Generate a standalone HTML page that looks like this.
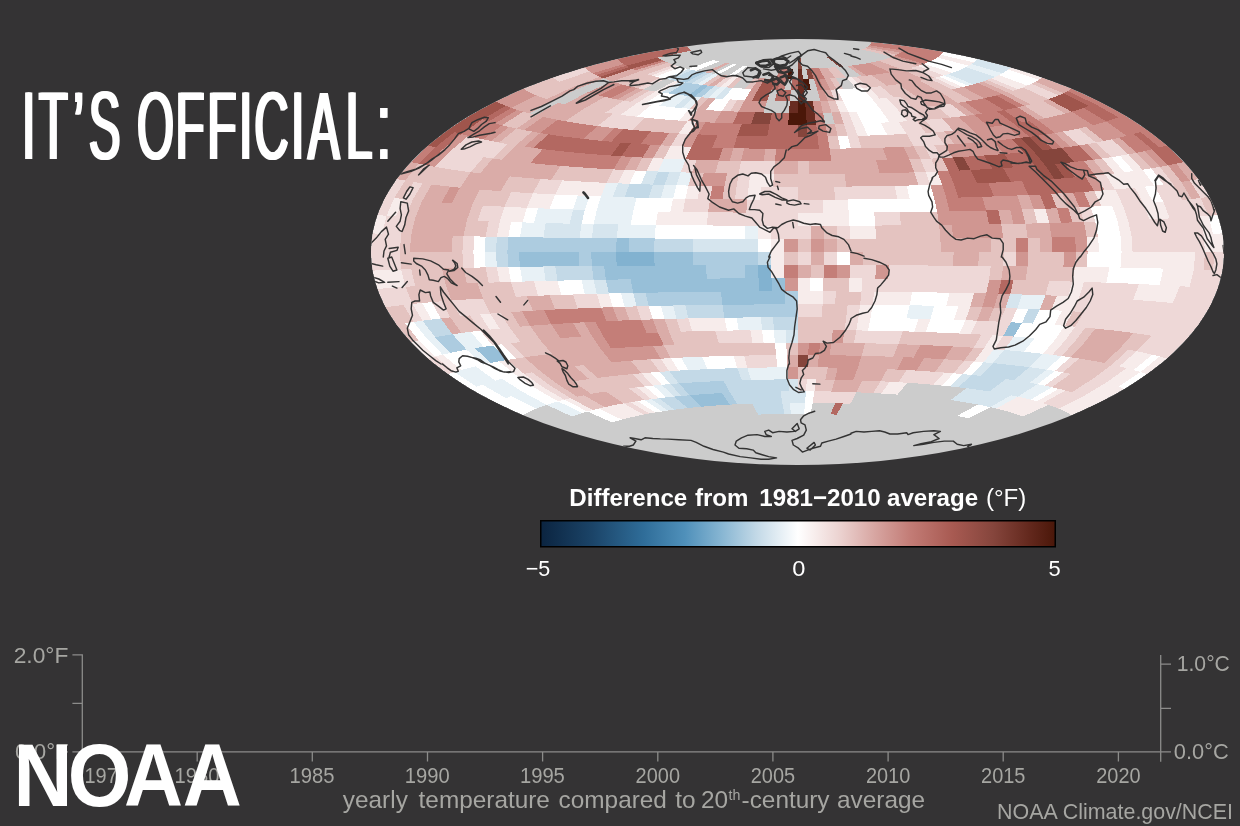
<!DOCTYPE html>
<html lang="en"><head><meta charset="utf-8"><title>It's official: NOAA global temperature</title>
<style>
html,body{margin:0;padding:0;background:#343334;}
body{width:1240px;height:826px;overflow:hidden;}
svg{display:block;}
text{font-family:"DejaVu Sans","Liberation Sans",sans-serif;}
.lib{font-family:"Liberation Sans",sans-serif;}
</style></head>
<body>
<svg width="1240" height="826" viewBox="0 0 1240 826">
<defs>
<clipPath id="globe"><ellipse cx="797.5" cy="252.0" rx="426.5" ry="213.0"/></clipPath>
<linearGradient id="cb" x1="0" x2="1" y1="0" y2="0"><stop offset="0.0%" stop-color="#0b2440"/><stop offset="10.0%" stop-color="#1b4468"/><stop offset="20.0%" stop-color="#2f6d99"/><stop offset="28.0%" stop-color="#4f90ba"/><stop offset="35.0%" stop-color="#86b5d2"/><stop offset="42.0%" stop-color="#c3d9e7"/><stop offset="50.0%" stop-color="#ffffff"/><stop offset="58.0%" stop-color="#ecd3d1"/><stop offset="65.0%" stop-color="#d7a5a1"/><stop offset="72.0%" stop-color="#c27b75"/><stop offset="80.0%" stop-color="#a85a52"/><stop offset="88.0%" stop-color="#85453c"/><stop offset="95.0%" stop-color="#63281d"/><stop offset="100.0%" stop-color="#4a1709"/></linearGradient>
</defs>
<rect width="1240" height="826" fill="#343334"/>
<ellipse cx="797.5" cy="252.0" rx="426.5" ry="213.0" fill="#cccccc"/>
<g clip-path="url(#globe)">
<g shape-rendering="crispEdges">
<path fill="#ffffff" d="M713.1,60L714.6,60.4L716.1,60.8L717.6,61.1L719.2,61.5L696.3,70.8L694.3,70.3L692.2,69.9L690.2,69.5L688.2,69ZM732.7,64L734.5,64.3L736.3,64.6L718.7,74.5L716.4,74.2L714,73.8ZM743.8,65.6L745.7,65.8L747.6,66L733.4,76.2L730.9,75.9L728.5,75.7ZM680.8,67L682.6,67.5L684.4,68L686.3,68.5L688.2,69L665,78.8L662.6,78.3L660.3,77.7L657.9,77.2L655.7,76.6ZM924.2,63.8L925.7,63.2L927.2,62.6L928.6,62L930,61.4L931.3,60.8L932.6,60.2L933.8,59.5L934.9,58.9L936,58.2L937.1,57.5L968.8,65.7L967.4,66.5L965.9,67.2L964.4,68L962.8,68.7L961.1,69.4L959.4,70.2L957.6,70.9L955.8,71.6L953.9,72.2L952,72.9ZM940.7,54.8L941.5,54L942.2,53.3L942.8,52.6L943.4,51.8L977.7,59L976.9,59.8L975.9,60.7L974.9,61.6L973.8,62.4ZM732.7,87.9L735.9,88.1L739,88.3L742.2,88.5L745.3,88.7L748.5,88.9L751.7,89L744.7,100.2L741,100L737.3,99.8L733.7,99.6L730,99.4L726.4,99.2L722.7,99ZM836.8,89.3L840,89.2L843.3,89L846.5,88.9L849.7,88.7L852.8,88.5L856,88.3L859.1,88.1L862.3,87.9L872.3,99L868.6,99.2L865,99.4L861.3,99.6L857.7,99.8L854,100L850.3,100.2L846.6,100.4L842.8,100.5ZM939.3,76.6L941.6,76L943.7,75.4L968,85.7L965.4,86.4L962.7,87ZM661.6,92.5L664.7,93L667.9,93.4L671.1,93.9L674.4,94.3L658.9,105.7L655.3,105.3L651.6,104.8L648,104.4L644.4,103.9ZM715.5,98.5L719.1,98.7L722.7,99L726.4,99.2L730,99.4L721.8,110.9L717.7,110.7L713.6,110.5L709.6,110.2L705.5,110ZM842.8,100.5L846.6,100.4L850.3,100.2L854,100L857.7,99.8L861.3,99.6L865,99.4L868.6,99.2L872.3,99L881.4,110.5L877.3,110.7L873.2,110.9L869.1,111.2L864.9,111.4L860.8,111.5L856.6,111.7L852.5,111.9L848.3,112ZM998.9,75.1L1000.7,74.2L1002.3,73.3L1003.9,72.4L1005.5,71.4L1006.9,70.5L1008.3,69.5L1038.9,79.7L1037.2,80.7L1035.3,81.7L1033.4,82.7L1031.4,83.7L1029.4,84.7L1027.2,85.6ZM651.6,104.8L655.3,105.3L658.9,105.7L662.7,106.2L666.4,106.6L670.2,107L674,107.4L677.9,107.7L681.8,108.1L685.7,108.4L689.6,108.8L678.9,120.6L674.5,120.3L670.2,119.9L665.9,119.6L661.7,119.2L657.5,118.8L653.3,118.4L649.1,118L644.9,117.6L640.8,117.2L636.8,116.7ZM856.6,111.7L860.8,111.5L864.9,111.4L869.1,111.2L873.2,110.9L877.3,110.7L881.4,110.5L889.6,122.3L885.1,122.5L880.6,122.8L876.1,123L871.5,123.2L867,123.4L862.4,123.5ZM862.4,123.5L867,123.4L871.5,123.2L876.1,123L880.6,122.8L887.3,134.9L882.4,135.1L877.5,135.3L872.5,135.4L867.6,135.6ZM837.7,136.4L842.7,136.3L847.7,136.2L851,148.4L845.7,148.5L840.3,148.6ZM635.5,170.5L641,170.8L646.6,171L641.1,184.2L635.3,184L629.5,183.8ZM1111.3,157.1L1115.6,156.5L1120,155.7L1133.5,171L1128.9,171.6L1124.3,172.2ZM676.5,185.3L682.4,185.4L688.4,185.6L685.3,198.7L679.2,198.6L673,198.5ZM906.6,185.6L912.6,185.4L918.5,185.3L924.5,185.1L930.4,185L934.2,198.2L928.1,198.3L922,198.5L915.8,198.6L909.7,198.7ZM1142.5,169.7L1147,169L1151.3,168.3L1163.5,184.5L1158.8,185L1154.2,185.6ZM555.1,194.5L560.7,194.8L566.4,195L572.1,195.3L577.8,195.5L573,209.5L567.1,209.3L561.2,209.1L555.4,208.9L549.6,208.7ZM589.4,196L595.2,196.2L601.1,196.4L596.7,210.2L590.8,210L584.8,209.9ZM636.7,197.6L642.7,197.8L648.7,197.9L654.8,198.1L660.8,198.2L666.9,198.3L673,198.5L670.4,211.7L664.1,211.6L657.9,211.5L651.7,211.4L645.5,211.3L639.3,211.2L633.2,211.1ZM847.7,199.5L853.9,199.4L860.1,199.4L866.4,199.3L872.6,199.3L878.8,199.2L885,199.1L891.2,199L897.4,198.9L903.6,198.8L909.7,198.7L915.8,198.6L922,198.5L928.1,198.3L934.2,198.2L937.1,211.5L930.9,211.6L924.6,211.7L918.4,211.8L912.1,211.9L905.8,212L899.5,212.1L893.2,212.2L886.9,212.2L880.5,212.3L874.2,212.3L867.8,212.4L861.5,212.5L855.1,212.5L848.7,212.5ZM1144.7,186.7L1149.5,186.1L1154.2,185.6L1163.3,201.9L1158.4,202.3L1153.4,202.7ZM526.8,207.8L532.5,208L538.1,208.3L534,222.8L528.2,222.6L522.5,222.4ZM584.8,209.9L590.8,210L596.7,210.2L593.7,224.1L587.6,224L581.5,223.8ZM633.2,211.1L639.3,211.2L645.5,211.3L651.7,211.4L657.9,211.5L655.8,225L649.5,224.9L643.2,224.8L636.9,224.7L630.7,224.7ZM848.7,212.5L855.1,212.5L861.5,212.5L867.8,212.4L874.2,212.3L875.3,225.5L868.9,225.6L862.4,225.6L855.9,225.6L849.5,225.6ZM1090.5,206.7L1095.9,206.4L1101.4,206.2L1106.8,205.9L1112.1,205.5L1117.4,220.9L1111.9,221.1L1106.4,221.3L1100.8,221.5L1095.3,221.7ZM511,222.1L516.7,222.3L522.5,222.4L519.9,237.2L514.1,237.1L508.3,237ZM655.8,225L662.1,225L668.5,225.1L674.8,225.2L681.2,225.2L687.6,225.3L694,225.3L700.4,225.4L706.8,225.4L713.2,225.5L719.7,225.5L726.1,225.6L732.6,225.6L739.1,225.6L745.5,225.6L745.1,238.8L738.5,238.8L732,238.8L725.5,238.8L719,238.7L712.5,238.7L706,238.7L699.5,238.7L693.1,238.7L686.6,238.6L680.2,238.6L673.7,238.6L667.3,238.5L660.9,238.5L654.6,238.5ZM1095.3,221.7L1100.8,221.5L1106.4,221.3L1111.9,221.1L1117.4,220.9L1120.5,236.4L1115,236.5L1109.4,236.6L1103.8,236.7L1098.1,236.8ZM1208.4,215.8L1213,215.4L1217.5,215L1222.4,233.4L1217.7,233.6L1213,233.8ZM474.5,236.4L480,236.5L485.6,236.6L484.6,252L479,252L473.4,252ZM758.2,238.8L764.7,238.8L771.3,238.8L771.2,252L764.6,252L758.1,252ZM1098.1,236.8L1103.8,236.7L1109.4,236.6L1115,236.5L1120.5,236.4L1121.6,252L1116,252L1110.4,252L1104.8,252L1099.1,252ZM473.4,252L479,252L484.6,252L485.6,267.4L480,267.5L474.5,267.6ZM836.9,252L843.5,252L850.1,252L849.9,265.2L843.4,265.2L836.8,265.2ZM1087.6,252L1093.4,252L1099.1,252L1104.8,252L1110.4,252L1116,252L1121.6,252L1120.5,267.6L1115,267.5L1109.4,267.4L1103.8,267.3L1098.1,267.2L1092.4,267.1L1086.7,267ZM508.3,267L514.1,266.9L519.9,266.8L522.5,281.6L516.7,281.7L511,281.9ZM1109.4,267.4L1115,267.5L1120.5,267.6L1126,267.7L1131.5,267.8L1136.9,267.9L1142.3,268L1147.7,268.2L1153,268.3L1158.2,268.4L1163.4,268.6L1159.7,285L1154.5,284.7L1149.4,284.5L1144.1,284.2L1138.9,284L1133.6,283.8L1128.2,283.5L1122.8,283.3L1117.4,283.1L1111.9,282.9L1106.4,282.7ZM557.5,280.7L563.5,280.5L569.5,280.4L575.5,280.3L581.5,280.2L584.8,294.1L578.9,294.3L573,294.5L567.1,294.7L561.2,294.9ZM810.5,278.3L817,278.3L823.5,278.3L823.1,291.4L816.7,291.3L810.3,291.3ZM422.1,303L426.9,302.6L431.7,302.1L440.8,318.4L436.2,319L431.5,319.5ZM608.8,293.5L614.9,293.3L620.9,293.2L624.7,306.8L618.8,306.9L612.8,307.1ZM912.1,292.1L918.4,292.2L924.6,292.3L930.9,292.4L937.1,292.5L943.3,292.6L949.5,292.7L946.3,306.1L940.2,305.9L934.2,305.8L928.1,305.7L922,305.5L915.8,305.4L909.7,305.3ZM405.1,323.4L409.3,322.7L413.7,322L426.8,338.7L422.7,339.5L418.7,340.3ZM648.7,306.1L654.8,305.9L660.8,305.8L664.6,319L658.7,319.2L652.8,319.4ZM872.6,304.7L878.8,304.8L885,304.9L891.2,305L897.4,305.1L903.6,305.2L909.7,305.3L906.6,318.4L900.6,318.3L894.7,318.2L888.6,318L882.6,317.9L876.6,317.8L870.6,317.7ZM934.2,305.8L940.2,305.9L946.3,306.1L952.3,306.2L958.3,306.4L953.9,319.8L948,319.6L942.2,319.4L936.3,319.2L930.4,319ZM1017.2,308.5L1022.9,308.7L1028.6,309L1021.9,322.9L1016.4,322.6L1010.9,322.3ZM1039.9,309.5L1045.5,309.8L1051.1,310.1L1056.6,310.4L1062.1,310.7L1054.3,325L1049,324.6L1043.7,324.3L1038.3,323.9L1032.9,323.6ZM418.7,340.3L422.7,339.5L426.8,338.7L442.7,354.7L438.9,355.6L435.3,356.5ZM470.7,331.8L475.4,331.2L480.1,330.6L492.6,345.5L488.2,346.2L483.7,346.9ZM724.4,317.7L730.5,317.6L736.6,317.6L738.7,330.4L732.8,330.5L727,330.6ZM870.6,317.7L876.6,317.8L882.6,317.9L888.6,318L894.7,318.2L900.6,318.3L906.6,318.4L912.6,318.6L918.5,318.7L914.3,331.7L908.6,331.5L902.9,331.4L897.1,331.2L891.3,331.1L885.5,330.9L879.7,330.8L873.9,330.7L868,330.6ZM930.4,319L936.3,319.2L942.2,319.4L948,319.6L953.9,319.8L959.7,320L965.5,320.2L959.5,333.5L954,333.2L948.4,333L942.7,332.7L937.1,332.5L931.4,332.3L925.8,332.1ZM1021.9,322.9L1027.4,323.2L1032.9,323.6L1038.3,323.9L1043.7,324.3L1049,324.6L1054.3,325L1059.6,325.4L1064.8,325.8L1054.8,340L1049.8,339.5L1044.8,339.1L1039.7,338.6L1034.6,338.2L1029.5,337.8L1024.3,337.4L1019.1,337L1013.8,336.6ZM442.7,354.7L446.5,353.8L450.4,352.9L454.3,352.1L458.4,351.3L462.4,350.5L466.6,349.7L483.1,364.6L479.3,365.4L475.6,366.3L471.9,367.2L468.3,368.1L464.7,369.1L461.3,370ZM492.6,345.5L497.2,344.9L501.8,344.3L515.9,358.6L511.6,359.3L507.3,360ZM762.1,330.1L768,330.1L773.9,330L774.9,342.7L769.3,342.7L763.6,342.8ZM1034.6,338.2L1039.7,338.6L1044.8,339.1L1049.8,339.5L1054.8,340L1043,353.8L1038.3,353.3L1033.6,352.8L1028.8,352.3L1023.9,351.8ZM1152.3,354.7L1156.1,355.6L1159.7,356.5L1140.5,372L1137.1,371L1133.7,370ZM448.1,374.2L451.3,373.1L454.5,372L476.4,386.7L473.6,387.8L470.8,388.9ZM475.6,366.3L479.3,365.4L483.1,364.6L487,363.8L491,363L495,362.2L499,361.4L516.6,375.4L512.9,376.2L509.2,377.1L505.6,377.9L502.1,378.8L498.6,379.7L495.2,380.6ZM774.9,342.7L780.6,342.6L786.2,342.6L786.8,355L781.4,355.1L776.1,355.1ZM1061.5,356.1L1066,356.7L1070.4,357.3L1054.9,371L1050.7,370.3L1046.6,369.7ZM1140.5,372L1143.7,373.1L1146.9,374.2L1124.2,388.9L1121.4,387.8L1118.6,386.7ZM470.8,388.9L473.6,387.8L476.4,386.7L479.4,385.6L482.4,384.6L505.9,398.2L503.3,399.2L500.7,400.3L498.3,401.5L495.9,402.6ZM502.1,378.8L505.6,377.9L509.2,377.1L512.9,376.2L516.6,375.4L536.3,388.8L533,389.6L529.7,390.5L526.5,391.4L523.3,392.3ZM670.8,358.2L676,357.9L681.1,357.6L688.3,370.1L683.5,370.3L678.7,370.6ZM701.8,356.8L707.1,356.6L712.3,356.4L717.5,356.2L722.8,356.1L728.1,355.9L733.4,355.8L737.3,368.1L732.4,368.2L727.4,368.4L722.5,368.6L717.5,368.7L712.6,368.9L707.7,369.1ZM776.1,355.1L781.4,355.1L786.8,355L787.4,367.3L782.4,367.3L777.4,367.4ZM974,361.5L978.8,361.9L983.6,362.3L971.6,375L967.2,374.5L962.7,374.1ZM1054.9,371L1058.9,371.7L1062.9,372.4L1044.7,385.6L1041,384.9L1037.3,384.2ZM495.9,402.6L498.3,401.5L500.7,400.3L503.3,399.2L505.9,398.2L508.6,397.1L511.4,396.1L536.4,408.7L534,409.7L531.7,410.8L529.5,411.8L527.4,412.9L525.3,414L523.4,415.2ZM523.3,392.3L526.5,391.4L529.7,390.5L533,389.6L536.3,388.8L558.2,401.4L555.2,402.2L552.3,403.1L549.5,404L546.7,404.9ZM650.6,372.5L655.2,372.2L659.9,371.9L670.2,384.1L665.9,384.4L661.7,384.8ZM953.6,373.3L958.2,373.7L962.7,374.1L950.1,386.4L945.9,386L941.7,385.6ZM1051.8,387.2L1055.3,388L1058.7,388.8L1036.8,401.4L1033.8,400.5L1030.7,399.7ZM558.2,401.4L561.2,400.5L564.3,399.7L587.3,411.5L584.6,412.3L582,413.1ZM644.9,386.4L649.1,386L653.3,385.6L666.4,397.4L662.7,397.8L658.9,398.3ZM587.3,411.5L590,410.8L592.8,410L595.7,409.3L598.6,408.5L621.9,419.6L619.4,420.3L617,421L614.6,421.7L612.3,422.5ZM637.3,401.1L640.8,400.6L644.4,400.1L661.6,411.5L658.5,412L655.4,412.5ZM806,391.1L810.3,391.1L814.5,391.2L812.7,402.7L808.9,402.7L805.1,402.6ZM977.9,404.5L981.1,405.2L984.3,405.8L987.4,406.5L990.4,407.1L968,418.3L965.4,417.6L962.7,417L960,416.4L957.2,415.8ZM805.1,402.6L808.9,402.7L812.7,402.7L810.7,413.9L807.4,413.9L804.1,413.9Z"/>
<path fill="#f7eceb" d="M677.3,66L679,66.5L680.8,67L655.7,76.6L653.4,76L651.3,75.4ZM733.4,76.2L736,76.4L738.5,76.7L726.5,87.4L723.4,87.1L720.4,86.8ZM846.2,77.5L848.8,77.3L851.4,77.1L862.3,87.9L859.1,88.1L856,88.3ZM917.7,66L919.4,65.5L921.1,64.9L922.7,64.4L924.2,63.8L952,72.9L950,73.5L948,74.2L945.9,74.8L943.7,75.4ZM937.1,57.5L938.1,56.9L939,56.2L939.9,55.5L940.7,54.8L973.8,62.4L972.7,63.2L971.5,64.1L970.2,64.9L968.8,65.7ZM675.1,80.8L677.7,81.3L680.3,81.7L661.6,92.5L658.5,92L655.4,91.5ZM862.3,87.9L865.4,87.6L868.5,87.4L879.5,98.5L875.9,98.7L872.3,99ZM934.7,77.7L937.1,77.2L939.3,76.6L962.7,87L960,87.6L957.2,88.2ZM655.4,91.5L658.5,92L661.6,92.5L644.4,103.9L640.8,103.4L637.3,102.9ZM835.3,100.8L839.1,100.7L842.8,100.5L848.3,112L844.1,112.2L839.9,112.3ZM872.3,99L875.9,98.7L879.5,98.5L883,98.2L886.6,97.9L897.5,109.4L893.5,109.7L889.5,110L885.4,110.2L881.4,110.5ZM991.3,78.4L993.3,77.6L995.3,76.8L997.1,75.9L998.9,75.1L1027.2,85.6L1025,86.5L1022.8,87.4L1020.4,88.3L1018,89.2ZM1008.3,69.5L1009.5,68.5L1010.8,67.5L1042.1,77.5L1040.6,78.6L1038.9,79.7ZM637.3,102.9L640.8,103.4L644.4,103.9L648,104.4L651.6,104.8L636.8,116.7L632.7,116.2L628.7,115.8L624.8,115.3L620.8,114.7ZM689.6,108.8L693.5,109.1L697.5,109.4L687.6,121.2L683.2,120.9L678.9,120.6ZM848.3,112L852.5,111.9L856.6,111.7L862.4,123.5L857.8,123.7L853.2,123.8ZM881.4,110.5L885.4,110.2L889.5,110L893.5,109.7L897.5,109.4L907.4,121.2L903,121.5L898.5,121.8L894.1,122L889.6,122.3ZM687.6,121.2L692,121.5L696.5,121.8L688.3,133.9L683.5,133.7L678.7,133.4ZM853.2,123.8L857.8,123.7L862.4,123.5L867.6,135.6L862.6,135.8L857.7,135.9ZM880.6,122.8L885.1,122.5L889.6,122.3L894.1,122L898.5,121.8L906.7,133.9L901.8,134.2L897,134.4L892.1,134.6L887.3,134.9ZM670.8,145.8L676,146.1L681.1,146.4L686.2,146.6L691.4,146.8L685.6,159.4L680.2,159.2L674.7,159L669.3,158.8L663.9,158.6ZM653.1,158L658.5,158.3L663.9,158.6L657.9,171.5L652.3,171.3L646.6,171ZM624.4,170L629.9,170.3L635.5,170.5L629.5,183.8L623.8,183.6L618,183.3ZM750.4,173.8L756.3,173.8L762.1,173.9L768,173.9L773.9,174L773.1,186.7L767,186.7L760.9,186.7L754.8,186.6L748.7,186.6ZM925.8,171.9L931.4,171.7L937.1,171.5L942.2,184.6L936.3,184.8L930.4,185ZM1102.4,158.5L1106.8,157.8L1111.3,157.1L1124.3,172.2L1119.6,172.8L1114.9,173.4ZM1120,155.7L1124.2,155L1128.4,154.3L1142.5,169.7L1138.1,170.3L1133.5,171ZM562.1,180.4L567.6,180.8L573.1,181.1L578.6,181.4L584.1,181.7L589.7,182L595.3,182.3L601,182.6L606.6,182.8L601.1,196.4L595.2,196.2L589.4,196L583.6,195.8L577.8,195.5L572.1,195.3L566.4,195L560.7,194.8L555.1,194.5ZM688.4,185.6L694.4,185.7L700.3,185.8L697.6,198.9L691.4,198.8L685.3,198.7ZM748.7,186.6L754.8,186.6L760.9,186.7L759.9,199.6L753.6,199.5L747.3,199.5ZM894.7,185.8L900.6,185.7L906.6,185.6L909.7,198.7L903.6,198.8L897.4,198.9ZM1105.2,174.4L1110.1,173.9L1114.9,173.4L1119.6,172.8L1124.3,172.2L1128.9,171.6L1133.5,171L1138.1,170.3L1142.5,169.7L1154.2,185.6L1149.5,186.1L1144.7,186.7L1139.9,187.2L1135,187.7L1130.1,188.2L1125.1,188.6L1120.1,189.1L1115.1,189.5ZM532.9,193.3L538.4,193.6L543.9,193.9L549.5,194.2L555.1,194.5L549.6,208.7L543.9,208.5L538.1,208.3L532.5,208L526.8,207.8ZM673,198.5L679.2,198.6L685.3,198.7L682.9,211.9L676.6,211.8L670.4,211.7ZM822.6,199.6L828.9,199.6L835.1,199.6L841.4,199.5L847.7,199.5L848.7,212.5L842.3,212.6L835.9,212.6L829.5,212.6L823.1,212.6ZM1094.4,191.2L1099.6,190.8L1104.8,190.4L1109.9,190L1115.1,189.5L1122.7,204.9L1117.4,205.2L1112.1,205.5L1106.8,205.9L1101.4,206.2ZM1135,187.7L1139.9,187.2L1144.7,186.7L1153.4,202.7L1148.4,203.1L1143.4,203.5ZM394.3,198L398.8,198.5L403.4,199.1L396,216.5L391.3,216.1L386.6,215.8ZM504.5,206.7L510,207L515.6,207.3L521.2,207.5L526.8,207.8L522.5,222.4L516.7,222.3L511,222.1L505.4,221.9L499.7,221.7ZM657.9,211.5L664.1,211.6L670.4,211.7L676.6,211.8L682.9,211.9L689.2,212L695.5,212.1L701.8,212.2L708.1,212.2L706.8,225.4L700.4,225.4L694,225.3L687.6,225.3L681.2,225.2L674.8,225.2L668.5,225.1L662.1,225L655.8,225ZM797.5,212.7L803.9,212.7L810.3,212.7L816.7,212.7L823.1,212.6L829.5,212.6L835.9,212.6L842.3,212.6L848.7,212.5L849.5,225.6L843,225.7L836.5,225.7L830,225.7L823.5,225.7L817,225.7L810.5,225.7L804,225.7L797.5,225.7ZM1033.8,209.1L1039.6,208.9L1045.4,208.7L1049.3,223.1L1043.4,223.2L1037.5,223.3ZM1112.1,205.5L1117.4,205.2L1122.7,204.9L1128.2,220.5L1122.8,220.7L1117.4,220.9ZM1143.4,203.5L1148.4,203.1L1153.4,202.7L1158.4,202.3L1163.3,201.9L1169.8,218.4L1164.8,218.7L1159.7,219L1154.5,219.3L1149.4,219.5ZM377.5,215L382,215.4L386.6,215.8L382,233.8L377.3,233.6L372.6,233.4ZM499.7,221.7L505.4,221.9L511,222.1L508.3,237L502.6,236.9L496.9,236.8ZM758.5,225.7L765,225.7L771.5,225.7L771.3,238.8L764.7,238.8L758.2,238.8ZM849.5,225.6L855.9,225.6L862.4,225.6L868.9,225.6L875.3,225.5L876,238.7L869.5,238.8L863,238.8L856.5,238.8L849.9,238.8ZM1117.4,220.9L1122.8,220.7L1128.2,220.5L1131.5,236.2L1126,236.3L1120.5,236.4ZM1199,216.5L1203.7,216.1L1208.4,215.8L1213,233.8L1208.3,234L1203.5,234.2ZM771.3,238.8L777.8,238.9L784.4,238.9L784.3,252L777.8,252L771.2,252ZM1086.7,237L1092.4,236.9L1098.1,236.8L1099.1,252L1093.4,252L1087.6,252ZM1120.5,236.4L1126,236.3L1131.5,236.2L1132.6,252L1127.1,252L1121.6,252ZM1203.5,234.2L1208.3,234L1213,233.8L1217.7,233.6L1222.4,233.4L1224,252L1219.3,252L1214.6,252L1209.8,252L1205,252ZM771.2,252L777.8,252L784.3,252L784.4,265.1L777.8,265.1L771.3,265.2ZM1121.6,252L1127.1,252L1132.6,252L1138,252L1143.5,252L1148.8,252L1154.2,252L1159.4,252L1164.7,252L1169.9,252L1175,252L1180.1,252L1185.2,252L1190.2,252L1195.2,252L1193.8,269.5L1188.8,269.3L1183.8,269.1L1178.8,269L1173.7,268.8L1168.6,268.7L1163.4,268.6L1158.2,268.4L1153,268.3L1147.7,268.2L1142.3,268L1136.9,267.9L1131.5,267.8L1126,267.7L1120.5,267.6ZM372.6,270.6L377.3,270.4L382,270.2L386.7,270L391.5,269.8L396.3,269.6L401.2,269.5L405.5,286.8L400.7,287.2L396,287.5L391.3,287.9L386.6,288.2L382,288.6L377.5,289ZM496.9,267.2L502.6,267.1L508.3,267L511,281.9L505.4,282.1L499.7,282.3ZM771.3,265.2L777.8,265.1L784.4,265.1L784.5,278.3L778,278.3L771.5,278.3ZM1075.1,266.8L1080.9,266.9L1086.7,267L1092.4,267.1L1098.1,267.2L1103.8,267.3L1109.4,267.4L1106.4,282.7L1100.8,282.5L1095.3,282.3L1089.6,282.1L1084,281.9L1078.3,281.7L1072.5,281.6ZM1163.4,268.6L1168.6,268.7L1173.7,268.8L1178.8,269L1183.8,269.1L1188.8,269.3L1193.8,269.5L1189.5,286.8L1184.6,286.5L1179.7,286.2L1174.8,285.9L1169.8,285.6L1164.8,285.3L1159.7,285ZM534,281.2L539.9,281.1L545.7,280.9L551.6,280.8L557.5,280.7L561.2,294.9L555.4,295.1L549.6,295.3L543.9,295.5L538.1,295.7ZM797.5,278.3L804,278.3L810.5,278.3L810.3,291.3L803.9,291.3L797.5,291.3ZM849.5,278.4L855.9,278.4L862.4,278.4L861.5,291.5L855.1,291.5L848.7,291.5ZM1072.5,281.6L1078.3,281.7L1084,281.9L1079.4,296.7L1073.8,296.5L1068.2,296.2ZM1138.9,284L1144.1,284.2L1149.4,284.5L1154.5,284.7L1159.7,285L1164.8,285.3L1169.8,285.6L1174.8,285.9L1179.7,286.2L1172.9,303L1168.1,302.6L1163.3,302.1L1158.4,301.7L1153.4,301.3L1148.4,300.9L1143.4,300.5L1138.3,300.2L1133.1,299.8ZM412.6,304L417.3,303.5L422.1,303L431.5,319.5L427,320.1L422.5,320.8ZM596.7,293.8L602.8,293.6L608.8,293.5L612.8,307.1L606.9,307.3L601.1,307.6ZM797.5,291.3L803.9,291.3L810.3,291.3L816.7,291.3L823.1,291.4L822.6,304.4L816.3,304.3L810.1,304.3L803.8,304.3L797.5,304.3ZM874.2,291.7L880.5,291.7L886.9,291.8L893.2,291.8L899.5,291.9L905.8,292L912.1,292.1L909.7,305.3L903.6,305.2L897.4,305.1L891.2,305L885,304.9L878.8,304.8L872.6,304.7ZM949.5,292.7L955.7,292.8L961.8,292.9L967.9,293.1L974.1,293.2L970.3,306.8L964.3,306.6L958.3,306.4L952.3,306.2L946.3,306.1ZM1056.9,295.7L1062.5,296L1068.2,296.2L1073.8,296.5L1079.4,296.7L1073,311.4L1067.6,311L1062.1,310.7L1056.6,310.4L1051.1,310.1ZM479.9,314.5L485.1,314L490.2,313.6L499.6,328.5L494.7,329L489.8,329.6ZM860.1,304.6L866.4,304.7L872.6,304.7L870.6,317.7L864.5,317.6L858.4,317.6ZM958.3,306.4L964.3,306.6L970.3,306.8L965.5,320.2L959.7,320L953.9,319.8ZM1062.1,310.7L1067.6,311L1073,311.4L1064.8,325.8L1059.6,325.4L1054.3,325ZM411,342L414.8,341.1L418.7,340.3L435.3,356.5L431.7,357.5L428.1,358.5ZM688.4,318.4L694.4,318.3L700.3,318.2L706.4,318L712.4,317.9L718.4,317.8L724.4,317.7L727,330.6L721.1,330.7L715.3,330.8L709.5,330.9L703.7,331.1L697.9,331.2L692.1,331.4ZM858.4,317.6L864.5,317.6L870.6,317.7L868,330.6L862.2,330.5L856.3,330.4ZM918.5,318.7L924.5,318.9L930.4,319L925.8,332.1L920.1,331.9L914.3,331.7ZM965.5,320.2L971.2,320.4L977,320.7L970.6,334L965.1,333.7L959.5,333.5ZM1064.8,325.8L1070,326.2L1075.2,326.7L1064.7,341L1059.8,340.5L1054.8,340ZM435.3,356.5L438.9,355.6L442.7,354.7L461.3,370L457.9,371L454.5,372ZM750.4,330.2L756.3,330.2L762.1,330.1L763.6,342.8L758,342.8L752.4,342.9ZM992.4,335.2L997.8,335.5L1003.2,335.9L994.1,349.2L989,348.8L983.9,348.5ZM1054.8,340L1059.8,340.5L1064.7,341L1052.3,354.9L1047.7,354.3L1043,353.8ZM1136.6,351.3L1140.7,352.1L1144.6,352.9L1148.5,353.8L1152.3,354.7L1133.7,370L1130.3,369.1L1126.7,368.1L1123.1,367.2L1119.4,366.3ZM1159.7,356.5L1163.3,357.5L1166.9,358.5L1146.9,374.2L1143.7,373.1L1140.5,372ZM499,361.4L503.2,360.7L507.3,360L524.2,373.9L520.4,374.6L516.6,375.4ZM983.9,348.5L989,348.8L994.1,349.2L983.6,362.3L978.8,361.9L974,361.5ZM1126.7,368.1L1130.3,369.1L1133.7,370L1137.1,371L1140.5,372L1118.6,386.7L1115.6,385.6L1112.6,384.6L1109.5,383.5L1106.3,382.5ZM516.6,375.4L520.4,374.6L524.2,373.9L543.2,387.2L539.7,388L536.3,388.8ZM660.7,358.7L665.7,358.4L670.8,358.2L678.7,370.6L674,370.9L669.3,371.2ZM733.4,355.8L738.7,355.7L744,355.6L747.3,367.8L742.3,368L737.3,368.1ZM1106.3,382.5L1109.5,383.5L1112.6,384.6L1115.6,385.6L1118.6,386.7L1121.4,387.8L1124.2,388.9L1099.1,402.6L1096.7,401.5L1094.3,400.3L1091.7,399.2L1089.1,398.2L1086.4,397.1L1083.6,396.1ZM536.3,388.8L539.7,388L543.2,387.2L564.3,399.7L561.2,400.5L558.2,401.4ZM641.4,373.3L646,372.9L650.6,372.5L661.7,384.8L657.5,385.2L653.3,385.6ZM944.4,372.5L949,372.9L953.6,373.3L941.7,385.6L937.5,385.2L933.3,384.8ZM1058.7,388.8L1062,389.6L1065.3,390.5L1042.7,403.1L1039.8,402.2L1036.8,401.4ZM1083.6,396.1L1086.4,397.1L1089.1,398.2L1091.7,399.2L1094.3,400.3L1096.7,401.5L1099.1,402.6L1071.6,415.2L1069.7,414L1067.6,412.9L1065.5,411.8L1063.3,410.8L1061,409.7L1058.6,408.7ZM564.3,399.7L567.4,398.9L570.6,398.2L592.8,410L590,410.8L587.3,411.5ZM636.8,387.3L640.8,386.8L644.9,386.4L658.9,398.3L655.3,398.7L651.6,399.2ZM806.8,379.3L811.5,379.4L816.2,379.4L814.5,391.2L810.3,391.1L806,391.1ZM889.6,381.7L894.1,382L898.5,382.2L903,382.5L907.4,382.8L897.5,394.6L893.5,394.3L889.5,394L885.4,393.8L881.4,393.5ZM1017.8,396.7L1021.1,397.4L1024.4,398.2L1027.6,398.9L1030.7,399.7L1033.8,400.5L1036.8,401.4L1039.8,402.2L1042.7,403.1L1045.5,404L1048.3,404.9L1022.8,416.6L1020.4,415.7L1018,414.8L1015.5,414L1013,413.1L1010.4,412.3L1007.7,411.5L1005,410.8L1002.2,410L999.3,409.3L996.4,408.5ZM598.6,408.5L601.5,407.8L604.6,407.1L607.6,406.5L610.7,405.8L613.9,405.2L617.1,404.5L620.4,403.9L623.7,403.4L643.5,414.6L640.6,415.2L637.8,415.8L635,416.4L632.3,417L629.6,417.6L627,418.3L624.4,418.9L621.9,419.6ZM630.4,402.2L633.8,401.7L637.3,401.1L655.4,412.5L652.4,413L649.4,413.5Z"/>
<path fill="#eed8d7" d="M673.9,64.9L675.6,65.5L677.3,66L651.3,75.4L649.1,74.8L647,74.2ZM728.5,75.7L730.9,75.9L733.4,76.2L720.4,86.8L717.4,86.5L714.3,86.2ZM851.4,77.1L853.9,76.9L856.5,76.7L868.5,87.4L865.4,87.6L862.3,87.9ZM910.6,68L912.4,67.5L914.2,67L916,66.5L917.7,66L943.7,75.4L941.6,76L939.3,76.6L937.1,77.2L934.7,77.7ZM660.3,77.7L662.6,78.3L665,78.8L643.5,89.4L640.6,88.8L637.8,88.2ZM830.3,89.6L833.6,89.5L836.8,89.3L842.8,100.5L839.1,100.7L835.3,100.8ZM868.5,87.4L871.6,87.1L874.6,86.8L877.6,86.5L880.7,86.2L893.6,97.3L890.1,97.6L886.6,97.9L883,98.2L879.5,98.5ZM930,78.8L932.4,78.3L934.7,77.7L957.2,88.2L954.4,88.8L951.5,89.4ZM584.2,67.5L585.5,68.5L586.7,69.5L588.1,70.5L589.5,71.4L559.7,81.7L557.8,80.7L556.1,79.7L554.4,78.6L552.9,77.5ZM649.4,90.5L652.4,91L655.4,91.5L637.3,102.9L633.8,102.3L630.4,101.8ZM730,99.4L733.7,99.6L737.3,99.8L730.1,111.4L725.9,111.2L721.8,110.9ZM886.6,97.9L890.1,97.6L893.6,97.3L897.1,97L900.5,96.6L913.2,108.1L909.3,108.4L905.4,108.8L901.5,109.1L897.5,109.4ZM987.1,80L989.3,79.2L991.3,78.4L1018,89.2L1015.5,90L1013,90.9ZM623.7,100.6L627,101.2L630.4,101.8L633.8,102.3L637.3,102.9L620.8,114.7L617,114.2L613.1,113.7L609.3,113.1L605.5,112.5ZM839.9,112.3L844.1,112.2L848.3,112L853.2,123.8L848.6,124L844,124.1ZM897.5,109.4L901.5,109.1L905.4,108.8L909.3,108.4L913.2,108.1L924.8,119.9L920.5,120.3L916.1,120.6L911.8,120.9L907.4,121.2ZM936.1,105.7L939.7,105.3L943.4,104.8L947,104.4L950.6,103.9L966.3,115.8L962.3,116.2L958.2,116.7L954.2,117.2L950.1,117.6ZM1022.8,87.4L1025,86.5L1027.2,85.6L1029.4,84.7L1031.4,83.7L1058.6,95.3L1056.1,96.3L1053.6,97.2L1051,98.2L1048.3,99.1ZM613.1,113.7L617,114.2L620.8,114.7L624.8,115.3L628.7,115.8L632.7,116.2L636.8,116.7L640.8,117.2L644.9,117.6L632.3,129.9L627.8,129.5L623.4,129L619,128.6L614.6,128.1L610.2,127.6L605.9,127.1L601.7,126.6L597.5,126.1ZM844,124.1L848.6,124L853.2,123.8L857.7,135.9L852.7,136L847.7,136.2ZM898.5,121.8L903,121.5L907.4,121.2L911.8,120.9L916.1,120.6L925.7,132.8L921,133.1L916.3,133.4L911.5,133.7L906.7,133.9ZM924.8,119.9L929.1,119.6L933.3,119.2L937.5,118.8L941.7,118.4L953.6,130.7L949,131.1L944.4,131.5L939.8,131.8L935.1,132.1ZM678.7,133.4L683.5,133.7L688.3,133.9L681.1,146.4L676,146.1L670.8,145.8ZM847.7,136.2L852.7,136L857.7,135.9L861.6,148.2L856.3,148.3L851,148.4ZM906.7,133.9L911.5,133.7L916.3,133.4L921,133.1L925.7,132.8L930.5,132.5L935.1,132.1L944.4,144.7L939.4,145L934.3,145.3L929.3,145.6L924.2,145.8L919,146.1L913.9,146.4ZM924.2,145.8L929.3,145.6L934.3,145.3L941.9,158L936.5,158.3L931.1,158.6ZM1062.9,131.6L1066.9,130.9L1070.8,130.1L1074.6,129.4L1078.4,128.6L1096,142.6L1091.8,143.3L1087.7,144L1083.4,144.7L1079.1,145.4ZM468.3,135.9L471.9,136.8L475.6,137.7L479.3,138.6L483.1,139.4L487,140.2L491,141L495,141.8L499,142.6L503.2,143.3L507.3,144L492.6,158.5L488.2,157.8L483.7,157.1L479.4,156.5L475,155.7L470.8,155L466.6,154.3L462.4,153.5L458.4,152.7L454.3,151.9L450.4,151.1ZM685.6,159.4L691.1,159.6L696.6,159.8L692.1,172.6L686.4,172.5L680.7,172.3ZM741.1,160.9L746.7,161L752.4,161.1L758,161.2L763.6,161.2L769.3,161.3L774.9,161.3L773.9,174L768,173.9L762.1,173.9L756.3,173.8L750.4,173.8L744.5,173.7L738.7,173.6ZM920.3,159L925.7,158.8L931.1,158.6L937.1,171.5L931.4,171.7L925.8,171.9ZM1096,142.6L1100,141.8L1104,141L1108,140.2L1111.9,139.4L1128.4,154.3L1124.2,155L1120,155.7L1115.6,156.5L1111.3,157.1ZM450.4,151.1L454.3,151.9L458.4,152.7L462.4,153.5L466.6,154.3L470.8,155L475,155.7L479.4,156.5L483.7,157.1L470.7,172.2L466.1,171.6L461.5,171L456.9,170.3L452.5,169.7L448,169L443.7,168.3L439.4,167.6L435.1,166.9ZM613.4,169.4L618.9,169.7L624.4,170L618,183.3L612.3,183.1L606.6,182.8ZM738.7,173.6L744.5,173.7L750.4,173.8L748.7,186.6L742.6,186.5L736.6,186.4ZM914.3,172.3L920.1,172.1L925.8,171.9L930.4,185L924.5,185.1L918.5,185.3ZM540.7,179L546,179.4L551.3,179.7L556.7,180.1L562.1,180.4L555.1,194.5L549.5,194.2L543.9,193.9L538.4,193.6L532.9,193.3ZM700.3,185.8L706.4,186L712.4,186.1L710,199.1L703.8,199L697.6,198.9ZM736.6,186.4L742.6,186.5L748.7,186.6L747.3,199.5L741.1,199.4L734.9,199.4ZM760.9,186.7L767,186.7L773.1,186.7L779.2,186.8L785.3,186.8L791.4,186.8L797.5,186.8L797.5,199.7L791.2,199.7L784.9,199.7L778.7,199.7L772.4,199.6L766.1,199.6L759.9,199.6ZM834.1,186.7L840.2,186.6L846.3,186.6L852.4,186.5L858.4,186.4L864.5,186.4L870.6,186.3L876.6,186.2L882.6,186.1L888.6,186L894.7,185.8L897.4,198.9L891.2,199L885,199.1L878.8,199.2L872.6,199.3L866.4,199.3L860.1,199.4L853.9,199.4L847.7,199.5L841.4,199.5L835.1,199.6ZM1095.4,175.5L1100.3,175L1105.2,174.4L1115.1,189.5L1109.9,190L1104.8,190.4ZM1151.3,168.3L1155.6,167.6L1159.9,166.9L1172.5,183.2L1168,183.9L1163.5,184.5ZM396.7,179.1L400.9,179.9L405.1,180.6L394.3,198L389.9,197.4L385.5,196.9ZM413.7,182L418,182.6L422.5,183.2L412.6,200L408,199.6L403.4,199.1ZM511.2,191.9L516.6,192.3L522,192.6L527.4,193L532.9,193.3L526.8,207.8L521.2,207.5L515.6,207.3L510,207L504.5,206.7ZM685.3,198.7L691.4,198.8L697.6,198.9L703.8,199L710,199.1L708.1,212.2L701.8,212.2L695.5,212.1L689.2,212L682.9,211.9ZM747.3,199.5L753.6,199.5L759.9,199.6L766.1,199.6L772.4,199.6L778.7,199.7L784.9,199.7L791.2,199.7L797.5,199.7L803.8,199.7L810.1,199.7L816.3,199.7L822.6,199.6L823.1,212.6L816.7,212.7L810.3,212.7L803.9,212.7L797.5,212.7L791.1,212.7L784.7,212.7L778.3,212.7L771.9,212.6L765.5,212.6L759.1,212.6L752.7,212.6L746.3,212.5ZM1115.1,189.5L1120.1,189.1L1125.1,188.6L1130.1,188.2L1135,187.7L1143.4,203.5L1138.3,203.8L1133.1,204.2L1127.9,204.6L1122.7,204.9ZM1154.2,185.6L1158.8,185L1163.5,184.5L1168,183.9L1172.5,183.2L1182.4,200L1177.7,200.5L1172.9,201L1168.1,201.4L1163.3,201.9ZM1189.9,180.6L1194.1,179.9L1198.3,179.1L1209.5,196.9L1205.1,197.4L1200.7,198ZM385.5,196.9L389.9,197.4L394.3,198L386.6,215.8L382,215.4L377.5,215ZM403.4,199.1L408,199.6L412.6,200L405.5,217.2L400.7,216.8L396,216.5ZM482.9,205.5L488.2,205.9L493.6,206.2L499.1,206.4L504.5,206.7L499.7,221.7L494.2,221.5L488.6,221.3L483.1,221.1L477.6,220.9ZM708.1,212.2L714.5,212.3L720.8,212.3L727.2,212.4L733.5,212.5L739.9,212.5L746.3,212.5L752.7,212.6L759.1,212.6L765.5,212.6L771.9,212.6L778.3,212.7L784.7,212.7L791.1,212.7L797.5,212.7L797.5,225.7L791,225.7L784.5,225.7L778,225.7L771.5,225.7L765,225.7L758.5,225.7L752,225.7L745.5,225.6L739.1,225.6L732.6,225.6L726.1,225.6L719.7,225.5L713.2,225.5L706.8,225.4ZM874.2,212.3L880.5,212.3L886.9,212.2L893.2,212.2L899.5,212.1L901,225.3L894.6,225.4L888.2,225.4L881.8,225.5L875.3,225.5ZM1079.4,207.3L1085,207L1090.5,206.7L1095.3,221.7L1089.6,221.9L1084,222.1ZM1122.7,204.9L1127.9,204.6L1133.1,204.2L1138.3,203.8L1143.4,203.5L1149.4,219.5L1144.1,219.8L1138.9,220L1133.6,220.2L1128.2,220.5ZM1163.3,201.9L1168.1,201.4L1172.9,201L1177.7,200.5L1182.4,200L1187,199.6L1191.6,199.1L1196.2,198.5L1200.7,198L1208.4,215.8L1203.7,216.1L1199,216.5L1194.3,216.8L1189.5,217.2L1184.6,217.5L1179.7,217.8L1174.8,218.1L1169.8,218.4ZM386.6,215.8L391.3,216.1L396,216.5L400.7,216.8L405.5,217.2L401.2,234.5L396.3,234.4L391.5,234.2L386.7,234L382,233.8ZM488.6,221.3L494.2,221.5L499.7,221.7L496.9,236.8L491.2,236.7L485.6,236.6ZM771.5,225.7L778,225.7L784.5,225.7L791,225.7L797.5,225.7L804,225.7L810.5,225.7L810.6,238.9L804.1,238.9L797.5,238.9L790.9,238.9L784.4,238.9L777.8,238.9L771.3,238.8ZM836.5,225.7L843,225.7L849.5,225.6L849.9,238.8L843.4,238.8L836.8,238.8ZM1128.2,220.5L1133.6,220.2L1138.9,220L1144.1,219.8L1149.4,219.5L1154.5,219.3L1159.7,219L1164.8,218.7L1169.8,218.4L1174.8,218.1L1179.7,217.8L1184.6,217.5L1189.5,217.2L1194.3,216.8L1199,216.5L1203.5,234.2L1198.7,234.4L1193.8,234.5L1188.8,234.7L1183.8,234.9L1178.8,235L1173.7,235.2L1168.6,235.3L1163.4,235.4L1158.2,235.6L1153,235.7L1147.7,235.8L1142.3,236L1136.9,236.1L1131.5,236.2ZM372.6,233.4L377.3,233.6L382,233.8L386.7,234L391.5,234.2L396.3,234.4L401.2,234.5L399.8,252L394.9,252L390,252L385.2,252L380.4,252L375.7,252L371,252ZM463.5,236.2L469,236.3L474.5,236.4L473.4,252L467.9,252L462.4,252ZM1131.5,236.2L1136.9,236.1L1142.3,236L1147.7,235.8L1153,235.7L1158.2,235.6L1163.4,235.4L1168.6,235.3L1173.7,235.2L1178.8,235L1183.8,234.9L1188.8,234.7L1193.8,234.5L1198.7,234.4L1203.5,234.2L1205,252L1200.1,252L1195.2,252L1190.2,252L1185.2,252L1180.1,252L1175,252L1169.9,252L1164.7,252L1159.4,252L1154.2,252L1148.8,252L1143.5,252L1138,252L1132.6,252ZM371,252L375.7,252L380.4,252L385.2,252L390,252L394.9,252L399.8,252L401.2,269.5L396.3,269.6L391.5,269.8L386.7,270L382,270.2L377.3,270.4L372.6,270.6ZM462.4,252L467.9,252L473.4,252L474.5,267.6L469,267.7L463.5,267.8ZM797.5,252L804.1,252L810.7,252L810.6,265.1L804.1,265.1L797.5,265.1ZM823.8,252L830.4,252L836.9,252L836.8,265.2L830.3,265.2L823.7,265.2ZM1003.8,252L1010,252L1016.1,252L1015.5,266.1L1009.3,266L1003.2,266ZM1195.2,252L1200.1,252L1205,252L1203.5,269.8L1198.7,269.6L1193.8,269.5ZM1214.6,252L1219.3,252L1224,252L1222.4,270.6L1217.7,270.4L1213,270.2ZM401.2,269.5L406.2,269.3L411.2,269.1L415.3,286.2L410.4,286.5L405.5,286.8ZM485.6,267.4L491.2,267.3L496.9,267.2L499.7,282.3L494.2,282.5L488.6,282.7ZM849.9,265.2L856.5,265.2L863,265.2L869.5,265.2L876,265.3L875.3,278.5L868.9,278.4L862.4,278.4L855.9,278.4L849.5,278.4ZM889,265.3L895.5,265.3L901.9,265.3L908.4,265.4L914.8,265.4L921.3,265.4L927.7,265.5L934.1,265.5L940.4,265.5L946.8,265.6L953.2,265.6L959.5,265.6L965.8,265.7L972.1,265.7L978.3,265.8L984.6,265.8L990.8,265.9L989.1,279.7L982.9,279.6L976.7,279.5L970.5,279.4L964.3,279.3L958.1,279.3L951.8,279.2L945.5,279.1L939.2,279L932.9,279L926.5,278.9L920.2,278.8L913.8,278.8L907.4,278.7L901,278.7L894.6,278.6L888.2,278.6ZM1193.8,269.5L1198.7,269.6L1203.5,269.8L1208.3,270L1213,270.2L1217.7,270.4L1222.4,270.6L1217.5,289L1213,288.6L1208.4,288.2L1203.7,287.9L1199,287.5L1194.3,287.2L1189.5,286.8ZM377.5,289L382,288.6L386.6,288.2L391.3,287.9L396,287.5L400.7,287.2L405.5,286.8L412.6,304L408,304.4L403.4,304.9L398.8,305.5L394.3,306L389.9,306.6L385.5,307.1ZM511,281.9L516.7,281.7L522.5,281.6L528.2,281.4L534,281.2L538.1,295.7L532.5,296L526.8,296.2L521.2,296.5L515.6,296.7ZM862.4,278.4L868.9,278.4L875.3,278.5L881.8,278.5L888.2,278.6L894.6,278.6L901,278.7L907.4,278.7L913.8,278.8L920.2,278.8L926.5,278.9L932.9,279L939.2,279L945.5,279.1L951.8,279.2L958.1,279.3L964.3,279.3L970.5,279.4L976.7,279.5L982.9,279.6L989.1,279.7L986.2,293.5L980.1,293.3L974.1,293.2L967.9,293.1L961.8,292.9L955.7,292.8L949.5,292.7L943.3,292.6L937.1,292.5L930.9,292.4L924.6,292.3L918.4,292.2L912.1,292.1L905.8,292L899.5,291.9L893.2,291.8L886.9,291.8L880.5,291.7L874.2,291.7L867.8,291.6L861.5,291.5ZM1049.3,280.9L1055.1,281.1L1061,281.2L1066.8,281.4L1072.5,281.6L1068.2,296.2L1062.5,296L1056.9,295.7L1051.1,295.5L1045.4,295.3ZM1084,281.9L1089.6,282.1L1095.3,282.3L1100.8,282.5L1106.4,282.7L1111.9,282.9L1117.4,283.1L1122.8,283.3L1128.2,283.5L1133.6,283.8L1138.9,284L1133.1,299.8L1127.9,299.4L1122.7,299.1L1117.4,298.8L1112.1,298.5L1106.8,298.1L1101.4,297.8L1095.9,297.6L1090.5,297.3L1085,297L1079.4,296.7ZM1179.7,286.2L1184.6,286.5L1189.5,286.8L1194.3,287.2L1199,287.5L1203.7,287.9L1208.4,288.2L1213,288.6L1217.5,289L1209.5,307.1L1205.1,306.6L1200.7,306L1196.2,305.5L1191.6,304.9L1187,304.4L1182.4,304L1177.7,303.5L1172.9,303ZM403.4,304.9L408,304.4L412.6,304L422.5,320.8L418,321.4L413.7,322ZM431.7,302.1L436.6,301.7L441.6,301.3L450.3,317.3L445.5,317.9L440.8,318.4ZM451.6,300.5L456.7,300.2L461.9,299.8L467.1,299.4L472.3,299.1L477.6,298.8L482.9,298.5L490.2,313.6L485.1,314L479.9,314.5L474.9,314.9L469.9,315.4L464.9,315.8L460,316.3ZM573,294.5L578.9,294.3L584.8,294.1L590.8,294L596.7,293.8L601.1,307.6L595.2,307.8L589.4,308L583.6,308.2L577.8,308.5ZM823.1,291.4L829.5,291.4L835.9,291.4L835.1,304.4L828.9,304.4L822.6,304.4ZM861.5,291.5L867.8,291.6L874.2,291.7L872.6,304.7L866.4,304.7L860.1,304.6ZM1079.4,296.7L1085,297L1090.5,297.3L1095.9,297.6L1101.4,297.8L1106.8,298.1L1112.1,298.5L1117.4,298.8L1122.7,299.1L1127.9,299.4L1133.1,299.8L1138.3,300.2L1143.4,300.5L1148.4,300.9L1153.4,301.3L1158.4,301.7L1163.3,302.1L1168.1,302.6L1172.9,303L1177.7,303.5L1182.4,304L1187,304.4L1191.6,304.9L1196.2,305.5L1200.7,306L1205.1,306.6L1209.5,307.1L1198.3,324.9L1194.1,324.1L1189.9,323.4L1185.7,322.7L1181.3,322L1177,321.4L1172.5,320.8L1168,320.1L1163.5,319.5L1158.8,319L1154.2,318.4L1149.5,317.9L1144.7,317.3L1139.9,316.8L1135,316.3L1130.1,315.8L1125.1,315.4L1120.1,314.9L1115.1,314.5L1109.9,314L1104.8,313.6L1099.6,313.2L1094.4,312.8L1089.1,312.5L1083.8,312.1L1078.4,311.7L1073,311.4ZM469.9,315.4L474.9,314.9L479.9,314.5L489.8,329.6L484.9,330.1L480.1,330.6ZM490.2,313.6L495.4,313.2L500.6,312.8L509.6,327.6L504.6,328.1L499.6,328.5ZM636.7,306.4L642.7,306.2L648.7,306.1L652.8,319.4L647,319.6L641.1,319.8ZM797.5,304.3L803.8,304.3L810.1,304.3L816.3,304.3L822.6,304.4L821.9,317.3L815.8,317.2L809.7,317.2L803.6,317.2L797.5,317.2ZM847.7,304.5L853.9,304.6L860.1,304.6L858.4,317.6L852.4,317.5L846.3,317.4ZM1005.6,308L1011.4,308.2L1017.2,308.5L1010.9,322.3L1005.3,322L999.7,321.7ZM1083.8,312.1L1089.1,312.5L1094.4,312.8L1099.6,313.2L1104.8,313.6L1109.9,314L1115.1,314.5L1120.1,314.9L1125.1,315.4L1130.1,315.8L1135,316.3L1139.9,316.8L1144.7,317.3L1149.5,317.9L1154.2,318.4L1158.8,319L1163.5,319.5L1168,320.1L1172.5,320.8L1177,321.4L1181.3,322L1185.7,322.7L1189.9,323.4L1194.1,324.1L1198.3,324.9L1184,342L1180.2,341.1L1176.3,340.3L1172.3,339.5L1168.2,338.7L1164.1,337.9L1159.9,337.1L1155.6,336.4L1151.3,335.7L1147,335L1142.5,334.3L1138.1,333.7L1133.5,333L1128.9,332.4L1124.3,331.8L1119.6,331.2L1114.9,330.6L1110.1,330.1L1105.2,329.6L1100.3,329L1095.4,328.5L1090.4,328.1L1085.4,327.6L1080.3,327.1L1075.2,326.7ZM480.1,330.6L484.9,330.1L489.8,329.6L494.7,329L499.6,328.5L504.6,328.1L509.6,327.6L520.6,342L515.8,342.6L511.1,343.1L506.4,343.7L501.8,344.3L497.2,344.9L492.6,345.5ZM676.5,318.7L682.4,318.6L688.4,318.4L692.1,331.4L686.4,331.5L680.7,331.7ZM846.3,317.4L852.4,317.5L858.4,317.6L856.3,330.4L850.5,330.3L844.6,330.2ZM977,320.7L982.7,320.9L988.4,321.2L994,321.4L999.7,321.7L1005.3,322L1010.9,322.3L1003.2,335.9L997.8,335.5L992.4,335.2L987,334.9L981.6,334.6L976.1,334.3L970.6,334ZM1075.2,326.7L1080.3,327.1L1085.4,327.6L1074.4,342L1069.6,341.5L1064.7,341ZM1151.3,335.7L1155.6,336.4L1159.9,337.1L1164.1,337.9L1168.2,338.7L1172.3,339.5L1176.3,340.3L1180.2,341.1L1184,342L1166.9,358.5L1163.3,357.5L1159.7,356.5L1156.1,355.6L1152.3,354.7L1148.5,353.8L1144.6,352.9L1140.7,352.1L1136.6,351.3ZM428.1,358.5L431.7,357.5L435.3,356.5L454.5,372L451.3,373.1L448.1,374.2ZM501.8,344.3L506.4,343.7L511.1,343.1L524.6,357.3L520.2,357.9L515.9,358.6ZM715.3,330.8L721.1,330.7L727,330.6L732.8,330.5L738.7,330.4L744.5,330.3L750.4,330.2L752.4,342.9L746.7,343L741.1,343.1L735.5,343.2L729.9,343.3L724.4,343.4L718.8,343.5ZM856.3,330.4L862.2,330.5L868,330.6L873.9,330.7L879.7,330.8L885.5,330.9L891.3,331.1L897.1,331.2L902.9,331.4L898.4,344.2L892.9,344L887.3,343.8L881.8,343.7L876.2,343.5L870.6,343.4L865.1,343.3L859.5,343.2L853.9,343.1ZM981.6,334.6L987,334.9L992.4,335.2L983.9,348.5L978.7,348.1L973.5,347.8ZM1003.2,335.9L1008.5,336.2L1013.8,336.6L1004.2,350L999.1,349.6L994.1,349.2ZM1064.7,341L1069.6,341.5L1074.4,342L1061.5,356.1L1056.9,355.5L1052.3,354.9ZM1128.4,349.7L1132.6,350.5L1136.6,351.3L1119.4,366.3L1115.7,365.4L1111.9,364.6ZM1070.4,357.3L1074.8,357.9L1079.1,358.6L1062.9,372.4L1058.9,371.7L1054.9,371ZM1111.9,364.6L1115.7,365.4L1119.4,366.3L1123.1,367.2L1126.7,368.1L1106.3,382.5L1103.1,381.6L1099.8,380.6L1096.4,379.7L1092.9,378.8ZM524.2,373.9L528.1,373.1L532.1,372.4L550.3,385.6L546.7,386.4L543.2,387.2ZM650.6,359.3L655.6,359L660.7,358.7L669.3,371.2L664.5,371.5L659.9,371.9ZM744,355.6L749.3,355.5L754.7,355.4L760,355.3L765.4,355.2L770.7,355.2L776.1,355.1L777.4,367.4L772.3,367.4L767.3,367.5L762.3,367.6L757.3,367.6L752.3,367.7L747.3,367.8ZM964.2,360.7L969.1,361.1L974,361.5L962.7,374.1L958.2,373.7L953.6,373.3ZM1062.9,372.4L1066.9,373.1L1070.8,373.9L1051.8,387.2L1048.3,386.4L1044.7,385.6ZM1092.9,378.8L1096.4,379.7L1099.8,380.6L1103.1,381.6L1106.3,382.5L1083.6,396.1L1080.7,395.1L1077.8,394.1L1074.8,393.2L1071.7,392.3ZM543.2,387.2L546.7,386.4L550.3,385.6L570.6,398.2L567.4,398.9L564.3,399.7ZM632.3,374.1L636.8,373.7L641.4,373.3L653.3,385.6L649.1,386L644.9,386.4ZM906.7,370.1L911.5,370.3L916.3,370.6L921,370.9L925.7,371.2L930.5,371.5L935.1,371.9L939.8,372.2L944.4,372.5L933.3,384.8L929.1,384.4L924.8,384.1L920.5,383.7L916.1,383.4L911.8,383.1L907.4,382.8L903,382.5L898.5,382.2ZM1065.3,390.5L1068.5,391.4L1071.7,392.3L1074.8,393.2L1077.8,394.1L1080.7,395.1L1083.6,396.1L1058.6,408.7L1056.1,407.7L1053.6,406.8L1051,405.8L1048.3,404.9L1045.5,404L1042.7,403.1ZM628.7,388.2L632.7,387.8L636.8,387.3L651.6,399.2L648,399.6L644.4,400.1ZM797.5,379.3L802.2,379.3L806.8,379.3L806,391.1L801.8,391.1L797.5,391.1ZM880.6,381.2L885.1,381.5L889.6,381.7L881.4,393.5L877.3,393.3L873.2,393.1ZM623.7,403.4L627,402.8L630.4,402.2L649.4,413.5L646.4,414.1L643.5,414.6ZM814.5,391.2L818.8,391.2L823,391.3L827.2,391.4L831.5,391.5L835.7,391.6L839.9,391.7L844.1,391.8L848.3,392L852.5,392.1L856.6,392.3L850.3,403.8L846.6,403.6L842.8,403.5L839.1,403.3L835.3,403.2L831.6,403.1L827.8,403L824,402.9L820.3,402.8L816.5,402.8L812.7,402.7Z"/>
<path fill="#e4c3c0" d="M862.3,49.5L863,49.2L863.8,48.9L864.5,48.5L865.1,48.2L896.9,54.8L895.9,55.3L894.8,55.7L893.7,56.2L892.5,56.7ZM827.2,67.7L829.3,67.6L831.4,67.5L833.4,67.3L835.4,67.2L846.2,77.5L843.5,77.7L840.9,77.9L838.3,78L835.6,78.2ZM878.9,60.8L880.4,60.4L881.9,60L883.3,59.6L884.7,59.2L886.1,58.8L887.5,58.4L888.8,58L890,57.5L917.7,66L916,66.5L914.2,67L912.4,67.5L910.6,68L908.7,68.5L906.8,69L904.8,69.5L902.8,69.9ZM667.8,62.6L669.3,63.2L670.8,63.8L672.3,64.4L673.9,64.9L647,74.2L645,73.5L643,72.9L641.1,72.2L639.2,71.6ZM718.7,74.5L721.1,74.8L723.6,75.1L708.4,85.6L705.5,85.3L702.5,84.9ZM738.5,76.7L741.1,76.9L743.6,77.1L732.7,87.9L729.6,87.6L726.5,87.4ZM754.1,77.9L756.7,78L759.4,78.2L751.7,89L748.5,88.9L745.3,88.7ZM830.2,78.5L832.9,78.3L835.6,78.2L843.3,89L840,89.2L836.8,89.3ZM856.5,76.7L859,76.4L861.6,76.2L864.1,75.9L866.5,75.7L869,75.4L871.4,75.1L886.6,85.6L883.6,85.9L880.7,86.2L877.6,86.5L874.6,86.8L871.6,87.1L868.5,87.4ZM902.8,69.9L904.8,69.5L906.8,69L908.7,68.5L910.6,68L934.7,77.7L932.4,78.3L930,78.8L927.5,79.3L925,79.8ZM639.2,71.6L641.1,72.2L643,72.9L645,73.5L647,74.2L649.1,74.8L651.3,75.4L653.4,76L655.7,76.6L657.9,77.2L660.3,77.7L637.8,88.2L635,87.6L632.3,87L629.6,86.4L627,85.7L624.4,85.1L621.9,84.4L619.4,83.7L617,83L614.6,82.3L612.3,81.5ZM880.7,86.2L883.6,85.9L886.6,85.6L889.5,85.3L892.5,84.9L895.3,84.6L898.2,84.2L914.1,95.1L910.7,95.5L907.3,95.9L903.9,96.3L900.5,96.6L897.1,97L893.6,97.3ZM919.9,80.8L922.5,80.3L925,79.8L927.5,79.3L930,78.8L951.5,89.4L948.6,89.9L945.6,90.5L942.6,91L939.6,91.5ZM589.5,71.4L591.1,72.4L592.7,73.3L594.3,74.2L596.1,75.1L597.9,75.9L599.7,76.8L572.2,87.4L570,86.5L567.8,85.6L565.6,84.7L563.6,83.7L561.6,82.7L559.7,81.7ZM643.5,89.4L646.4,89.9L649.4,90.5L630.4,101.8L627,101.2L623.7,100.6ZM701.4,97.3L704.9,97.6L708.4,97.9L697.5,109.4L693.5,109.1L689.6,108.8ZM737.3,99.8L741,100L744.7,100.2L738.4,111.7L734.2,111.5L730.1,111.4ZM827.8,101L831.6,100.9L835.3,100.8L839.9,112.3L835.7,112.4L831.5,112.5ZM900.5,96.6L903.9,96.3L907.3,95.9L910.7,95.5L914.1,95.1L928.6,106.6L924.8,107L921,107.4L917.1,107.7L913.2,108.1ZM939.6,91.5L942.6,91L945.6,90.5L948.6,89.9L951.5,89.4L971.3,100.6L968,101.2L964.6,101.8L961.2,102.3L957.7,102.9ZM982.7,81.5L984.9,80.8L987.1,80L1013,90.9L1010.4,91.7L1007.7,92.5ZM552.9,77.5L554.4,78.6L556.1,79.7L557.8,80.7L559.7,81.7L561.6,82.7L563.6,83.7L565.6,84.7L567.8,85.6L570,86.5L572.2,87.4L546.7,99.1L544,98.2L541.4,97.2L538.9,96.3L536.4,95.3L534,94.3L531.7,93.2L529.5,92.2L527.4,91.1L525.3,90L523.4,88.8ZM604.6,96.9L607.6,97.5L610.7,98.2L613.9,98.8L617.1,99.5L620.4,100.1L623.7,100.6L605.5,112.5L601.8,111.9L598.2,111.3L594.5,110.7L591,110.1L587.4,109.4L584,108.7ZM913.2,108.1L917.1,107.7L921,107.4L924.8,107L928.6,106.6L932.3,106.2L936.1,105.7L950.1,117.6L945.9,118L941.7,118.4L937.5,118.8L933.3,119.2L929.1,119.6L924.8,119.9ZM1007.7,92.5L1010.4,91.7L1013,90.9L1015.5,90L1018,89.2L1020.4,88.3L1022.8,87.4L1048.3,99.1L1045.5,100L1042.7,100.9L1039.8,101.8L1036.8,102.6L1033.8,103.5L1030.7,104.3ZM1031.4,83.7L1033.4,82.7L1035.3,81.7L1063.3,93.2L1061,94.3L1058.6,95.3ZM584,108.7L587.4,109.4L591,110.1L594.5,110.7L598.2,111.3L601.8,111.9L605.5,112.5L609.3,113.1L613.1,113.7L597.5,126.1L593.3,125.5L589.1,125L585,124.4L581,123.8L577,123.2L573,122.5L569.1,121.9L565.2,121.2ZM644.9,117.6L649.1,118L653.3,118.4L657.5,118.8L661.7,119.2L665.9,119.6L670.2,119.9L674.5,120.3L678.9,120.6L683.2,120.9L687.6,121.2L678.7,133.4L674,133.1L669.3,132.8L664.5,132.5L659.9,132.1L655.2,131.8L650.6,131.5L646,131.1L641.4,130.7L636.8,130.3L632.3,129.9ZM834.8,124.3L839.4,124.2L844,124.1L847.7,136.2L842.7,136.3L837.7,136.4ZM916.1,120.6L920.5,120.3L924.8,119.9L935.1,132.1L930.5,132.5L925.7,132.8ZM1024.4,105.8L1027.6,105.1L1030.7,104.3L1033.8,103.5L1036.8,102.6L1039.8,101.8L1042.7,100.9L1065.3,113.5L1062,114.4L1058.7,115.2L1055.3,116L1051.8,116.8L1048.3,117.6L1044.7,118.4ZM523.3,111.7L526.5,112.6L529.7,113.5L533,114.4L536.3,115.2L516.6,128.6L512.9,127.8L509.2,126.9L505.6,126.1L502.1,125.2ZM827.7,136.5L832.7,136.4L837.7,136.4L840.3,148.6L835,148.7L829.6,148.8ZM857.7,135.9L862.6,135.8L867.6,135.6L872.5,135.4L877.5,135.3L882.4,135.1L887.3,134.9L892.1,134.6L897,134.4L901.8,134.2L906.7,133.9L913.9,146.4L908.8,146.6L903.6,146.8L898.4,147L893.2,147.2L887.9,147.4L882.7,147.6L877.5,147.8L872.2,147.9L866.9,148.1L861.6,148.2ZM935.1,132.1L939.8,131.8L944.4,131.5L954.4,144L949.4,144.4L944.4,144.7ZM516.6,128.6L520.4,129.4L524.2,130.1L528.1,130.9L532.1,131.6L515.9,145.4L511.6,144.7L507.3,144L503.2,143.3L499,142.6ZM660.7,145.3L665.7,145.6L670.8,145.8L663.9,158.6L658.5,158.3L653.1,158ZM913.9,146.4L919,146.1L924.2,145.8L931.1,158.6L925.7,158.8L920.3,159ZM934.3,145.3L939.4,145L944.4,144.7L952.5,157.5L947.2,157.8L941.9,158ZM1078.4,128.6L1082.1,127.8L1085.8,126.9L1104,141L1100,141.8L1096,142.6ZM507.3,144L511.6,144.7L515.9,145.4L501.8,159.7L497.2,159.1L492.6,158.5ZM642.5,157.5L647.8,157.8L653.1,158L646.6,171L641,170.8L635.5,170.5ZM718.8,160.5L724.4,160.6L729.9,160.7L735.5,160.8L741.1,160.9L738.7,173.6L732.8,173.5L727,173.4L721.1,173.3L715.3,173.2ZM797.5,161.4L803.2,161.4L808.8,161.4L809.3,174L803.4,174L797.5,174ZM909.4,159.4L914.8,159.2L920.3,159L925.8,171.9L920.1,172.1L914.3,172.3ZM931.1,158.6L936.5,158.3L941.9,158L948.4,171L942.7,171.3L937.1,171.5ZM1087.7,144L1091.8,143.3L1096,142.6L1111.3,157.1L1106.8,157.8L1102.4,158.5ZM483.7,157.1L488.2,157.8L492.6,158.5L480.1,173.4L475.4,172.8L470.7,172.2ZM560.4,165.8L565.5,166.2L570.7,166.6L575.9,167L581.2,167.4L586.5,167.8L591.8,168.1L597.2,168.5L602.6,168.8L608,169.1L613.4,169.4L606.6,182.8L601,182.6L595.3,182.3L589.7,182L584.1,181.7L578.6,181.4L573.1,181.1L567.6,180.8L562.1,180.4L556.7,180.1L551.3,179.7ZM692.1,172.6L697.9,172.8L703.7,172.9L700.3,185.8L694.4,185.7L688.4,185.6ZM727,173.4L732.8,173.5L738.7,173.6L736.6,186.4L730.5,186.4L724.4,186.3ZM773.9,174L779.8,174L785.7,174L791.6,174L797.5,174L803.4,174L809.3,174L815.2,174L821.1,174L827,173.9L832.9,173.9L838.7,173.8L844.6,173.8L846.3,186.6L840.2,186.6L834.1,186.7L828,186.7L821.9,186.7L815.8,186.8L809.7,186.8L803.6,186.8L797.5,186.8L791.4,186.8L785.3,186.8L779.2,186.8L773.1,186.7ZM1093.2,159.7L1097.8,159.1L1102.4,158.5L1114.9,173.4L1110.1,173.9L1105.2,174.4ZM1128.4,154.3L1132.6,153.5L1136.6,152.7L1151.3,168.3L1147,169L1142.5,169.7ZM418.7,163.7L422.7,164.5L426.8,165.3L430.9,166.1L435.1,166.9L439.4,167.6L443.7,168.3L448,169L452.5,169.7L456.9,170.3L461.5,171L466.1,171.6L470.7,172.2L460,187.7L455.1,187.2L450.3,186.7L445.5,186.1L440.8,185.6L436.2,185L431.5,184.5L427,183.9L422.5,183.2L418,182.6L413.7,182L409.3,181.3L405.1,180.6ZM509.6,176.4L514.7,176.9L519.8,177.3L525,177.8L530.2,178.2L535.4,178.6L540.7,179L532.9,193.3L527.4,193L522,192.6L516.6,192.3L511.2,191.9L505.9,191.5L500.6,191.2ZM724.4,186.3L730.5,186.4L736.6,186.4L734.9,199.4L728.6,199.3L722.4,199.3ZM797.5,186.8L803.6,186.8L809.7,186.8L815.8,186.8L821.9,186.7L828,186.7L834.1,186.7L835.1,199.6L828.9,199.6L822.6,199.6L816.3,199.7L810.1,199.7L803.8,199.7L797.5,199.7ZM1159.9,166.9L1164.1,166.1L1168.2,165.3L1181.3,182L1177,182.6L1172.5,183.2ZM405.1,180.6L409.3,181.3L413.7,182L403.4,199.1L398.8,198.5L394.3,198ZM422.5,183.2L427,183.9L431.5,184.5L422.1,201L417.3,200.5L412.6,200ZM479.9,189.5L485.1,190L490.2,190.4L495.4,190.8L500.6,191.2L505.9,191.5L511.2,191.9L504.5,206.7L499.1,206.4L493.6,206.2L488.2,205.9L482.9,205.5L477.6,205.2L472.3,204.9ZM1051.1,193.9L1056.6,193.6L1062.1,193.3L1068.2,207.8L1062.5,208L1056.9,208.3ZM1083.8,191.9L1089.1,191.5L1094.4,191.2L1101.4,206.2L1095.9,206.4L1090.5,206.7ZM1172.5,183.2L1177,182.6L1181.3,182L1191.6,199.1L1187,199.6L1182.4,200ZM412.6,200L417.3,200.5L422.1,201L415.3,217.8L410.4,217.5L405.5,217.2ZM472.3,204.9L477.6,205.2L482.9,205.5L477.6,220.9L472.2,220.7L466.8,220.5ZM899.5,212.1L905.8,212L912.1,211.9L918.4,211.8L924.6,211.7L930.9,211.6L937.1,211.5L939.2,225L932.9,225L926.5,225.1L920.2,225.2L913.8,225.2L907.4,225.3L901,225.3ZM1022,209.5L1027.9,209.3L1033.8,209.1L1037.5,223.3L1031.5,223.5L1025.5,223.6ZM1068.2,207.8L1073.8,207.5L1079.4,207.3L1084,222.1L1078.3,222.3L1072.5,222.4ZM1200.7,198L1205.1,197.4L1209.5,196.9L1217.5,215L1213,215.4L1208.4,215.8ZM405.5,217.2L410.4,217.5L415.3,217.8L411.2,234.9L406.2,234.7L401.2,234.5ZM466.8,220.5L472.2,220.7L477.6,220.9L483.1,221.1L488.6,221.3L485.6,236.6L480,236.5L474.5,236.4L469,236.3L463.5,236.2ZM823.5,225.7L830,225.7L836.5,225.7L836.8,238.8L830.3,238.8L823.7,238.8ZM875.3,225.5L881.8,225.5L888.2,225.4L894.6,225.4L901,225.3L907.4,225.3L913.8,225.2L920.2,225.2L926.5,225.1L932.9,225L939.2,225L940.4,238.5L934.1,238.5L927.7,238.5L921.3,238.6L914.8,238.6L908.4,238.6L901.9,238.7L895.5,238.7L889,238.7L882.5,238.7L876,238.7ZM1001.3,224.1L1007.4,224L1013.5,223.8L1019.5,223.7L1025.5,223.6L1027.6,237.8L1021.6,237.8L1015.5,237.9L1009.3,238L1003.2,238ZM1084,222.1L1089.6,221.9L1095.3,221.7L1098.1,236.8L1092.4,236.9L1086.7,237ZM401.2,234.5L406.2,234.7L411.2,234.9L409.8,252L404.8,252L399.8,252ZM452.7,236L458.1,236.1L463.5,236.2L462.4,252L457,252L451.5,252ZM797.5,238.9L804.1,238.9L810.6,238.9L810.7,252L804.1,252L797.5,252ZM836.8,238.8L843.4,238.8L849.9,238.8L856.5,238.8L863,238.8L869.5,238.8L876,238.7L882.5,238.7L889,238.7L895.5,238.7L901.9,238.7L908.4,238.6L914.8,238.6L921.3,238.6L927.7,238.5L934.1,238.5L940.4,238.5L940.9,252L934.5,252L928,252L921.6,252L915.2,252L908.7,252L902.2,252L895.8,252L889.3,252L882.7,252L876.2,252L869.7,252L863.2,252L856.6,252L850.1,252L843.5,252L836.9,252ZM990.8,238.1L997,238.1L1003.2,238L1009.3,238L1015.5,237.9L1016.1,252L1010,252L1003.8,252L997.6,252L991.4,252ZM1027.6,237.8L1033.7,237.7L1039.7,237.6L1040.4,252L1034.4,252L1028.3,252ZM399.8,252L404.8,252L409.8,252L414.9,252L420,252L425.1,252L430.3,252L435.6,252L440.8,252L446.2,252L451.5,252L457,252L462.4,252L463.5,267.8L458.1,267.9L452.7,268L447.3,268.2L442,268.3L436.8,268.4L431.6,268.6L426.4,268.7L421.3,268.8L416.2,269L411.2,269.1L406.2,269.3L401.2,269.5ZM784.3,252L790.9,252L797.5,252L797.5,265.1L790.9,265.1L784.4,265.1ZM863.2,252L869.7,252L876.2,252L882.7,252L889.3,252L895.8,252L902.2,252L908.7,252L915.2,252L921.6,252L928,252L934.5,252L940.9,252L947.2,252L953.6,252L953.2,265.6L946.8,265.6L940.4,265.5L934.1,265.5L927.7,265.5L921.3,265.4L914.8,265.4L908.4,265.4L901.9,265.3L895.5,265.3L889,265.3L882.5,265.3L876,265.3L869.5,265.2L863,265.2ZM978.9,252L985.1,252L991.4,252L997.6,252L1003.8,252L1003.2,266L997,265.9L990.8,265.9L984.6,265.8L978.3,265.8ZM1028.3,252L1034.4,252L1040.4,252L1046.4,252L1052.4,252L1058.4,252L1064.3,252L1063.4,266.6L1057.6,266.6L1051.6,266.5L1045.7,266.4L1039.7,266.4L1033.7,266.3L1027.6,266.2ZM1076,252L1081.8,252L1087.6,252L1086.7,267L1080.9,266.9L1075.1,266.8ZM1205,252L1209.8,252L1214.6,252L1213,270.2L1208.3,270L1203.5,269.8ZM411.2,269.1L416.2,269L421.3,268.8L426.4,268.7L431.6,268.6L436.8,268.4L442,268.3L445.6,284.5L440.5,284.7L435.3,285L430.2,285.3L425.2,285.6L420.2,285.9L415.3,286.2ZM463.5,267.8L469,267.7L474.5,267.6L480,267.5L485.6,267.4L488.6,282.7L483.1,282.9L477.6,283.1L472.2,283.3L466.8,283.5ZM810.6,265.1L817.2,265.1L823.7,265.2L823.5,278.3L817,278.3L810.5,278.3ZM990.8,265.9L997,265.9L1003.2,266L1001.3,279.9L995.2,279.8L989.1,279.7ZM1027.6,266.2L1033.7,266.3L1039.7,266.4L1045.7,266.4L1051.6,266.5L1057.6,266.6L1063.4,266.6L1069.3,266.7L1075.1,266.8L1072.5,281.6L1066.8,281.4L1061,281.2L1055.1,281.1L1049.3,280.9L1043.4,280.8L1037.5,280.7L1031.5,280.5L1025.5,280.4ZM405.5,286.8L410.4,286.5L415.3,286.2L420.2,285.9L425.2,285.6L430.2,285.3L435.3,285L440.5,284.7L445.6,284.5L451.6,300.5L446.6,300.9L441.6,301.3L436.6,301.7L431.7,302.1L426.9,302.6L422.1,303L417.3,303.5L412.6,304ZM477.6,283.1L483.1,282.9L488.6,282.7L494.2,282.5L499.7,282.3L505.4,282.1L511,281.9L515.6,296.7L510,297L504.5,297.3L499.1,297.6L493.6,297.8L488.2,298.1L482.9,298.5ZM823.5,278.3L830,278.3L836.5,278.3L843,278.3L849.5,278.4L848.7,291.5L842.3,291.4L835.9,291.4L829.5,291.4L823.1,291.4ZM1013.5,280.2L1019.5,280.3L1025.5,280.4L1031.5,280.5L1037.5,280.7L1043.4,280.8L1049.3,280.9L1045.4,295.3L1039.6,295.1L1033.8,294.9L1027.9,294.7L1022,294.5L1016.1,294.3L1010.2,294.1ZM385.5,307.1L389.9,306.6L394.3,306L398.8,305.5L403.4,304.9L413.7,322L409.3,322.7L405.1,323.4L400.9,324.1L396.7,324.9ZM441.6,301.3L446.6,300.9L451.6,300.5L460,316.3L455.1,316.8L450.3,317.3ZM482.9,298.5L488.2,298.1L493.6,297.8L499.1,297.6L504.5,297.3L510,297L515.6,296.7L521.2,296.5L526.8,296.2L532.9,310.7L527.4,311L522,311.4L516.6,311.7L511.2,312.1L505.9,312.5L500.6,312.8L495.4,313.2L490.2,313.6ZM549.6,295.3L555.4,295.1L561.2,294.9L567.1,294.7L573,294.5L577.8,308.5L572.1,308.7L566.4,309L560.7,309.2L555.1,309.5ZM835.9,291.4L842.3,291.4L848.7,291.5L855.1,291.5L861.5,291.5L860.1,304.6L853.9,304.6L847.7,304.5L841.4,304.5L835.1,304.4ZM396.7,324.9L400.9,324.1L405.1,323.4L418.7,340.3L414.8,341.1L411,342ZM450.3,317.3L455.1,316.8L460,316.3L464.9,315.8L469.9,315.4L480.1,330.6L475.4,331.2L470.7,331.8L466.1,332.4L461.5,333ZM500.6,312.8L505.9,312.5L511.2,312.1L519.8,326.7L514.7,327.1L509.6,327.6ZM624.7,306.8L630.7,306.6L636.7,306.4L641.1,319.8L635.3,320L629.5,320.2ZM822.6,304.4L828.9,304.4L835.1,304.4L841.4,304.5L847.7,304.5L846.3,317.4L840.2,317.4L834.1,317.3L828,317.3L821.9,317.3ZM970.3,306.8L976.2,306.9L982.2,307.1L977,320.7L971.2,320.4L965.5,320.2ZM993.9,307.6L999.8,307.8L1005.6,308L999.7,321.7L994,321.4L988.4,321.2ZM1073,311.4L1078.4,311.7L1083.8,312.1L1075.2,326.7L1070,326.2L1064.8,325.8ZM509.6,327.6L514.7,327.1L519.8,326.7L525,326.2L530.2,325.8L540.2,340L535.2,340.5L530.3,341L525.4,341.5L520.6,342ZM664.6,319L670.5,318.9L676.5,318.7L680.7,331.7L674.9,331.9L669.2,332.1ZM797.5,317.2L803.6,317.2L809.7,317.2L815.8,317.2L821.9,317.3L828,317.3L834.1,317.3L840.2,317.4L846.3,317.4L844.6,330.2L838.7,330.2L832.9,330.1L827,330.1L821.1,330L815.2,330L809.3,330L803.4,330L797.5,330ZM1085.4,327.6L1090.4,328.1L1095.4,328.5L1083.9,343.1L1079.2,342.6L1074.4,342ZM1133.5,333L1138.1,333.7L1142.5,334.3L1147,335L1151.3,335.7L1136.6,351.3L1132.6,350.5L1128.4,349.7L1124.2,349L1120,348.3ZM511.1,343.1L515.8,342.6L520.6,342L525.4,341.5L530.3,341L535.2,340.5L540.2,340L552,353.8L547.3,354.3L542.7,354.9L538.1,355.5L533.5,356.1L529,356.7L524.6,357.3ZM669.2,332.1L674.9,331.9L680.7,331.7L686.4,331.5L692.1,331.4L697.9,331.2L703.7,331.1L709.5,330.9L715.3,330.8L718.8,343.5L713.2,343.7L707.7,343.8L702.1,344L696.6,344.2L691.1,344.4L685.6,344.6L680.2,344.8L674.7,345ZM797.5,330L803.4,330L809.3,330L815.2,330L821.1,330L827,330.1L832.9,330.1L831.4,342.8L825.7,342.7L820.1,342.7L814.4,342.6L808.8,342.6L803.2,342.6L797.5,342.6ZM844.6,330.2L850.5,330.3L856.3,330.4L853.9,343.1L848.3,343L842.6,342.9ZM902.9,331.4L908.6,331.5L914.3,331.7L920.1,331.9L925.8,332.1L931.4,332.3L937.1,332.5L942.7,332.7L948.4,333L954,333.2L959.5,333.5L965.1,333.7L970.6,334L976.1,334.3L981.6,334.6L973.5,347.8L968.3,347.4L963.1,347.1L957.8,346.8L952.5,346.5L947.2,346.2L941.9,346L936.5,345.7L931.1,345.4L925.7,345.2L920.3,345L914.8,344.8L909.4,344.6L903.9,344.4L898.4,344.2ZM1074.4,342L1079.2,342.6L1083.9,343.1L1070.4,357.3L1066,356.7L1061.5,356.1ZM1120,348.3L1124.2,349L1128.4,349.7L1111.9,364.6L1108,363.8L1104,363ZM507.3,360L511.6,359.3L515.9,358.6L520.2,357.9L524.6,357.3L540.1,371L536.1,371.7L532.1,372.4L528.1,373.1L524.2,373.9ZM663.9,345.4L669.3,345.2L674.7,345L680.2,344.8L685.6,344.6L691.1,344.4L696.6,344.2L702.1,344L707.7,343.8L713.2,343.7L718.8,343.5L724.4,343.4L729.9,343.3L735.5,343.2L741.1,343.1L746.7,343L752.4,342.9L758,342.8L763.6,342.8L769.3,342.7L774.9,342.7L776.1,355.1L770.7,355.2L765.4,355.2L760,355.3L754.7,355.4L749.3,355.5L744,355.6L738.7,355.7L733.4,355.8L728.1,355.9L722.8,356.1L717.5,356.2L712.3,356.4L707.1,356.6L701.8,356.8L696.6,357L691.4,357.2L686.2,357.4L681.1,357.6L676,357.9L670.8,358.2ZM786.2,342.6L791.8,342.6L797.5,342.6L797.5,355L792.1,355L786.8,355ZM865.1,343.3L870.6,343.4L876.2,343.5L881.8,343.7L887.3,343.8L892.9,344L898.4,344.2L893.2,356.8L887.9,356.6L882.7,356.4L877.5,356.2L872.2,356.1L866.9,355.9L861.6,355.8ZM973.5,347.8L978.7,348.1L983.9,348.5L974,361.5L969.1,361.1L964.2,360.7ZM1079.1,358.6L1083.4,359.3L1087.7,360L1091.8,360.7L1096,361.4L1100,362.2L1104,363L1108,363.8L1111.9,364.6L1092.9,378.8L1089.4,377.9L1085.8,377.1L1082.1,376.2L1078.4,375.4L1074.6,374.6L1070.8,373.9L1066.9,373.1L1062.9,372.4ZM532.1,372.4L536.1,371.7L540.1,371L557.7,384.2L554,384.9L550.3,385.6ZM574.4,366.1L578.9,365.6L583.4,365.1L597.5,377.9L593.3,378.5L589.1,379ZM630.8,360.7L635.7,360.3L640.6,360L645.6,359.6L650.6,359.3L659.9,371.9L655.2,372.2L650.6,372.5L646,372.9L641.4,373.3ZM944.4,359.3L949.4,359.6L954.4,360L959.3,360.3L964.2,360.7L953.6,373.3L949,372.9L944.4,372.5L939.8,372.2L935.1,371.9ZM1070.8,373.9L1074.6,374.6L1078.4,375.4L1082.1,376.2L1085.8,377.1L1089.4,377.9L1092.9,378.8L1071.7,392.3L1068.5,391.4L1065.3,390.5L1062,389.6L1058.7,388.8L1055.3,388L1051.8,387.2ZM550.3,385.6L554,384.9L557.7,384.2L577.2,396.7L573.9,397.4L570.6,398.2ZM573,381.5L577,380.8L581,380.2L585,379.6L589.1,379L593.3,378.5L597.5,377.9L601.7,377.4L605.9,376.9L610.2,376.4L614.6,375.9L619,375.4L623.4,375L627.8,374.5L632.3,374.1L644.9,386.4L640.8,386.8L636.8,387.3L632.7,387.8L628.7,388.2L624.8,388.7L620.8,389.3L617,389.8L613.1,390.3L609.3,390.9L605.5,391.5L601.8,392.1L598.2,392.7L594.5,393.3L591,393.9ZM797.5,367.3L802.5,367.3L807.6,367.3L812.6,367.3L817.6,367.4L822.7,367.4L827.7,367.5L825.5,379.5L820.8,379.5L816.2,379.4L811.5,379.4L806.8,379.3L802.2,379.3L797.5,379.3ZM887.3,369.1L892.1,369.4L897,369.6L901.8,369.8L906.7,370.1L898.5,382.2L894.1,382L889.6,381.7L885.1,381.5L880.6,381.2ZM570.6,398.2L573.9,397.4L577.2,396.7L580.5,396L584,395.3L604.6,407.1L601.5,407.8L598.6,408.5L595.7,409.3L592.8,410ZM605.5,391.5L609.3,390.9L613.1,390.3L617,389.8L620.8,389.3L624.8,388.7L628.7,388.2L644.4,400.1L640.8,400.6L637.3,401.1L633.8,401.7L630.4,402.2L627,402.8L623.7,403.4ZM816.2,379.4L820.8,379.5L825.5,379.5L830.1,379.6L834.8,379.7L831.5,391.5L827.2,391.4L823,391.3L818.8,391.2L814.5,391.2ZM862.4,380.5L867,380.6L871.5,380.8L876.1,381L880.6,381.2L873.2,393.1L869.1,392.8L864.9,392.6L860.8,392.5L856.6,392.3Z"/>
<path fill="#daaca8" d="M865.1,48.2L865.8,47.9L866.4,47.5L866.9,47.2L867.5,46.8L900.7,52.8L899.8,53.3L898.9,53.8L897.9,54.3L896.9,54.8ZM725.7,62.8L727.4,63.2L729.2,63.5L709.4,73.1L707.2,72.8L704.9,72.4ZM818.8,68.2L821,68.1L823.1,68L825.1,67.9L827.2,67.7L835.6,78.2L832.9,78.3L830.2,78.5L827.5,78.6L824.8,78.7ZM847.4,66L849.3,65.8L851.2,65.6L866.5,75.7L864.1,75.9L861.6,76.2ZM869.3,62.8L870.9,62.5L872.6,62.2L874.2,61.8L875.8,61.5L877.4,61.1L878.9,60.8L902.8,69.9L900.7,70.3L898.7,70.8L896.6,71.2L894.4,71.6L892.3,72L890.1,72.4ZM890,57.5L891.3,57.1L892.5,56.7L921.1,64.9L919.4,65.5L917.7,66ZM665,61.4L666.4,62L667.8,62.6L639.2,71.6L637.4,70.9L635.6,70.2ZM723.6,75.1L726,75.4L728.5,75.7L714.3,86.2L711.4,85.9L708.4,85.6ZM824.8,78.7L827.5,78.6L830.2,78.5L836.8,89.3L833.6,89.5L830.3,89.6ZM871.4,75.1L873.9,74.8L876.3,74.5L878.6,74.2L881,73.8L883.3,73.5L885.6,73.1L887.8,72.8L890.1,72.4L892.3,72L894.4,71.6L896.6,71.2L898.7,70.8L900.7,70.3L902.8,69.9L925,79.8L922.5,80.3L919.9,80.8L917.3,81.3L914.7,81.7L912,82.2L909.3,82.6L906.6,83L903.8,83.4L901,83.8L898.2,84.2L895.3,84.6L892.5,84.9L889.5,85.3L886.6,85.6ZM632.2,68.7L633.9,69.4L635.6,70.2L637.4,70.9L639.2,71.6L612.3,81.5L610.1,80.8L607.9,80L605.7,79.2L603.7,78.4ZM823.8,89.8L827.1,89.7L830.3,89.6L835.3,100.8L831.6,100.9L827.8,101ZM898.2,84.2L901,83.8L903.8,83.4L906.6,83L909.3,82.6L912,82.2L914.7,81.7L917.3,81.3L919.9,80.8L939.6,91.5L936.5,92L933.4,92.5L930.3,93L927.1,93.4L923.9,93.9L920.6,94.3L917.4,94.7L914.1,95.1ZM599.7,76.8L601.7,77.6L603.7,78.4L577,89.2L574.6,88.3L572.2,87.4ZM637.8,88.2L640.6,88.8L643.5,89.4L623.7,100.6L620.4,100.1L617.1,99.5ZM708.4,97.9L712,98.2L715.5,98.5L705.5,110L701.5,109.7L697.5,109.4ZM820.3,101.2L824,101.1L827.8,101L831.5,112.5L827.2,112.6L823,112.7ZM914.1,95.1L917.4,94.7L920.6,94.3L923.9,93.9L927.1,93.4L930.3,93L933.4,92.5L936.5,92L939.6,91.5L957.7,102.9L954.2,103.4L950.6,103.9L947,104.4L943.4,104.8L939.7,105.3L936.1,105.7L932.3,106.2L928.6,106.6ZM951.5,89.4L954.4,88.8L957.2,88.2L960,87.6L962.7,87L984.3,98.2L981.1,98.8L977.9,99.5L974.6,100.1L971.3,100.6ZM978,83L980.4,82.3L982.7,81.5L1007.7,92.5L1005,93.2L1002.2,94ZM572.2,87.4L574.6,88.3L577,89.2L552.3,100.9L549.5,100L546.7,99.1ZM587.3,92.5L590,93.2L592.8,94L595.7,94.7L598.6,95.5L601.5,96.2L604.6,96.9L584,108.7L580.5,108L577.2,107.3L573.9,106.6L570.6,105.8L567.4,105.1L564.3,104.3ZM697.5,109.4L701.5,109.7L705.5,110L709.6,110.2L713.6,110.5L717.7,110.7L721.8,110.9L714.4,122.8L709.9,122.5L705.4,122.3L700.9,122L696.5,121.8L692,121.5L687.6,121.2ZM831.5,112.5L835.7,112.4L839.9,112.3L844,124.1L839.4,124.2L834.8,124.3ZM950.6,103.9L954.2,103.4L957.7,102.9L974.2,114.7L970.2,115.3L966.3,115.8ZM1002.2,94L1005,93.2L1007.7,92.5L1030.7,104.3L1027.6,105.1L1024.4,105.8ZM1035.3,81.7L1037.2,80.7L1038.9,79.7L1040.6,78.6L1042.1,77.5L1071.6,88.8L1069.7,90L1067.6,91.1L1065.5,92.2L1063.3,93.2ZM536.4,95.3L538.9,96.3L541.4,97.2L544,98.2L546.7,99.1L549.5,100L552.3,100.9L529.7,113.5L526.5,112.6L523.3,111.7L520.2,110.8L517.2,109.9L514.3,108.9L511.4,107.9ZM558.2,102.6L561.2,103.5L564.3,104.3L567.4,105.1L570.6,105.8L573.9,106.6L577.2,107.3L580.5,108L584,108.7L565.2,121.2L561.4,120.5L557.7,119.8L554,119.1L550.3,118.4L546.7,117.6L543.2,116.8L539.7,116L536.3,115.2ZM825.5,124.5L830.1,124.4L834.8,124.3L837.7,136.4L832.7,136.4L827.7,136.5ZM941.7,118.4L945.9,118L950.1,117.6L954.2,117.2L958.2,116.7L971.6,129L967.2,129.5L962.7,129.9L958.2,130.3L953.6,130.7ZM1017.8,107.3L1021.1,106.6L1024.4,105.8L1044.7,118.4L1041,119.1L1037.3,119.8ZM1042.7,100.9L1045.5,100L1048.3,99.1L1071.7,111.7L1068.5,112.6L1065.3,113.5ZM536.3,115.2L539.7,116L543.2,116.8L524.2,130.1L520.4,129.4L516.6,128.6ZM669.3,132.8L674,133.1L678.7,133.4L670.8,145.8L665.7,145.6L660.7,145.3ZM944.4,131.5L949,131.1L953.6,130.7L958.2,130.3L962.7,129.9L967.2,129.5L971.6,129L983.6,141.7L978.8,142.1L974,142.5L969.1,142.9L964.2,143.3L959.3,143.7L954.4,144ZM509.2,126.9L512.9,127.8L516.6,128.6L499,142.6L495,141.8L491,141ZM532.1,131.6L536.1,132.3L540.1,133L524.6,146.7L520.2,146.1L515.9,145.4ZM733.4,148.2L738.7,148.3L744,148.4L741.1,160.9L735.5,160.8L729.9,160.7ZM765.4,148.8L770.7,148.8L776.1,148.9L774.9,161.3L769.3,161.3L763.6,161.2ZM829.6,148.8L835,148.7L840.3,148.6L845.7,148.5L851,148.4L856.3,148.3L861.6,148.2L866.9,148.1L872.2,147.9L877.5,147.8L882.7,147.6L887.3,160.2L881.8,160.3L876.2,160.5L870.6,160.6L865.1,160.7L859.5,160.8L853.9,160.9L848.3,161L842.6,161.1L837,161.2L831.4,161.2ZM903.6,146.8L908.8,146.6L913.9,146.4L920.3,159L914.8,159.2L909.4,159.4ZM1054.9,133L1058.9,132.3L1062.9,131.6L1079.1,145.4L1074.8,146.1L1070.4,146.7ZM515.9,145.4L520.2,146.1L524.6,146.7L529,147.3L533.5,147.9L538.1,148.5L542.7,149.1L530.3,163L525.4,162.5L520.6,162L515.8,161.4L511.1,160.9L506.4,160.3L501.8,159.7ZM631.9,156.9L637.2,157.2L642.5,157.5L635.5,170.5L629.9,170.3L624.4,170ZM696.6,159.8L702.1,160L707.7,160.2L713.2,160.3L718.8,160.5L715.3,173.2L709.5,173.1L703.7,172.9L697.9,172.8L692.1,172.6ZM774.9,161.3L780.6,161.4L786.2,161.4L791.8,161.4L797.5,161.4L797.5,174L791.6,174L785.7,174L779.8,174L773.9,174ZM808.8,161.4L814.4,161.4L820.1,161.3L825.7,161.3L831.4,161.2L837,161.2L842.6,161.1L848.3,161L853.9,160.9L859.5,160.8L865.1,160.7L870.6,160.6L876.2,160.5L879.7,173.2L873.9,173.3L868,173.4L862.2,173.5L856.3,173.6L850.5,173.7L844.6,173.8L838.7,173.8L832.9,173.9L827,173.9L821.1,174L815.2,174L809.3,174ZM1111.9,139.4L1115.7,138.6L1119.4,137.7L1136.6,152.7L1132.6,153.5L1128.4,154.3ZM492.6,158.5L497.2,159.1L501.8,159.7L506.4,160.3L511.1,160.9L515.8,161.4L520.6,162L525.4,162.5L530.3,163L535.2,163.5L540.2,164L545.2,164.5L550.2,164.9L555.3,165.4L560.4,165.8L551.3,179.7L546,179.4L540.7,179L535.4,178.6L530.2,178.2L525,177.8L519.8,177.3L514.7,176.9L509.6,176.4L504.6,175.9L499.6,175.5L494.7,175L489.8,174.4L484.9,173.9L480.1,173.4ZM844.6,173.8L850.5,173.7L856.3,173.6L862.2,173.5L868,173.4L873.9,173.3L879.7,173.2L885.5,173.1L891.3,172.9L897.1,172.8L902.9,172.6L908.6,172.5L914.3,172.3L918.5,185.3L912.6,185.4L906.6,185.6L900.6,185.7L894.7,185.8L888.6,186L882.6,186.1L876.6,186.2L870.6,186.3L864.5,186.4L858.4,186.4L852.4,186.5L846.3,186.6ZM1083.9,160.9L1088.6,160.3L1093.2,159.7L1105.2,174.4L1100.3,175L1095.4,175.5ZM1136.6,152.7L1140.7,151.9L1144.6,151.1L1159.9,166.9L1155.6,167.6L1151.3,168.3ZM411,162L414.8,162.9L418.7,163.7L405.1,180.6L400.9,179.9L396.7,179.1ZM470.7,172.2L475.4,172.8L480.1,173.4L484.9,173.9L489.8,174.4L494.7,175L499.6,175.5L504.6,175.9L509.6,176.4L500.6,191.2L495.4,190.8L490.2,190.4L485.1,190L479.9,189.5L474.9,189.1L469.9,188.6L464.9,188.2L460,187.7ZM1176.3,163.7L1180.2,162.9L1184,162L1198.3,179.1L1194.1,179.9L1189.9,180.6ZM431.5,184.5L436.2,185L440.8,185.6L445.5,186.1L450.3,186.7L441.6,202.7L436.6,202.3L431.7,201.9L426.9,201.4L422.1,201ZM460,187.7L464.9,188.2L469.9,188.6L474.9,189.1L479.9,189.5L472.3,204.9L467.1,204.6L461.9,204.2L456.7,203.8L451.6,203.5ZM710,199.1L716.2,199.2L722.4,199.3L728.6,199.3L734.9,199.4L741.1,199.4L747.3,199.5L746.3,212.5L739.9,212.5L733.5,212.5L727.2,212.4L720.8,212.3L714.5,212.3L708.1,212.2ZM1017.2,195.5L1022.9,195.3L1028.6,195L1033.8,209.1L1027.9,209.3L1022,209.5ZM1062.1,193.3L1067.6,193L1073,192.6L1079.4,207.3L1073.8,207.5L1068.2,207.8ZM1181.3,182L1185.7,181.3L1189.9,180.6L1200.7,198L1196.2,198.5L1191.6,199.1ZM422.1,201L426.9,201.4L431.7,201.9L436.6,202.3L441.6,202.7L446.6,203.1L451.6,203.5L456.7,203.8L461.9,204.2L467.1,204.6L472.3,204.9L466.8,220.5L461.4,220.2L456.1,220L450.9,219.8L445.6,219.5L440.5,219.3L435.3,219L430.2,218.7L425.2,218.4L420.2,218.1L415.3,217.8ZM998.3,210.2L1004.2,210L1010.2,209.9L1013.5,223.8L1007.4,224L1001.3,224.1ZM1045.4,208.7L1051.1,208.5L1056.9,208.3L1061,222.8L1055.1,222.9L1049.3,223.1ZM415.3,217.8L420.2,218.1L425.2,218.4L430.2,218.7L435.3,219L440.5,219.3L445.6,219.5L450.9,219.8L456.1,220L461.4,220.2L466.8,220.5L463.5,236.2L458.1,236.1L452.7,236L447.3,235.8L442,235.7L436.8,235.6L431.6,235.4L426.4,235.3L421.3,235.2L416.2,235L411.2,234.9ZM810.5,225.7L817,225.7L823.5,225.7L823.7,238.8L817.2,238.9L810.6,238.9ZM939.2,225L945.5,224.9L951.8,224.8L953.2,238.4L946.8,238.4L940.4,238.5ZM1025.5,223.6L1031.5,223.5L1037.5,223.3L1043.4,223.2L1049.3,223.1L1051.6,237.5L1045.7,237.6L1039.7,237.6L1033.7,237.7L1027.6,237.8ZM411.2,234.9L416.2,235L421.3,235.2L426.4,235.3L431.6,235.4L436.8,235.6L442,235.7L447.3,235.8L452.7,236L451.5,252L446.2,252L440.8,252L435.6,252L430.3,252L425.1,252L420,252L414.9,252L409.8,252ZM823.7,238.8L830.3,238.8L836.8,238.8L836.9,252L830.4,252L823.8,252ZM940.4,238.5L946.8,238.4L953.2,238.4L959.5,238.4L965.8,238.3L972.1,238.3L978.3,238.2L984.6,238.2L990.8,238.1L991.4,252L985.1,252L978.9,252L972.6,252L966.3,252L960,252L953.6,252L947.2,252L940.9,252ZM1039.7,237.6L1045.7,237.6L1051.6,237.5L1052.4,252L1046.4,252L1040.4,252ZM810.7,252L817.2,252L823.8,252L823.7,265.2L817.2,265.1L810.6,265.1ZM850.1,252L856.6,252L863.2,252L863,265.2L856.5,265.2L849.9,265.2ZM953.6,252L960,252L966.3,252L972.6,252L978.9,252L978.3,265.8L972.1,265.7L965.8,265.7L959.5,265.6L953.2,265.6ZM442,268.3L447.3,268.2L452.7,268L458.1,267.9L463.5,267.8L466.8,283.5L461.4,283.8L456.1,284L450.9,284.2L445.6,284.5ZM797.5,265.1L804.1,265.1L810.6,265.1L810.5,278.3L804,278.3L797.5,278.3ZM1003.2,266L1009.3,266L1015.5,266.1L1021.6,266.2L1027.6,266.2L1025.5,280.4L1019.5,280.3L1013.5,280.2L1007.4,280L1001.3,279.9ZM445.6,284.5L450.9,284.2L456.1,284L461.4,283.8L466.8,283.5L472.2,283.3L477.6,283.1L482.9,298.5L477.6,298.8L472.3,299.1L467.1,299.4L461.9,299.8L456.7,300.2L451.6,300.5ZM526.8,296.2L532.5,296L538.1,295.7L543.9,295.5L549.6,295.3L555.1,309.5L549.5,309.8L543.9,310.1L538.4,310.4L532.9,310.7ZM974.1,293.2L980.1,293.3L986.2,293.5L982.2,307.1L976.2,306.9L970.3,306.8ZM998.3,293.8L1004.2,294L1010.2,294.1L1005.6,308L999.8,307.8L993.9,307.6ZM1045.4,295.3L1051.1,295.5L1056.9,295.7L1051.1,310.1L1045.5,309.8L1039.9,309.5ZM440.8,318.4L445.5,317.9L450.3,317.3L461.5,333L456.9,333.7L452.5,334.3ZM511.2,312.1L516.6,311.7L522,311.4L530.2,325.8L525,326.2L519.8,326.7ZM612.8,307.1L618.8,306.9L624.7,306.8L629.5,320.2L623.8,320.4L618,320.7ZM982.2,307.1L988.1,307.3L993.9,307.6L988.4,321.2L982.7,320.9L977,320.7ZM530.2,325.8L535.4,325.4L540.7,325L546,324.6L551.3,324.3L560.4,338.2L555.3,338.6L550.2,339.1L545.2,339.5L540.2,340ZM573.1,322.9L578.6,322.6L584.1,322.3L591.8,335.9L586.5,336.2L581.2,336.6ZM652.8,319.4L658.7,319.2L664.6,319L669.2,332.1L663.6,332.3L657.9,332.5ZM1095.4,328.5L1100.3,329L1105.2,329.6L1110.1,330.1L1114.9,330.6L1119.6,331.2L1124.3,331.8L1128.9,332.4L1133.5,333L1120,348.3L1115.6,347.5L1111.3,346.9L1106.8,346.2L1102.4,345.5L1097.8,344.9L1093.2,344.3L1088.6,343.7L1083.9,343.1ZM540.2,340L545.2,339.5L550.2,339.1L555.3,338.6L560.4,338.2L565.5,337.8L570.7,337.4L575.9,337L581.2,336.6L586.5,336.2L591.8,335.9L600.9,349.2L595.9,349.6L590.8,350L585.8,350.4L580.9,350.9L576,351.3L571.1,351.8L566.2,352.3L561.4,352.8L556.7,353.3L552,353.8ZM657.9,332.5L663.6,332.3L669.2,332.1L674.7,345L669.3,345.2L663.9,345.4ZM1083.9,343.1L1088.6,343.7L1093.2,344.3L1097.8,344.9L1102.4,345.5L1106.8,346.2L1111.3,346.9L1115.6,347.5L1120,348.3L1104,363L1100,362.2L1096,361.4L1091.8,360.7L1087.7,360L1083.4,359.3L1079.1,358.6L1074.8,357.9L1070.4,357.3ZM524.6,357.3L529,356.7L533.5,356.1L538.1,355.5L542.7,354.9L547.3,354.3L552,353.8L556.7,353.3L561.4,352.8L566.2,352.3L571.1,351.8L576,351.3L580.9,350.9L585.8,350.4L590.8,350L595.9,349.6L600.9,349.2L611.4,362.3L606.7,362.7L602,363.1L597.3,363.6L592.6,364.1L588,364.6L583.4,365.1L578.9,365.6L574.4,366.1L570,366.7L565.6,367.2L561.2,367.8L556.9,368.4L552.6,369L548.4,369.7L544.3,370.3L540.1,371ZM653.1,346L658.5,345.7L663.9,345.4L670.8,358.2L665.7,358.4L660.7,358.7ZM831.4,342.8L837,342.8L842.6,342.9L848.3,343L853.9,343.1L859.5,343.2L865.1,343.3L861.6,355.8L856.3,355.7L851,355.6L845.7,355.5L840.3,355.4L835,355.3L829.6,355.2ZM898.4,344.2L903.9,344.4L909.4,344.6L914.8,344.8L920.3,345L913.9,357.6L908.8,357.4L903.6,357.2L898.4,357L893.2,356.8ZM952.5,346.5L957.8,346.8L963.1,347.1L968.3,347.4L973.5,347.8L964.2,360.7L959.3,360.3L954.4,360L949.4,359.6L944.4,359.3ZM540.1,371L544.3,370.3L548.4,369.7L552.6,369L556.9,368.4L561.2,367.8L565.6,367.2L570,366.7L574.4,366.1L589.1,379L585,379.6L581,380.2L577,380.8L573,381.5L569.1,382.1L565.2,382.8L561.4,383.5L557.7,384.2ZM583.4,365.1L588,364.6L592.6,364.1L597.3,363.6L602,363.1L606.7,362.7L611.4,362.3L616.2,361.9L621,361.5L625.9,361.1L630.8,360.7L641.4,373.3L636.8,373.7L632.3,374.1L627.8,374.5L623.4,375L619,375.4L614.6,375.9L610.2,376.4L605.9,376.9L601.7,377.4L597.5,377.9ZM786.8,355L792.1,355L797.5,355L797.5,367.3L792.5,367.3L787.4,367.3ZM808.2,355L813.6,355.1L818.9,355.1L817.6,367.4L812.6,367.3L807.6,367.3ZM861.6,355.8L866.9,355.9L872.2,356.1L877.5,356.2L882.7,356.4L887.9,356.6L893.2,356.8L898.4,357L903.6,357.2L897,369.6L892.1,369.4L887.3,369.1L882.4,368.9L877.5,368.7L872.5,368.6L867.6,368.4L862.6,368.2L857.7,368.1ZM924.2,358.2L929.3,358.4L934.3,358.7L939.4,359L944.4,359.3L935.1,371.9L930.5,371.5L925.7,371.2L921,370.9L916.3,370.6ZM557.7,384.2L561.4,383.5L565.2,382.8L569.1,382.1L573,381.5L591,393.9L587.4,394.6L584,395.3L580.5,396L577.2,396.7ZM827.7,367.5L832.7,367.6L837.7,367.6L834.8,379.7L830.1,379.6L825.5,379.5ZM857.7,368.1L862.6,368.2L867.6,368.4L872.5,368.6L877.5,368.7L882.4,368.9L887.3,369.1L880.6,381.2L876.1,381L871.5,380.8L867,380.6L862.4,380.5L857.8,380.3L853.2,380.2ZM584,395.3L587.4,394.6L591,393.9L594.5,393.3L598.2,392.7L601.8,392.1L605.5,391.5L623.7,403.4L620.4,403.9L617.1,404.5L613.9,405.2L610.7,405.8L607.6,406.5L604.6,407.1ZM834.8,379.7L839.4,379.8L844,379.9L848.6,380L853.2,380.2L857.8,380.3L862.4,380.5L856.6,392.3L852.5,392.1L848.3,392L844.1,391.8L839.9,391.7L835.7,391.6L831.5,391.5Z"/>
<path fill="#d09691" d="M867.5,46.8L868,46.4L868.5,46.1L868.9,45.7L869.4,45.3L903.8,50.7L903.1,51.3L902.4,51.8L901.6,52.3L900.7,52.8ZM851.2,65.6L853.1,65.4L855,65.1L856.9,64.9L858.7,64.6L860.5,64.3L862.3,64L864.1,63.8L865.8,63.5L867.6,63.2L869.3,62.8L890.1,72.4L887.8,72.8L885.6,73.1L883.3,73.5L881,73.8L878.6,74.2L876.3,74.5L873.9,74.8L871.4,75.1L869,75.4L866.5,75.7ZM892.5,56.7L893.7,56.2L894.8,55.7L924.2,63.8L922.7,64.4L921.1,64.9ZM759.4,78.2L762.1,78.3L764.8,78.5L758.2,89.3L755,89.2L751.7,89ZM819.4,78.9L822.1,78.8L824.8,78.7L830.3,89.6L827.1,89.7L823.8,89.8ZM617.3,59L618.1,59.8L619.1,60.7L620.1,61.6L621.2,62.4L622.3,63.2L623.5,64.1L592.7,73.3L591.1,72.4L589.5,71.4L588.1,70.5L586.7,69.5L585.5,68.5L584.2,67.5ZM751.7,89L755,89.2L758.2,89.3L752.2,100.5L748.4,100.4L744.7,100.2ZM817.3,89.9L820.5,89.9L823.8,89.8L827.8,101L824,101.1L820.3,101.2ZM612.3,81.5L614.6,82.3L617,83L619.4,83.7L621.9,84.4L598.6,95.5L595.7,94.7L592.8,94L590,93.2L587.3,92.5ZM632.3,87L635,87.6L637.8,88.2L617.1,99.5L613.9,98.8L610.7,98.2ZM744.7,100.2L748.4,100.4L752.2,100.5L755.9,100.7L759.7,100.8L763.4,100.9L767.2,101L763.5,112.5L759.3,112.4L755.1,112.3L750.9,112.2L746.7,112L742.5,111.9L738.4,111.7ZM812.7,101.3L816.5,101.2L820.3,101.2L823,112.7L818.8,112.8L814.5,112.8ZM962.7,87L965.4,86.4L968,85.7L970.6,85.1L973.1,84.4L975.6,83.7L978,83L1002.2,94L999.3,94.7L996.4,95.5L993.5,96.2L990.4,96.9L987.4,97.5L984.3,98.2ZM721.8,110.9L725.9,111.2L730.1,111.4L734.2,111.5L738.4,111.7L732.6,123.5L728,123.4L723.5,123.2L718.9,123L714.4,122.8ZM957.7,102.9L961.2,102.3L964.6,101.8L981.9,113.7L978,114.2L974.2,114.7ZM523.4,88.8L525.3,90L527.4,91.1L529.5,92.2L531.7,93.2L534,94.3L536.4,95.3L511.4,107.9L508.6,106.9L505.9,105.8L503.3,104.8L500.7,103.7L498.3,102.5L495.9,101.4ZM696.5,121.8L700.9,122L705.4,122.3L698,134.4L693.2,134.2L688.3,133.9ZM958.2,116.7L962.3,116.2L966.3,115.8L970.2,115.3L974.2,114.7L989.1,127.1L984.8,127.6L980.4,128.1L976,128.6L971.6,129ZM517.2,109.9L520.2,110.8L523.3,111.7L502.1,125.2L498.6,124.3L495.2,123.4ZM543.2,116.8L546.7,117.6L550.3,118.4L554,119.1L557.7,119.8L540.1,133L536.1,132.3L532.1,131.6L528.1,130.9L524.2,130.1ZM597.5,126.1L601.7,126.6L605.9,127.1L610.2,127.6L614.6,128.1L602,140.9L597.3,140.4L592.6,139.9L588,139.4L583.4,138.9ZM688.3,133.9L693.2,134.2L698,134.4L691.4,146.8L686.2,146.6L681.1,146.4ZM971.6,129L976,128.6L980.4,128.1L984.8,127.6L989.1,127.1L993.3,126.6L997.5,126.1L1001.7,125.5L1005.9,125L1020.6,137.9L1016.1,138.4L1011.6,138.9L1007,139.4L1002.4,139.9L997.7,140.4L993,140.9L988.3,141.3L983.6,141.7ZM1037.3,119.8L1041,119.1L1044.7,118.4L1048.3,117.6L1051.8,116.8L1055.3,116L1058.7,115.2L1062,114.4L1065.3,113.5L1068.5,112.6L1071.7,111.7L1092.9,125.2L1089.4,126.1L1085.8,126.9L1082.1,127.8L1078.4,128.6L1074.6,129.4L1070.8,130.1L1066.9,130.9L1062.9,131.6L1058.9,132.3L1054.9,133ZM502.1,125.2L505.6,126.1L509.2,126.9L491,141L487,140.2L483.1,139.4ZM540.1,133L544.3,133.7L548.4,134.3L533.5,147.9L529,147.3L524.6,146.7ZM650.6,144.7L655.6,145L660.7,145.3L653.1,158L647.8,157.8L642.5,157.5ZM722.8,147.9L728.1,148.1L733.4,148.2L729.9,160.7L724.4,160.6L718.8,160.5ZM744,148.4L749.3,148.5L754.7,148.6L760,148.7L765.4,148.8L763.6,161.2L758,161.2L752.4,161.1L746.7,161L741.1,160.9ZM882.7,147.6L887.9,147.4L893.2,147.2L898.4,147L903.6,146.8L909.4,159.4L903.9,159.6L898.4,159.8L892.9,160L887.3,160.2ZM944.4,144.7L949.4,144.4L954.4,144L959.3,143.7L964.2,143.3L969.1,142.9L974,142.5L978.8,142.1L983.6,141.7L988.3,141.3L993,140.9L1004.2,154L999.1,154.4L994.1,154.8L989,155.2L983.9,155.5L978.7,155.9L973.5,156.2L968.3,156.6L963.1,156.9L957.8,157.2L952.5,157.5ZM1046.6,134.3L1050.7,133.7L1054.9,133L1070.4,146.7L1066,147.3L1061.5,147.9ZM1085.8,126.9L1089.4,126.1L1092.9,125.2L1096.4,124.3L1099.8,123.4L1103.1,122.4L1106.3,121.5L1126.7,135.9L1123.1,136.8L1119.4,137.7L1115.7,138.6L1111.9,139.4L1108,140.2L1104,141ZM461.3,134L464.7,134.9L468.3,135.9L450.4,151.1L446.5,150.2L442.7,149.3ZM621.5,156.2L626.7,156.6L631.9,156.9L624.4,170L618.9,169.7L613.4,169.4ZM876.2,160.5L881.8,160.3L887.3,160.2L892.9,160L898.4,159.8L903.9,159.6L909.4,159.4L914.3,172.3L908.6,172.5L902.9,172.6L897.1,172.8L891.3,172.9L885.5,173.1L879.7,173.2ZM1079.1,145.4L1083.4,144.7L1087.7,144L1102.4,158.5L1097.8,159.1L1093.2,159.7ZM442.7,149.3L446.5,150.2L450.4,151.1L435.1,166.9L430.9,166.1L426.8,165.3ZM703.7,172.9L709.5,173.1L715.3,173.2L721.1,173.3L727,173.4L724.4,186.3L718.4,186.2L712.4,186.1L706.4,186L700.3,185.8ZM1144.6,151.1L1148.5,150.2L1152.3,149.3L1168.2,165.3L1164.1,166.1L1159.9,166.9ZM930.4,185L936.3,184.8L942.2,184.6L946.3,197.9L940.2,198.1L934.2,198.2ZM1085.4,176.4L1090.4,175.9L1095.4,175.5L1104.8,190.4L1099.6,190.8L1094.4,191.2ZM1168.2,165.3L1172.3,164.5L1176.3,163.7L1189.9,180.6L1185.7,181.3L1181.3,182ZM450.3,186.7L455.1,187.2L460,187.7L451.6,203.5L446.6,203.1L441.6,202.7ZM934.2,198.2L940.2,198.1L946.3,197.9L949.5,211.3L943.3,211.4L937.1,211.5ZM982.2,196.9L988.1,196.7L993.9,196.4L999.8,196.2L1005.6,196L1011.4,195.8L1017.2,195.5L1022,209.5L1016.1,209.7L1010.2,209.9L1004.2,210L998.3,210.2L992.2,210.4L986.2,210.5ZM1028.6,195L1034.3,194.8L1039.9,194.5L1045.4,208.7L1039.6,208.9L1033.8,209.1ZM937.1,211.5L943.3,211.4L949.5,211.3L955.7,211.2L961.8,211.1L967.9,210.9L974.1,210.8L980.1,210.7L986.2,210.5L989.1,224.3L982.9,224.4L976.7,224.5L970.5,224.6L964.3,224.7L958.1,224.7L951.8,224.8L945.5,224.9L939.2,225ZM1010.2,209.9L1016.1,209.7L1022,209.5L1025.5,223.6L1019.5,223.7L1013.5,223.8ZM951.8,224.8L958.1,224.7L964.3,224.7L970.5,224.6L976.7,224.5L982.9,224.4L989.1,224.3L995.2,224.2L1001.3,224.1L1003.2,238L997,238.1L990.8,238.1L984.6,238.2L978.3,238.2L972.1,238.3L965.8,238.3L959.5,238.4L953.2,238.4ZM1049.3,223.1L1055.1,222.9L1061,222.8L1066.8,222.6L1072.5,222.4L1078.3,222.3L1084,222.1L1086.7,237L1080.9,237.1L1075.1,237.2L1069.3,237.3L1063.4,237.4L1057.6,237.4L1051.6,237.5ZM784.4,238.9L790.9,238.9L797.5,238.9L797.5,252L790.9,252L784.3,252ZM810.6,238.9L817.2,238.9L823.7,238.8L823.8,252L817.2,252L810.7,252ZM1075.1,237.2L1080.9,237.1L1086.7,237L1087.6,252L1081.8,252L1076,252ZM1016.1,252L1022.2,252L1028.3,252L1027.6,266.2L1021.6,266.2L1015.5,266.1ZM1064.3,252L1070.2,252L1076,252L1075.1,266.8L1069.3,266.7L1063.4,266.6ZM836.8,265.2L843.4,265.2L849.9,265.2L849.5,278.4L843,278.3L836.5,278.3ZM876,265.3L882.5,265.3L889,265.3L888.2,278.6L881.8,278.5L875.3,278.5ZM784.5,278.3L791,278.3L797.5,278.3L797.5,291.3L791.1,291.3L784.7,291.3ZM989.1,279.7L995.2,279.8L1001.3,279.9L998.3,293.8L992.2,293.6L986.2,293.5ZM986.2,293.5L992.2,293.6L998.3,293.8L993.9,307.6L988.1,307.3L982.2,307.1ZM522,311.4L527.4,311L532.9,310.7L538.4,310.4L543.9,310.1L551.3,324.3L546,324.6L540.7,325L535.4,325.4L530.2,325.8ZM601.1,307.6L606.9,307.3L612.8,307.1L618,320.7L612.3,320.9L606.6,321.2ZM551.3,324.3L556.7,323.9L562.1,323.6L567.6,323.2L573.1,322.9L581.2,336.6L575.9,337L570.7,337.4L565.5,337.8L560.4,338.2ZM584.1,322.3L589.7,322L595.3,321.7L602.6,335.2L597.2,335.5L591.8,335.9ZM641.1,319.8L647,319.6L652.8,319.4L657.9,332.5L652.3,332.7L646.6,333ZM591.8,335.9L597.2,335.5L602.6,335.2L611.1,348.5L606,348.8L600.9,349.2ZM832.9,330.1L838.7,330.2L844.6,330.2L842.6,342.9L837,342.8L831.4,342.8ZM600.9,349.2L606,348.8L611.1,348.5L616.3,348.1L621.5,347.8L626.7,347.4L631.9,347.1L637.2,346.8L642.5,346.5L647.8,346.2L653.1,346L660.7,358.7L655.6,359L650.6,359.3L645.6,359.6L640.6,360L635.7,360.3L630.8,360.7L625.9,361.1L621,361.5L616.2,361.9L611.4,362.3ZM797.5,342.6L803.2,342.6L808.8,342.6L808.2,355L802.9,355L797.5,355ZM820.1,342.7L825.7,342.7L831.4,342.8L829.6,355.2L824.3,355.2L818.9,355.1ZM920.3,345L925.7,345.2L931.1,345.4L936.5,345.7L941.9,346L947.2,346.2L952.5,346.5L944.4,359.3L939.4,359L934.3,358.7L929.3,358.4L924.2,358.2L919,357.9L913.9,357.6ZM818.9,355.1L824.3,355.2L829.6,355.2L835,355.3L840.3,355.4L845.7,355.5L851,355.6L856.3,355.7L861.6,355.8L857.7,368.1L852.7,368L847.7,367.8L842.7,367.7L837.7,367.6L832.7,367.6L827.7,367.5L822.7,367.4L817.6,367.4ZM903.6,357.2L908.8,357.4L913.9,357.6L919,357.9L924.2,358.2L916.3,370.6L911.5,370.3L906.7,370.1L901.8,369.8L897,369.6ZM787.4,367.3L792.5,367.3L797.5,367.3L797.5,379.3L792.8,379.3L788.2,379.3ZM837.7,367.6L842.7,367.7L847.7,367.8L852.7,368L857.7,368.1L853.2,380.2L848.6,380L844,379.9L839.4,379.8L834.8,379.7Z"/>
<path fill="#c47e78" d="M869.4,45.3L869.8,45L870.1,44.6L870.4,44.2L870.7,43.8L871,43.4L871.2,43L871.4,42.6L871.6,42.2L907.9,46.3L907.5,46.8L907.2,47.4L906.7,48L906.2,48.5L905.7,49.1L905.1,49.6L904.5,50.2L903.8,50.7ZM780.4,68.3L782.5,68.4L784.6,68.5L786.8,68.5L788.9,68.6L786.5,79.1L783.8,79.1L781,79L778.3,79L775.6,78.9ZM810.4,68.5L812.5,68.4L814.6,68.3L816.7,68.3L818.8,68.2L824.8,78.7L822.1,78.8L819.4,78.9L816.7,79L814,79ZM894.8,55.7L895.9,55.3L896.9,54.8L897.9,54.3L898.9,53.8L899.8,53.3L900.7,52.8L901.6,52.3L902.4,51.8L903.1,51.3L903.8,50.7L904.5,50.2L905.1,49.6L905.7,49.1L906.2,48.5L906.7,48L907.2,47.4L907.5,46.8L907.9,46.3L943.4,51.8L942.8,52.6L942.2,53.3L941.5,54L940.7,54.8L939.9,55.5L939,56.2L938.1,56.9L937.1,57.5L936,58.2L934.9,58.9L933.8,59.5L932.6,60.2L931.3,60.8L930,61.4L928.6,62L927.2,62.6L925.7,63.2L924.2,63.8ZM662.4,60.2L663.7,60.8L665,61.4L635.6,70.2L633.9,69.4L632.2,68.7ZM781,79L783.8,79.1L786.5,79.1L784.3,90.1L781,90L777.7,89.9ZM814,79L816.7,79L819.4,78.9L823.8,89.8L820.5,89.9L817.3,89.9ZM623.5,64.1L624.8,64.9L626.2,65.7L596.1,75.1L594.3,74.2L592.7,73.3ZM621.9,84.4L624.4,85.1L627,85.7L629.6,86.4L632.3,87L610.7,98.2L607.6,97.5L604.6,96.9L601.5,96.2L598.6,95.5ZM814.5,112.8L818.8,112.8L823,112.7L825.5,124.5L820.8,124.5L816.2,124.6ZM964.6,101.8L968,101.2L971.3,100.6L974.6,100.1L977.9,99.5L981.1,98.8L984.3,98.2L1004,110.1L1000.5,110.7L996.8,111.3L993.2,111.9L989.5,112.5L985.7,113.1L981.9,113.7ZM996.4,95.5L999.3,94.7L1002.2,94L1024.4,105.8L1021.1,106.6L1017.8,107.3ZM705.4,122.3L709.9,122.5L714.4,122.8L718.9,123L723.5,123.2L728,123.4L732.6,123.5L737.2,123.7L741.8,123.8L737.3,135.9L732.4,135.8L727.4,135.6L722.5,135.4L717.5,135.3L712.6,135.1L707.7,134.9L702.9,134.6L698,134.4ZM816.2,124.6L820.8,124.5L825.5,124.5L827.7,136.5L822.7,136.6L817.6,136.6ZM974.2,114.7L978,114.2L981.9,113.7L985.7,113.1L989.5,112.5L993.2,111.9L996.8,111.3L1014,123.8L1010,124.4L1005.9,125L1001.7,125.5L997.5,126.1L993.3,126.6L989.1,127.1ZM1004,110.1L1007.6,109.4L1011,108.7L1014.5,108L1017.8,107.3L1037.3,119.8L1033.6,120.5L1029.8,121.2L1025.9,121.9L1022,122.5ZM1067.6,91.1L1069.7,90L1071.6,88.8L1099.1,101.4L1096.7,102.5L1094.3,103.7ZM511.4,107.9L514.3,108.9L517.2,109.9L495.2,123.4L491.9,122.4L488.7,121.5ZM557.7,119.8L561.4,120.5L565.2,121.2L569.1,121.9L573,122.5L577,123.2L581,123.8L585,124.4L589.1,125L593.3,125.5L597.5,126.1L583.4,138.9L578.9,138.4L574.4,137.9L570,137.3L565.6,136.8L561.2,136.2L556.9,135.6L552.6,135L548.4,134.3L544.3,133.7L540.1,133ZM614.6,128.1L619,128.6L623.4,129L611.4,141.7L606.7,141.3L602,140.9ZM650.6,131.5L655.2,131.8L659.9,132.1L664.5,132.5L669.3,132.8L660.7,145.3L655.6,145L650.6,144.7L645.6,144.4L640.6,144ZM717.5,135.3L722.5,135.4L727.4,135.6L732.4,135.8L737.3,135.9L733.4,148.2L728.1,148.1L722.8,147.9L717.5,147.8L712.3,147.6ZM817.6,136.6L822.7,136.6L827.7,136.5L829.6,148.8L824.3,148.8L818.9,148.9ZM1005.9,125L1010,124.4L1014,123.8L1029.4,136.8L1025,137.3L1020.6,137.9ZM1029.8,121.2L1033.6,120.5L1037.3,119.8L1054.9,133L1050.7,133.7L1046.6,134.3ZM1071.7,111.7L1074.8,110.8L1077.8,109.9L1080.7,108.9L1083.6,107.9L1106.3,121.5L1103.1,122.4L1099.8,123.4L1096.4,124.3L1092.9,125.2ZM1094.3,103.7L1096.7,102.5L1099.1,101.4L1124.2,115.1L1121.4,116.2L1118.6,117.3ZM482.4,119.4L485.5,120.5L488.7,121.5L491.9,122.4L495.2,123.4L498.6,124.3L502.1,125.2L483.1,139.4L479.3,138.6L475.6,137.7L471.9,136.8L468.3,135.9L464.7,134.9L461.3,134ZM776.1,148.9L781.4,148.9L786.8,149L792.1,149L797.5,149L802.9,149L808.2,149L813.6,148.9L818.9,148.9L824.3,148.8L829.6,148.8L831.4,161.2L825.7,161.3L820.1,161.3L814.4,161.4L808.8,161.4L803.2,161.4L797.5,161.4L791.8,161.4L786.2,161.4L780.6,161.4L774.9,161.3ZM993,140.9L997.7,140.4L1002.4,139.9L1007,139.4L1011.6,138.9L1023.9,152.2L1019,152.7L1014.1,153.1L1009.2,153.6L1004.2,154ZM1038.1,135.6L1042.4,135L1046.6,134.3L1061.5,147.9L1056.9,148.5L1052.3,149.1ZM1106.3,121.5L1109.5,120.5L1112.6,119.4L1115.6,118.4L1118.6,117.3L1121.4,116.2L1124.2,115.1L1146.9,129.8L1143.7,130.9L1140.5,132L1137.1,133L1133.7,134L1130.3,134.9L1126.7,135.9ZM542.7,149.1L547.3,149.7L552,150.2L556.7,150.7L561.4,151.2L566.2,151.7L571.1,152.2L576,152.7L580.9,153.1L585.8,153.6L590.8,154L595.9,154.4L600.9,154.8L606,155.2L611.1,155.5L616.3,155.9L621.5,156.2L613.4,169.4L608,169.1L602.6,168.8L597.2,168.5L591.8,168.1L586.5,167.8L581.2,167.4L575.9,167L570.7,166.6L565.5,166.2L560.4,165.8L555.3,165.4L550.2,164.9L545.2,164.5L540.2,164L535.2,163.5L530.3,163ZM1119.4,137.7L1123.1,136.8L1126.7,135.9L1130.3,134.9L1133.7,134L1152.3,149.3L1148.5,150.2L1144.6,151.1L1140.7,151.9L1136.6,152.7ZM1140.5,132L1143.7,130.9L1146.9,129.8L1166.9,145.5L1163.3,146.5L1159.7,147.5ZM428.1,145.5L431.7,146.5L435.3,147.5L418.7,163.7L414.8,162.9L411,162ZM937.1,171.5L942.7,171.3L948.4,171L953.9,184.2L948,184.4L942.2,184.6ZM1064.7,163L1069.6,162.5L1074.4,162L1079.2,161.4L1083.9,160.9L1095.4,175.5L1090.4,175.9L1085.4,176.4L1080.3,176.9L1075.2,177.3ZM712.4,186.1L718.4,186.2L724.4,186.3L722.4,199.3L716.2,199.2L710,199.1ZM942.2,184.6L948,184.4L953.9,184.2L958.3,197.6L952.3,197.8L946.3,197.9ZM988.4,182.8L994,182.6L999.7,182.3L1005.3,182L1010.9,181.7L1016.4,181.4L1021.9,181.1L1028.6,195L1022.9,195.3L1017.2,195.5L1011.4,195.8L1005.6,196L999.8,196.2L993.9,196.4ZM946.3,197.9L952.3,197.8L958.3,197.6L964.3,197.4L970.3,197.2L976.2,197.1L982.2,196.9L986.2,210.5L980.1,210.7L974.1,210.8L967.9,210.9L961.8,211.1L955.7,211.2L949.5,211.3ZM1073,192.6L1078.4,192.3L1083.8,191.9L1090.5,206.7L1085,207L1079.4,207.3ZM1056.9,208.3L1062.5,208L1068.2,207.8L1072.5,222.4L1066.8,222.6L1061,222.8ZM1015.5,237.9L1021.6,237.8L1027.6,237.8L1028.3,252L1022.2,252L1016.1,252ZM1051.6,237.5L1057.6,237.4L1063.4,237.4L1069.3,237.3L1075.1,237.2L1076,252L1070.2,252L1064.3,252L1058.4,252L1052.4,252ZM784.4,265.1L790.9,265.1L797.5,265.1L797.5,278.3L791,278.3L784.5,278.3ZM823.7,265.2L830.3,265.2L836.8,265.2L836.5,278.3L830,278.3L823.5,278.3ZM543.9,310.1L549.5,309.8L555.1,309.5L560.7,309.2L566.4,309L572.1,308.7L577.8,308.5L583.6,308.2L589.4,308L595.2,307.8L601.1,307.6L606.6,321.2L601,321.4L595.3,321.7L589.7,322L584.1,322.3L578.6,322.6L573.1,322.9L567.6,323.2L562.1,323.6L556.7,323.9L551.3,324.3ZM595.3,321.7L601,321.4L606.6,321.2L612.3,320.9L618,320.7L623.8,320.4L629.5,320.2L635.3,320L641.1,319.8L646.6,333L641,333.2L635.5,333.5L629.9,333.7L624.4,334L618.9,334.3L613.4,334.6L608,334.9L602.6,335.2ZM602.6,335.2L608,334.9L613.4,334.6L618.9,334.3L624.4,334L629.9,333.7L635.5,333.5L641,333.2L646.6,333L652.3,332.7L657.9,332.5L663.9,345.4L658.5,345.7L653.1,346L647.8,346.2L642.5,346.5L637.2,346.8L631.9,347.1L626.7,347.4L621.5,347.8L616.3,348.1L611.1,348.5ZM808.8,342.6L814.4,342.6L820.1,342.7L818.9,355.1L813.6,355.1L808.2,355Z"/>
<path fill="#b36861" d="M687.1,46.3L687.5,46.8L687.8,47.4L688.3,48L688.8,48.5L689.3,49.1L689.9,49.6L690.5,50.2L691.2,50.7L657.9,57.5L656.9,56.9L656,56.2L655.1,55.5L654.3,54.8L653.5,54L652.8,53.3L652.2,52.6L651.6,51.8ZM651.6,51.8L652.2,52.6L652.8,53.3L653.5,54L654.3,54.8L655.1,55.5L656,56.2L656.9,56.9L657.9,57.5L626.2,65.7L624.8,64.9L623.5,64.1L622.3,63.2L621.2,62.4L620.1,61.6L619.1,60.7L618.1,59.8L617.3,59ZM775.6,78.9L778.3,79L781,79L777.7,89.9L774.5,89.9L771.2,89.8ZM792,79.2L794.8,79.2L797.5,79.2L797.5,90.2L794.2,90.1L790.9,90.1ZM626.2,65.7L627.6,66.5L629.1,67.2L599.7,76.8L597.9,75.9L596.1,75.1ZM777.7,89.9L781,90L784.3,90.1L787.6,90.1L790.9,90.1L789.9,101.4L786.1,101.3L782.3,101.3L778.5,101.2L774.7,101.2ZM738.4,111.7L742.5,111.9L746.7,112L750.9,112.2L755.1,112.3L751,124.1L746.4,124L741.8,123.8L737.2,123.7L732.6,123.5ZM772,112.7L776.2,112.8L780.5,112.8L784.7,112.9L789,112.9L788.2,124.7L783.5,124.6L778.8,124.6L774.2,124.5L769.5,124.5ZM984.3,98.2L987.4,97.5L990.4,96.9L993.5,96.2L996.4,95.5L1017.8,107.3L1014.5,108L1011,108.7L1007.6,109.4L1004,110.1ZM769.5,124.5L774.2,124.5L778.8,124.6L783.5,124.6L788.2,124.7L792.8,124.7L797.5,124.7L797.5,136.7L792.5,136.7L787.4,136.7L782.4,136.7L777.4,136.6L772.3,136.6L767.3,136.5ZM806.8,124.7L811.5,124.6L816.2,124.6L817.6,136.6L812.6,136.7L807.6,136.7ZM996.8,111.3L1000.5,110.7L1004,110.1L1022,122.5L1018,123.2L1014,123.8ZM1063.3,93.2L1065.5,92.2L1067.6,91.1L1094.3,103.7L1091.7,104.8L1089.1,105.8ZM505.9,105.8L508.6,106.9L511.4,107.9L488.7,121.5L485.5,120.5L482.4,119.4ZM623.4,129L627.8,129.5L632.3,129.9L636.8,130.3L641.4,130.7L646,131.1L650.6,131.5L640.6,144L635.7,143.7L630.8,143.3L625.9,142.9L621,142.5L616.2,142.1L611.4,141.7ZM698,134.4L702.9,134.6L707.7,134.9L712.6,135.1L717.5,135.3L712.3,147.6L707.1,147.4L701.8,147.2L696.6,147L691.4,146.8ZM737.3,135.9L742.3,136L747.3,136.2L752.3,136.3L757.3,136.4L762.3,136.4L767.3,136.5L772.3,136.6L777.4,136.6L782.4,136.7L787.4,136.7L792.5,136.7L797.5,136.7L802.5,136.7L807.6,136.7L812.6,136.7L817.6,136.6L818.9,148.9L813.6,148.9L808.2,149L802.9,149L797.5,149L792.1,149L786.8,149L781.4,148.9L776.1,148.9L770.7,148.8L765.4,148.8L760,148.7L754.7,148.6L749.3,148.5L744,148.4L738.7,148.3L733.4,148.2ZM1014,123.8L1018,123.2L1022,122.5L1025.9,121.9L1029.8,121.2L1046.6,134.3L1042.4,135L1038.1,135.6L1033.8,136.2L1029.4,136.8ZM1083.6,107.9L1086.4,106.9L1089.1,105.8L1091.7,104.8L1094.3,103.7L1118.6,117.3L1115.6,118.4L1112.6,119.4L1109.5,120.5L1106.3,121.5ZM548.4,134.3L552.6,135L556.9,135.6L561.2,136.2L565.6,136.8L570,137.3L574.4,137.9L578.9,138.4L583.4,138.9L588,139.4L592.6,139.9L597.3,140.4L602,140.9L606.7,141.3L611.4,141.7L616.2,142.1L621,142.5L611.1,155.5L606,155.2L600.9,154.8L595.9,154.4L590.8,154L585.8,153.6L580.9,153.1L576,152.7L571.1,152.2L566.2,151.7L561.4,151.2L556.7,150.7L552,150.2L547.3,149.7L542.7,149.1L538.1,148.5L533.5,147.9ZM630.8,143.3L635.7,143.7L640.6,144L645.6,144.4L650.6,144.7L642.5,157.5L637.2,157.2L631.9,156.9L626.7,156.6L621.5,156.2ZM691.4,146.8L696.6,147L701.8,147.2L707.1,147.4L712.3,147.6L717.5,147.8L722.8,147.9L718.8,160.5L713.2,160.3L707.7,160.2L702.1,160L696.6,159.8L691.1,159.6L685.6,159.4ZM454.5,132L457.9,133L461.3,134L442.7,149.3L438.9,148.4L435.3,147.5ZM941.9,158L947.2,157.8L952.5,157.5L959.5,170.5L954,170.8L948.4,171ZM963.1,156.9L968.3,156.6L973.5,156.2L978.7,155.9L983.9,155.5L992.4,168.8L987,169.1L981.6,169.4L976.1,169.7L970.6,170ZM1004.2,154L1009.2,153.6L1014.1,153.1L1019,152.7L1023.9,152.2L1034.6,165.8L1029.5,166.2L1024.3,166.6L1019.1,167L1013.8,167.4ZM1061.5,147.9L1066,147.3L1070.4,146.7L1074.8,146.1L1079.1,145.4L1093.2,159.7L1088.6,160.3L1083.9,160.9L1079.2,161.4L1074.4,162ZM1133.7,134L1137.1,133L1140.5,132L1159.7,147.5L1156.1,148.4L1152.3,149.3ZM435.3,147.5L438.9,148.4L442.7,149.3L426.8,165.3L422.7,164.5L418.7,163.7ZM948.4,171L954,170.8L959.5,170.5L965.1,170.3L970.6,170L977,183.3L971.2,183.6L965.5,183.8L959.7,184L953.9,184.2ZM1003.2,168.1L1008.5,167.8L1013.8,167.4L1019.1,167L1024.3,166.6L1029.5,166.2L1034.6,165.8L1043.7,179.7L1038.3,180.1L1032.9,180.4L1027.4,180.8L1021.9,181.1L1016.4,181.4L1010.9,181.7ZM1152.3,149.3L1156.1,148.4L1159.7,147.5L1163.3,146.5L1166.9,145.5L1184,162L1180.2,162.9L1176.3,163.7L1172.3,164.5L1168.2,165.3ZM953.9,184.2L959.7,184L965.5,183.8L971.2,183.6L977,183.3L982.7,183.1L988.4,182.8L993.9,196.4L988.1,196.7L982.2,196.9L976.2,197.1L970.3,197.2L964.3,197.4L958.3,197.6ZM1021.9,181.1L1027.4,180.8L1032.9,180.4L1038.3,180.1L1043.7,179.7L1049,179.4L1054.3,179L1059.6,178.6L1064.8,178.2L1070,177.8L1075.2,177.3L1080.3,176.9L1085.4,176.4L1094.4,191.2L1089.1,191.5L1083.8,191.9L1078.4,192.3L1073,192.6L1067.6,193L1062.1,193.3L1056.6,193.6L1051.1,193.9L1045.5,194.2L1039.9,194.5L1034.3,194.8L1028.6,195ZM1039.9,194.5L1045.5,194.2L1051.1,193.9L1056.9,208.3L1051.1,208.5L1045.4,208.7ZM986.2,210.5L992.2,210.4L998.3,210.2L1001.3,224.1L995.2,224.2L989.1,224.3ZM1001.3,279.9L1007.4,280L1013.5,280.2L1010.2,294.1L1004.2,294L998.3,293.8ZM835.3,403.2L839.1,403.3L842.8,403.5L836.8,414.7L833.6,414.5L830.3,414.4Z"/>
<path fill="#9f554c" d="M657.9,57.5L659,58.2L660.1,58.9L661.2,59.5L662.4,60.2L632.2,68.7L630.6,68L629.1,67.2L627.6,66.5L626.2,65.7ZM764.8,78.5L767.5,78.6L770.2,78.7L772.9,78.8L775.6,78.9L771.2,89.8L767.9,89.7L764.7,89.6L761.4,89.5L758.2,89.3ZM629.1,67.2L630.6,68L632.2,68.7L603.7,78.4L601.7,77.6L599.7,76.8ZM758.2,89.3L761.4,89.5L764.7,89.6L767.9,89.7L771.2,89.8L767.2,101L763.4,100.9L759.7,100.8L755.9,100.7L752.2,100.5ZM741.8,123.8L746.4,124L751,124.1L755.6,124.2L760.2,124.3L764.9,124.4L769.5,124.5L767.3,136.5L762.3,136.4L757.3,136.4L752.3,136.3L747.3,136.2L742.3,136L737.3,135.9ZM1048.3,99.1L1051,98.2L1053.6,97.2L1056.1,96.3L1058.6,95.3L1061,94.3L1063.3,93.2L1089.1,105.8L1086.4,106.9L1083.6,107.9L1080.7,108.9L1077.8,109.9L1074.8,110.8L1071.7,111.7ZM495.9,101.4L498.3,102.5L500.7,103.7L503.3,104.8L505.9,105.8L482.4,119.4L479.4,118.4L476.4,117.3L473.6,116.2L470.8,115.1ZM470.8,115.1L473.6,116.2L476.4,117.3L479.4,118.4L482.4,119.4L461.3,134L457.9,133L454.5,132L451.3,130.9L448.1,129.8ZM621,142.5L625.9,142.9L630.8,143.3L621.5,156.2L616.3,155.9L611.1,155.5ZM1011.6,138.9L1016.1,138.4L1020.6,137.9L1033.6,151.2L1028.8,151.7L1023.9,152.2ZM1029.4,136.8L1033.8,136.2L1038.1,135.6L1052.3,149.1L1047.7,149.7L1043,150.2ZM448.1,129.8L451.3,130.9L454.5,132L435.3,147.5L431.7,146.5L428.1,145.5ZM983.9,155.5L989,155.2L994.1,154.8L999.1,154.4L1004.2,154L1013.8,167.4L1008.5,167.8L1003.2,168.1L997.8,168.5L992.4,168.8ZM1023.9,152.2L1028.8,151.7L1033.6,151.2L1044.8,164.9L1039.7,165.4L1034.6,165.8ZM970.6,170L976.1,169.7L981.6,169.4L987,169.1L992.4,168.8L997.8,168.5L1003.2,168.1L1010.9,181.7L1005.3,182L999.7,182.3L994,182.6L988.4,182.8L982.7,183.1L977,183.3ZM1034.6,165.8L1039.7,165.4L1044.8,164.9L1054.3,179L1049,179.4L1043.7,179.7ZM1054.8,164L1059.8,163.5L1064.7,163L1075.2,177.3L1070,177.8L1064.8,178.2Z"/>
<path fill="#85453c" d="M797.5,58.4L799,58.4L800.5,58.4L801.8,68.6L799.6,68.6L797.5,68.6ZM826.6,57L828,56.9L829.3,56.7L843.5,66.5L841.5,66.6L839.5,66.8ZM806.1,68.6L808.2,68.5L810.4,68.5L814,79L811.2,79.1L808.5,79.1ZM755.1,112.3L759.3,112.4L763.5,112.5L767.8,112.6L772,112.7L769.5,124.5L764.9,124.4L760.2,124.3L755.6,124.2L751,124.1ZM797.5,124.7L802.2,124.7L806.8,124.7L807.6,136.7L802.5,136.7L797.5,136.7ZM1020.6,137.9L1025,137.3L1029.4,136.8L1043,150.2L1038.3,150.7L1033.6,151.2ZM952.5,157.5L957.8,157.2L963.1,156.9L970.6,170L965.1,170.3L959.5,170.5ZM1033.6,151.2L1038.3,150.7L1043,150.2L1047.7,149.7L1052.3,149.1L1056.9,148.5L1061.5,147.9L1074.4,162L1069.6,162.5L1064.7,163L1059.8,163.5L1054.8,164L1049.8,164.5L1044.8,164.9ZM1044.8,164.9L1049.8,164.5L1054.8,164L1064.8,178.2L1059.6,178.6L1054.3,179ZM797.5,355L802.9,355L808.2,355L807.6,367.3L802.5,367.3L797.5,367.3Z"/>
<path fill="#682c21" d="M797.5,68.6L799.6,68.6L801.8,68.6L803,79.2L800.2,79.2L797.5,79.2ZM797.5,79.2L800.2,79.2L803,79.2L804.1,90.1L800.8,90.1L797.5,90.2ZM797.5,90.2L800.8,90.1L804.1,90.1L805.1,101.4L801.3,101.4L797.5,101.4ZM789.9,101.4L793.7,101.4L797.5,101.4L797.5,112.9L793.2,112.9L789,112.9ZM805.1,101.4L808.9,101.3L812.7,101.3L814.5,112.8L810.3,112.9L806,112.9ZM806,112.9L810.3,112.9L814.5,112.8L816.2,124.6L811.5,124.6L806.8,124.7Z"/>
<path fill="#4a1709" d="M788.9,68.6L791.1,68.6L793.2,68.6L792,79.2L789.3,79.2L786.5,79.1ZM803,79.2L805.7,79.2L808.5,79.1L810.7,90.1L807.4,90.1L804.1,90.1ZM797.5,101.4L801.3,101.4L805.1,101.4L806,112.9L801.8,112.9L797.5,112.9ZM789,112.9L793.2,112.9L797.5,112.9L801.8,112.9L806,112.9L806.8,124.7L802.2,124.7L797.5,124.7L792.8,124.7L788.2,124.7Z"/>
<path fill="#e8f1f6" d="M714,73.8L716.4,74.2L718.7,74.5L702.5,84.9L699.7,84.6L696.8,84.2ZM720.4,86.8L723.4,87.1L726.5,87.4L715.5,98.5L712,98.2L708.4,97.9ZM943.7,75.4L945.9,74.8L948,74.2L973.1,84.4L970.6,85.1L968,85.7ZM965.9,67.2L967.4,66.5L968.8,65.7L970.2,64.9L971.5,64.1L1002.3,73.3L1000.7,74.2L998.9,75.1L997.1,75.9L995.3,76.8ZM674.4,94.3L677.6,94.7L680.9,95.1L684.3,95.5L687.7,95.9L674,107.4L670.2,107L666.4,106.6L662.7,106.2L658.9,105.7ZM694.5,96.6L697.9,97L701.4,97.3L689.6,108.8L685.7,108.4L681.8,108.1ZM663.9,158.6L669.3,158.8L674.7,159L680.2,159.2L685.6,159.4L680.7,172.3L674.9,172.1L669.2,171.9L663.6,171.7L657.9,171.5ZM680.7,172.3L686.4,172.5L692.1,172.6L688.4,185.6L682.4,185.4L676.5,185.3ZM606.6,182.8L612.3,183.1L618,183.3L612.8,196.9L606.9,196.7L601.1,196.4ZM664.6,185L670.5,185.1L676.5,185.3L673,198.5L666.9,198.3L660.8,198.2ZM577.8,195.5L583.6,195.8L589.4,196L584.8,209.9L578.9,209.7L573,209.5ZM601.1,196.4L606.9,196.7L612.8,196.9L618.8,197.1L624.7,197.2L630.7,197.4L636.7,197.6L633.2,211.1L627.1,210.9L620.9,210.8L614.9,210.7L608.8,210.5L602.8,210.4L596.7,210.2ZM538.1,208.3L543.9,208.5L549.6,208.7L555.4,208.9L561.2,209.1L567.1,209.3L573,209.5L569.5,223.6L563.5,223.5L557.5,223.3L551.6,223.2L545.7,223.1L539.9,222.9L534,222.8ZM596.7,210.2L602.8,210.4L608.8,210.5L614.9,210.7L620.9,210.8L627.1,210.9L633.2,211.1L630.7,224.7L624.5,224.6L618.3,224.5L612.1,224.4L605.9,224.3L599.8,224.2L593.7,224.1ZM522.5,222.4L528.2,222.6L534,222.8L539.9,222.9L545.7,223.1L543.4,237.5L537.4,237.4L531.6,237.4L525.7,237.3L519.9,237.2ZM581.5,223.8L587.6,224L593.7,224.1L591.8,238L585.7,238L579.5,237.9ZM618.3,224.5L624.5,224.6L630.7,224.7L636.9,224.7L643.2,224.8L649.5,224.9L655.8,225L654.6,238.5L648.2,238.4L641.8,238.4L635.5,238.4L629.2,238.3L622.9,238.3L616.7,238.2ZM745.5,225.6L752,225.7L758.5,225.7L758.2,238.8L751.6,238.8L745.1,238.8ZM484.6,252L490.2,252L495.9,252L496.9,267.2L491.2,267.3L485.6,267.4ZM519.9,266.8L525.7,266.7L531.6,266.6L537.4,266.6L543.4,266.5L545.7,280.9L539.9,281.1L534,281.2L528.2,281.4L522.5,281.6ZM581.5,280.2L587.6,280L593.7,279.9L596.7,293.8L590.8,294L584.8,294.1ZM620.9,293.2L627.1,293.1L633.2,292.9L636.7,306.4L630.7,306.6L624.7,306.8ZM1022,294.5L1027.9,294.7L1033.8,294.9L1039.6,295.1L1045.4,295.3L1039.9,309.5L1034.3,309.2L1028.6,309L1022.9,308.7L1017.2,308.5ZM413.7,322L418,321.4L422.5,320.8L435.1,337.1L430.9,337.9L426.8,338.7ZM660.8,305.8L666.9,305.7L673,305.5L676.5,318.7L670.5,318.9L664.6,319ZM909.7,305.3L915.8,305.4L922,305.5L928.1,305.7L934.2,305.8L930.4,319L924.5,318.9L918.5,318.7L912.6,318.6L906.6,318.4ZM426.8,338.7L430.9,337.9L435.1,337.1L450.4,352.9L446.5,353.8L442.7,354.7ZM452.5,334.3L456.9,333.7L461.5,333L466.1,332.4L470.7,331.8L483.7,346.9L479.4,347.5L475,348.3L470.8,349L466.6,349.7ZM736.6,317.6L742.6,317.5L748.7,317.4L754.8,317.4L760.9,317.3L762.1,330.1L756.3,330.2L750.4,330.2L744.5,330.3L738.7,330.4ZM466.6,349.7L470.8,349L475,348.3L491,363L487,363.8L483.1,364.6ZM773.9,330L779.8,330L785.7,330L786.2,342.6L780.6,342.6L774.9,342.7ZM1013.8,336.6L1019.1,337L1024.3,337.4L1029.5,337.8L1034.6,338.2L1023.9,351.8L1019,351.3L1014.1,350.9L1009.2,350.4L1004.2,350ZM454.5,372L457.9,371L461.3,370L464.7,369.1L468.3,368.1L471.9,367.2L475.6,366.3L495.2,380.6L491.9,381.6L488.7,382.5L485.5,383.5L482.4,384.6L479.4,385.6L476.4,386.7ZM994.1,349.2L999.1,349.6L1004.2,350L993,363.1L988.3,362.7L983.6,362.3ZM1043,353.8L1047.7,354.3L1052.3,354.9L1056.9,355.5L1061.5,356.1L1046.6,369.7L1042.4,369L1038.1,368.4L1033.8,367.8L1029.4,367.2ZM482.4,384.6L485.5,383.5L488.7,382.5L491.9,381.6L495.2,380.6L498.6,379.7L502.1,378.8L523.3,392.3L520.2,393.2L517.2,394.1L514.3,395.1L511.4,396.1L508.6,397.1L505.9,398.2ZM681.1,357.6L686.2,357.4L691.4,357.2L696.6,357L701.8,356.8L707.7,369.1L702.9,369.4L698,369.6L693.2,369.8L688.3,370.1ZM1046.6,369.7L1050.7,370.3L1054.9,371L1037.3,384.2L1033.6,383.5L1029.8,382.8ZM511.4,396.1L514.3,395.1L517.2,394.1L520.2,393.2L523.3,392.3L546.7,404.9L544,405.8L541.4,406.8L538.9,407.7L536.4,408.7ZM747.3,367.8L752.3,367.7L757.3,367.6L762.3,367.6L767.3,367.5L772.3,367.4L777.4,367.4L782.4,367.3L787.4,367.3L788.2,379.3L783.5,379.4L778.8,379.4L774.2,379.5L769.5,379.5L764.9,379.6L760.2,379.7L755.6,379.8L751,379.9ZM1037.3,384.2L1041,384.9L1044.7,385.6L1048.3,386.4L1051.8,387.2L1030.7,399.7L1027.6,398.9L1024.4,398.2L1021.1,397.4L1017.8,396.7ZM546.7,404.9L549.5,404L552.3,403.1L555.2,402.2L558.2,401.4L582,413.1L579.5,414L577,414.8L574.6,415.7L572.2,416.6ZM653.3,385.6L657.5,385.2L661.7,384.8L674,396.6L670.2,397L666.4,397.4ZM1011,395.3L1014.5,396L1017.8,396.7L996.4,408.5L993.5,407.8L990.4,407.1ZM644.4,400.1L648,399.6L651.6,399.2L667.9,410.6L664.7,411L661.6,411.5ZM789.9,402.6L793.7,402.6L797.5,402.6L801.3,402.6L805.1,402.6L804.1,413.9L800.8,413.9L797.5,413.8L794.2,413.9L790.9,413.9Z"/>
<path fill="#d6e5ee" d="M688.2,69L690.2,69.5L692.2,69.9L670,79.8L667.5,79.3L665,78.8ZM709.4,73.1L711.7,73.5L714,73.8L696.8,84.2L694,83.8L691.2,83.4ZM680.3,81.7L683,82.2L685.7,82.6L667.9,93.4L664.7,93L661.6,92.5ZM714.3,86.2L717.4,86.5L720.4,86.8L708.4,97.9L704.9,97.6L701.4,97.3ZM726.5,87.4L729.6,87.6L732.7,87.9L722.7,99L719.1,98.7L715.5,98.5ZM948,74.2L950,73.5L952,72.9L953.9,72.2L955.8,71.6L957.6,70.9L959.4,70.2L961.1,69.4L962.8,68.7L964.4,68L965.9,67.2L995.3,76.8L993.3,77.6L991.3,78.4L989.3,79.2L987.1,80L984.9,80.8L982.7,81.5L980.4,82.3L978,83L975.6,83.7L973.1,84.4ZM971.5,64.1L972.7,63.2L973.8,62.4L974.9,61.6L975.9,60.7L976.9,59.8L977.7,59L1010.8,67.5L1009.5,68.5L1008.3,69.5L1006.9,70.5L1005.5,71.4L1003.9,72.4L1002.3,73.3ZM687.7,95.9L691.1,96.3L694.5,96.6L681.8,108.1L677.9,107.7L674,107.4ZM646.6,171L652.3,171.3L657.9,171.5L652.8,184.6L647,184.4L641.1,184.2ZM669.2,171.9L674.9,172.1L680.7,172.3L676.5,185.3L670.5,185.1L664.6,185ZM618,183.3L623.8,183.6L629.5,183.8L624.7,197.2L618.8,197.1L612.8,196.9ZM652.8,184.6L658.7,184.8L664.6,185L660.8,198.2L654.8,198.1L648.7,197.9ZM573,209.5L578.9,209.7L584.8,209.9L581.5,223.8L575.5,223.7L569.5,223.6ZM545.7,223.1L551.6,223.2L557.5,223.3L563.5,223.5L569.5,223.6L575.5,223.7L581.5,223.8L579.5,237.9L573.4,237.8L567.4,237.8L561.3,237.7L555.3,237.6L549.3,237.6L543.4,237.5ZM593.7,224.1L599.8,224.2L605.9,224.3L612.1,224.4L618.3,224.5L616.7,238.2L610.4,238.2L604.2,238.1L598,238.1L591.8,238ZM485.6,236.6L491.2,236.7L496.9,236.8L495.9,252L490.2,252L484.6,252ZM693.1,238.7L699.5,238.7L706,238.7L712.5,238.7L719,238.7L725.5,238.8L732,238.8L738.5,238.8L745.1,238.8L751.6,238.8L758.2,238.8L758.1,252L751.5,252L744.9,252L738.4,252L731.8,252L725.3,252L718.8,252L712.3,252L705.7,252L699.2,252L692.8,252ZM543.4,266.5L549.3,266.4L555.3,266.4L557.5,280.7L551.6,280.8L545.7,280.9ZM593.7,279.9L599.8,279.8L605.9,279.7L608.8,293.5L602.8,293.6L596.7,293.8ZM1010.2,294.1L1016.1,294.3L1022,294.5L1017.2,308.5L1011.4,308.2L1005.6,308ZM673,305.5L679.2,305.4L685.3,305.3L688.4,318.4L682.4,318.6L676.5,318.7ZM760.9,317.3L767,317.3L773.1,317.3L773.9,330L768,330.1L762.1,330.1ZM785.7,330L791.6,330L797.5,330L797.5,342.6L791.8,342.6L786.2,342.6ZM1004.2,350L1009.2,350.4L1014.1,350.9L1019,351.3L1023.9,351.8L1028.8,352.3L1033.6,352.8L1038.3,353.3L1043,353.8L1029.4,367.2L1025,366.7L1020.6,366.1L1016.1,365.6L1011.6,365.1L1007,364.6L1002.4,364.1L997.7,363.6L993,363.1ZM983.6,362.3L988.3,362.7L993,363.1L980.4,375.9L976,375.4L971.6,375ZM1029.4,367.2L1033.8,367.8L1038.1,368.4L1042.4,369L1046.6,369.7L1029.8,382.8L1025.9,382.1L1022,381.5L1018,380.8L1014,380.2ZM659.9,371.9L664.5,371.5L669.3,371.2L678.9,383.4L674.5,383.7L670.2,384.1ZM737.3,368.1L742.3,368L747.3,367.8L751,379.9L746.4,380L741.8,380.2ZM962.7,374.1L967.2,374.5L971.6,375L958.2,387.3L954.2,386.8L950.1,386.4ZM1005.9,379L1010,379.6L1014,380.2L1018,380.8L1022,381.5L1025.9,382.1L1029.8,382.8L1033.6,383.5L1037.3,384.2L1017.8,396.7L1014.5,396L1011,395.3L1007.6,394.6L1004,393.9L1000.5,393.3L996.8,392.7L993.2,392.1L989.5,391.5ZM661.7,384.8L665.9,384.4L670.2,384.1L681.8,395.9L677.9,396.3L674,396.6ZM788.2,379.3L792.8,379.3L797.5,379.3L797.5,391.1L793.2,391.1L789,391.1ZM966.3,388.2L970.2,388.7L974.2,389.3L978,389.8L981.9,390.3L985.7,390.9L989.5,391.5L993.2,392.1L996.8,392.7L1000.5,393.3L1004,393.9L1007.6,394.6L1011,395.3L990.4,407.1L987.4,406.5L984.3,405.8L981.1,405.2L977.9,404.5L974.6,403.9L971.3,403.4L968,402.8L964.6,402.2L961.2,401.7L957.7,401.1L954.2,400.6L950.6,400.1ZM651.6,399.2L655.3,398.7L658.9,398.3L674.4,409.7L671.1,410.1L667.9,410.6ZM780.5,391.2L784.7,391.1L789,391.1L793.2,391.1L797.5,391.1L801.8,391.1L806,391.1L805.1,402.6L801.3,402.6L797.5,402.6L793.7,402.6L789.9,402.6L786.1,402.7L782.3,402.7ZM782.3,402.7L786.1,402.7L789.9,402.6L790.9,413.9L787.6,413.9L784.3,413.9Z"/>
<path fill="#c3d9e7" d="M692.2,69.9L694.3,70.3L696.3,70.8L698.4,71.2L700.6,71.6L680.3,81.7L677.7,81.3L675.1,80.8L672.5,80.3L670,79.8ZM704.9,72.4L707.2,72.8L709.4,73.1L691.2,83.4L688.4,83L685.7,82.6ZM657.9,171.5L663.6,171.7L669.2,171.9L664.6,185L658.7,184.8L652.8,184.6ZM629.5,183.8L635.3,184L641.1,184.2L647,184.4L652.8,184.6L648.7,197.9L642.7,197.8L636.7,197.6L630.7,197.4L624.7,197.2ZM496.9,236.8L502.6,236.9L508.3,237L507.4,252L501.6,252L495.9,252ZM654.6,238.5L660.9,238.5L667.3,238.5L673.7,238.6L680.2,238.6L686.6,238.6L693.1,238.7L692.8,252L686.3,252L679.8,252L673.4,252L667,252L660.5,252L654.1,252ZM495.9,252L501.6,252L507.4,252L508.3,267L502.6,267.1L496.9,267.2ZM758.1,252L764.6,252L771.2,252L771.3,265.2L764.7,265.2L758.2,265.2ZM555.3,266.4L561.3,266.3L567.4,266.2L573.4,266.2L579.5,266.1L585.7,266L591.8,266L593.7,279.9L587.6,280L581.5,280.2L575.5,280.3L569.5,280.4L563.5,280.5L557.5,280.7ZM633.2,292.9L639.3,292.8L645.5,292.7L648.7,306.1L642.7,306.2L636.7,306.4ZM422.5,320.8L427,320.1L431.5,319.5L436.2,319L440.8,318.4L452.5,334.3L448,335L443.7,335.7L439.4,336.4L435.1,337.1ZM685.3,305.3L691.4,305.2L697.6,305.1L703.8,305L710,304.9L716.2,304.8L722.4,304.7L724.4,317.7L718.4,317.8L712.4,317.9L706.4,318L700.3,318.2L694.4,318.3L688.4,318.4ZM1028.6,309L1034.3,309.2L1039.9,309.5L1032.9,323.6L1027.4,323.2L1021.9,322.9ZM773.1,317.3L779.2,317.2L785.3,317.2L791.4,317.2L797.5,317.2L797.5,330L791.6,330L785.7,330L779.8,330L773.9,330ZM993,363.1L997.7,363.6L1002.4,364.1L1007,364.6L1011.6,365.1L1016.1,365.6L1020.6,366.1L1025,366.7L1029.4,367.2L1014,380.2L1010,379.6L1005.9,379L1001.7,378.5L997.5,377.9L993.3,377.4L989.1,376.9L984.8,376.4L980.4,375.9ZM669.3,371.2L674,370.9L678.7,370.6L683.5,370.3L688.3,370.1L693.2,369.8L698,369.6L702.9,369.4L707.7,369.1L712.6,368.9L717.5,368.7L722.5,368.6L727.4,368.4L732.4,368.2L737.3,368.1L741.8,380.2L737.2,380.3L732.6,380.5L728,380.6L723.5,380.8L718.9,381L714.4,381.2L709.9,381.5L705.4,381.7L700.9,382L696.5,382.2L692,382.5L687.6,382.8L683.2,383.1L678.9,383.4ZM971.6,375L976,375.4L980.4,375.9L984.8,376.4L989.1,376.9L993.3,377.4L997.5,377.9L1001.7,378.5L1005.9,379L989.5,391.5L985.7,390.9L981.9,390.3L978,389.8L974.2,389.3L970.2,388.7L966.3,388.2L962.3,387.8L958.2,387.3ZM670.2,384.1L674.5,383.7L678.9,383.4L689.6,395.2L685.7,395.6L681.8,395.9ZM723.5,380.8L728,380.6L732.6,380.5L737.2,380.3L741.8,380.2L746.4,380L751,379.9L755.6,379.8L760.2,379.7L764.9,379.6L769.5,379.5L774.2,379.5L778.8,379.4L783.5,379.4L788.2,379.3L789,391.1L784.7,391.1L780.5,391.2L776.2,391.2L772,391.3L767.8,391.4L763.5,391.5L759.3,391.6L755.1,391.7L750.9,391.8L746.7,392L742.5,392.1L738.4,392.3L734.2,392.5L730.1,392.6ZM658.9,398.3L662.7,397.8L666.4,397.4L670.2,397L674,396.6L687.7,408.1L684.3,408.5L680.9,408.9L677.6,409.3L674.4,409.7ZM730.1,392.6L734.2,392.5L738.4,392.3L742.5,392.1L746.7,392L750.9,391.8L755.1,391.7L759.3,391.6L763.5,391.5L767.8,391.4L772,391.3L776.2,391.2L780.5,391.2L782.3,402.7L778.5,402.8L774.7,402.8L771,402.9L767.2,403L763.4,403.1L759.7,403.2L755.9,403.3L752.2,403.5L748.4,403.6L744.7,403.8L741,404L737.3,404.2ZM752.2,403.5L755.9,403.3L759.7,403.2L763.4,403.1L767.2,403L771,402.9L774.7,402.8L778.5,402.8L782.3,402.7L784.3,413.9L781,414L777.7,414.1L774.5,414.1L771.2,414.2L767.9,414.3L764.7,414.4L761.4,414.5L758.2,414.7Z"/>
<path fill="#adcce0" d="M700.6,71.6L702.7,72L704.9,72.4L685.7,82.6L683,82.2L680.3,81.7ZM685.7,82.6L688.4,83L691.2,83.4L694,83.8L696.8,84.2L699.7,84.6L702.5,84.9L687.7,95.9L684.3,95.5L680.9,95.1L677.6,94.7L674.4,94.3L671.1,93.9L667.9,93.4ZM708.4,85.6L711.4,85.9L714.3,86.2L701.4,97.3L697.9,97L694.5,96.6ZM508.3,237L514.1,237.1L519.9,237.2L525.7,237.3L531.6,237.4L537.4,237.4L543.4,237.5L549.3,237.6L555.3,237.6L561.3,237.7L567.4,237.8L573.4,237.8L579.5,237.9L585.7,238L591.8,238L598,238.1L604.2,238.1L610.4,238.2L616.7,238.2L616.1,252L609.9,252L603.6,252L597.4,252L591.2,252L585,252L578.9,252L572.8,252L566.7,252L560.6,252L554.6,252L548.6,252L542.6,252L536.6,252L530.7,252L524.8,252L519,252L513.2,252L507.4,252ZM629.2,238.3L635.5,238.4L641.8,238.4L648.2,238.4L654.6,238.5L654.1,252L647.8,252L641.4,252L635,252L628.7,252ZM507.4,252L513.2,252L519,252L519.9,266.8L514.1,266.9L508.3,267ZM578.9,252L585,252L591.2,252L591.8,266L585.7,266L579.5,266.1ZM692.8,252L699.2,252L705.7,252L712.3,252L718.8,252L725.3,252L731.8,252L738.4,252L744.9,252L751.5,252L758.1,252L758.2,265.2L751.6,265.2L745.1,265.2L738.5,265.2L732,265.2L725.5,265.2L719,265.3L712.5,265.3L706,265.3L699.5,265.3L693.1,265.3ZM591.8,266L598,265.9L604.2,265.9L605.9,279.7L599.8,279.8L593.7,279.9ZM706,265.3L712.5,265.3L719,265.3L725.5,265.2L732,265.2L738.5,265.2L745.1,265.2L745.5,278.4L739.1,278.4L732.6,278.4L726.1,278.4L719.7,278.5L713.2,278.5L706.8,278.6ZM605.9,279.7L612.1,279.6L618.3,279.5L624.5,279.4L630.7,279.3L633.2,292.9L627.1,293.1L620.9,293.2L614.9,293.3L608.8,293.5ZM645.5,292.7L651.7,292.6L657.9,292.5L664.1,292.4L670.4,292.3L676.6,292.2L682.9,292.1L689.2,292L695.5,291.9L701.8,291.8L708.1,291.8L714.5,291.7L720.8,291.7L722.4,304.7L716.2,304.8L710,304.9L703.8,305L697.6,305.1L691.4,305.2L685.3,305.3L679.2,305.4L673,305.5L666.9,305.7L660.8,305.8L654.8,305.9L648.7,306.1ZM784.7,291.3L791.1,291.3L797.5,291.3L797.5,304.3L791.2,304.3L784.9,304.3ZM722.4,304.7L728.6,304.7L734.9,304.6L741.1,304.6L747.3,304.5L753.6,304.5L759.9,304.4L766.1,304.4L772.4,304.4L778.7,304.3L784.9,304.3L791.2,304.3L797.5,304.3L797.5,317.2L791.4,317.2L785.3,317.2L779.2,317.2L773.1,317.3L767,317.3L760.9,317.3L754.8,317.4L748.7,317.4L742.6,317.5L736.6,317.6L730.5,317.6L724.4,317.7ZM435.1,337.1L439.4,336.4L443.7,335.7L448,335L452.5,334.3L466.6,349.7L462.4,350.5L458.4,351.3L454.3,352.1L450.4,352.9ZM678.9,383.4L683.2,383.1L687.6,382.8L692,382.5L696.5,382.2L700.9,382L705.4,381.7L709.9,381.5L714.4,381.2L718.9,381L723.5,380.8L730.1,392.6L725.9,392.8L721.8,393.1L717.7,393.3L713.6,393.5L709.6,393.8L705.5,394L701.5,394.3L697.5,394.6L693.5,394.9L689.6,395.2ZM674,396.6L677.9,396.3L681.8,395.9L685.7,395.6L689.6,395.2L701.4,406.7L697.9,407L694.5,407.4L691.1,407.7L687.7,408.1ZM721.8,393.1L725.9,392.8L730.1,392.6L737.3,404.2L733.7,404.4L730,404.6Z"/>
<path fill="#97bfd8" d="M702.5,84.9L705.5,85.3L708.4,85.6L694.5,96.6L691.1,96.3L687.7,95.9ZM616.7,238.2L622.9,238.3L629.2,238.3L628.7,252L622.4,252L616.1,252ZM519,252L524.8,252L530.7,252L536.6,252L542.6,252L548.6,252L554.6,252L560.6,252L566.7,252L572.8,252L578.9,252L579.5,266.1L573.4,266.2L567.4,266.2L561.3,266.3L555.3,266.4L549.3,266.4L543.4,266.5L537.4,266.6L531.6,266.6L525.7,266.7L519.9,266.8ZM591.2,252L597.4,252L603.6,252L609.9,252L616.1,252L616.7,265.8L610.4,265.8L604.2,265.9L598,265.9L591.8,266ZM654.1,252L660.5,252L667,252L673.4,252L679.8,252L686.3,252L692.8,252L693.1,265.3L686.6,265.4L680.2,265.4L673.7,265.4L667.3,265.5L660.9,265.5L654.6,265.5ZM604.2,265.9L610.4,265.8L616.7,265.8L622.9,265.7L629.2,265.7L635.5,265.6L641.8,265.6L648.2,265.6L654.6,265.5L660.9,265.5L667.3,265.5L673.7,265.4L680.2,265.4L686.6,265.4L693.1,265.3L699.5,265.3L706,265.3L706.8,278.6L700.4,278.6L694,278.7L687.6,278.7L681.2,278.8L674.8,278.8L668.5,278.9L662.1,279L655.8,279L649.5,279.1L643.2,279.2L636.9,279.3L630.7,279.3L624.5,279.4L618.3,279.5L612.1,279.6L605.9,279.7ZM745.1,265.2L751.6,265.2L758.2,265.2L758.5,278.3L752,278.3L745.5,278.4ZM630.7,279.3L636.9,279.3L643.2,279.2L649.5,279.1L655.8,279L662.1,279L668.5,278.9L674.8,278.8L681.2,278.8L687.6,278.7L694,278.7L700.4,278.6L706.8,278.6L713.2,278.5L719.7,278.5L726.1,278.4L732.6,278.4L739.1,278.4L745.5,278.4L752,278.3L758.5,278.3L759.1,291.4L752.7,291.4L746.3,291.5L739.9,291.5L733.5,291.5L727.2,291.6L720.8,291.7L714.5,291.7L708.1,291.8L701.8,291.8L695.5,291.9L689.2,292L682.9,292.1L676.6,292.2L670.4,292.3L664.1,292.4L657.9,292.5L651.7,292.6L645.5,292.7L639.3,292.8L633.2,292.9ZM771.5,278.3L778,278.3L784.5,278.3L784.7,291.3L778.3,291.3L771.9,291.4ZM720.8,291.7L727.2,291.6L733.5,291.5L739.9,291.5L746.3,291.5L752.7,291.4L759.1,291.4L765.5,291.4L771.9,291.4L778.3,291.3L784.7,291.3L784.9,304.3L778.7,304.3L772.4,304.4L766.1,304.4L759.9,304.4L753.6,304.5L747.3,304.5L741.1,304.6L734.9,304.6L728.6,304.7L722.4,304.7ZM1010.9,322.3L1016.4,322.6L1021.9,322.9L1013.8,336.6L1008.5,336.2L1003.2,335.9ZM475,348.3L479.4,347.5L483.7,346.9L488.2,346.2L492.6,345.5L507.3,360L503.2,360.7L499,361.4L495,362.2L491,363ZM689.6,395.2L693.5,394.9L697.5,394.6L701.5,394.3L705.5,394L709.6,393.8L713.6,393.5L717.7,393.3L721.8,393.1L730,404.6L726.4,404.8L722.7,405L719.1,405.3L715.5,405.5L712,405.8L708.4,406.1L704.9,406.4L701.4,406.7Z"/>
<path fill="#82b2d0" d="M616.1,252L622.4,252L628.7,252L635,252L641.4,252L647.8,252L654.1,252L654.6,265.5L648.2,265.6L641.8,265.6L635.5,265.6L629.2,265.7L622.9,265.7L616.7,265.8ZM758.2,265.2L764.7,265.2L771.3,265.2L771.5,278.3L765,278.3L758.5,278.3ZM758.5,278.3L765,278.3L771.5,278.3L771.9,291.4L765.5,291.4L759.1,291.4Z"/>
</g>

<path fill="none" stroke="#333" stroke-width="1.45" stroke-linejoin="round" stroke-linecap="round" d="M694.9,167.5L696.4,174.6L700.3,182.4L699.8,191.2L697.5,187.6L694.2,181.1L691.6,175.3L691,172M693.6,165.5L696.8,169.4L701.4,179.8L705.2,186.3L709.1,194L707.8,198.6L711.7,201.8L719.5,207L728.6,210.2L733.7,208.9L738.9,213.5L745.4,216.1L751.9,218L755.8,222.5L759.7,227.1L766.1,230.3L770,232.3L773.9,227.7L776.5,229L778.4,234.2L779.1,240.7L775.2,245.9L771.3,251L768.7,257M786.2,150L784.3,157.8L779.1,163L773.9,166.8L770.7,171.4L770.7,178.5L772.6,185L770,186.3L767.4,182.4L765.5,177.2L761.6,174L755.8,172.7L751.2,173.3L748,175.9L742.8,174L737.6,175.3L732.5,179.1L729.9,184.3L728.6,191.5L729.2,196.6L732.5,201.8L737.6,203.1L742.8,201.8L746.1,197.9L749.3,196L755.1,195.3L753.8,199.2L751.2,204.4L749.3,209.6L754.5,209.6L759.7,210.2L762.9,213.5L762.2,220L763.5,225.1L767.4,228.4L772.6,227.1L777.8,227.7L781.7,224.5L786.9,221.9L793.3,220L798.5,221.2L803.7,223.2L810.2,224.5L815.4,223.8L820.5,224.5L821.8,227.7L827,232.9L832.2,235.5L838.7,236.8L843.9,239.4L848.4,244.6L851,251M792.7,222.5L793.6,227.7M759.7,194L764.8,191.5L770,191.5L776.5,194.7L781.7,197.9L786.9,199.9L781.7,199.9L775.2,197.3L768.7,194L762.2,194.7ZM786.9,201.2L793.3,199.9L799.8,201.8L801.1,203.8L794.6,205.1L789.5,204.4L786.9,203.1ZM775.8,204L781,205.1M804.3,203.6L808.9,204.1M775.8,181.5L779.7,182.4M777.4,186.3L778.4,189.5M770,257L767.4,262.2L768.1,267.4L771.3,271.2L775.2,277.7L779.1,284.2L781.7,289.4L786.9,293.3L793.3,297.2L796.6,301L797.2,308.8L795.9,317.9L794.6,327L794,334.7L792,342.5L789.5,350.3L788.8,358L789.5,364M851,319.2L849,324.4L845.2,330.8L840,337.3L833.5,342.5L827,343.1L823.1,341.2L826.4,346.4L824.4,350.3L820.5,352.9L815.4,353.5L812.8,358L808.2,360L807.6,364M788.8,364L786.9,370.5L786.9,378.2L789.5,384.7L793.3,389.3L798.5,392.5L804.3,391.9L801.8,388L799.8,383.4L801.1,378.2L803.7,374.4L802.4,370.5L805,367.9L807.6,364M795.9,387.3L801.1,389.9M812.8,383.7L819.9,384.1M814.7,411.3L808.9,413.2L803.7,415.8L800.5,419.7L801.1,422.9L805,424.9L806.3,430.1L803.7,435.2L797.2,438.5L792,440.4L793.3,445L798.5,448.2L802.4,452.1L807.6,450.1L812.8,448.2L820.5,446.3L821.8,443L828.3,441.1L836.1,439.1L843.9,436.5L851,434M792,428.8L797.2,423.6L799.2,428.8L795.3,431.4ZM806.9,448.2L814.1,442.4L815.4,445L810.2,450.1ZM794.6,431.4L786.9,432L779.1,431.4L772.6,432.7L768.7,430.1L764.8,431.4L766.1,434.6L771.3,436.5L764.8,436.5L757.1,434.6L748,435.2L741.5,437.8L736.3,441.1L735,445L738.9,448.2L746.7,448.8L753.2,450.1L755.8,452.7L762.2,454.7L768.7,456.6L776.5,457.9L768.7,459.2L761,459.2L750.6,457.9L740.2,456.6L728.6,454L723.4,452.1L713,449.5L704,446.3L696.2,442.4L691,440.4M851,433.3L856.2,431.4L864,432L871.7,431.4L879.5,430.7L884.7,432L889.9,434L897.6,434L906.7,432.7L908,434.6L913.2,432.7L923.5,431.4L933.9,430.7L940.4,431.4L933.9,434.6L939.1,438.5L931.3,441.7L921,443.7L913.8,445.6L923.5,444.3L933.9,442.4L944.3,441.1L953.3,441.1L957.2,444.3L963.7,445.6L971.5,444.3L967.6,446.9M691,440.4L678.7,439.8L668.3,439.1L660.5,438.9L652.8,438.5L645,437.8L641.1,439.8L634.6,438.5L630.1,437.8L635.9,441.1L633.3,445L629.5,446.3L623.6,446.3M508.3,364L504.4,358L499.2,350.3L494.1,342.5L487.6,336L481.1,329.5L473.3,323.1L465.6,316.6L459.1,311.4L453.9,304.9L448.7,298.5L443.5,292L440.3,286.8L441,294.6L443.5,302.3L446.1,308.8L443.5,310.1L438.4,306.2L433.2,302.3L430.6,295.9L429.9,292L425.4,292.6L420.2,290L418.9,294.6L419.6,301L415,301L411.8,302.3L411.2,308.8L412.5,315.3L409.9,321.8L407.3,328.2L408.6,334.7L412.5,339.9L417.6,345.1L422.8,350.3L429.3,355.5L435.8,360.6L441,364M413.7,258.3L422.8,258.9L430.6,260.9L438.4,264.8L443.5,269.3L448.7,270L446.8,273.8L450,279L455.2,284.2L457.1,285.5L451.3,282.9L447.4,278.4L444.2,276.4L441,277.7L438.4,281.6L433.2,280.3L429.3,279.7L428,275.1L425.4,270L421.5,266.1L416.3,263.5L413.7,260.9ZM452.6,260.2L457.1,263.5L457.8,267.4L453.9,270.6L449.4,271.2L453.9,269.3L455.8,266.1L454.6,262.8ZM461.7,268L465.6,272.5L472,276.4L477.2,280.3L482.4,285.5M496,296.5L500.5,302.3M497.9,314L507.7,319.8M523.9,304.9L527.7,300.4M387.8,258.3L391.7,257L396.9,270L393,271.2L389.8,266.1ZM401.4,262.8L411.2,264.1M419.6,270L420.2,275.1M372.9,277.1L378.8,279L384.6,282.3L378.8,282.9L373.6,281ZM387.8,282.3L398.9,281.6M392.4,286.1L396.9,288.1M402.1,287.4L407.3,281.6M371,263.5L376.2,264.8L382.7,266.1M444.8,150L438.4,155.2L431.9,159.1L425.4,164.2L418.9,168.1L411.2,171.4L400.8,174M418.9,174.6L428.6,165.5M409.9,186.9L413.1,187.6L409.9,194L406,199.2L403.4,197.9L406.6,191.5ZM400.8,201.8L407.3,203.1L408.6,210.9L406,217.4L404.7,225.1L402.1,231.6L399.5,230.3L396.3,226.4L400.1,221.2L401.4,214.8L400.1,208.3ZM387.8,221.2L395.6,212.2M371,243.3L376.2,238.1L381.4,231.6L386.5,227.1L388.5,234.2L385.2,239.4L386.5,245.9L384,251L383.3,257M389.1,248.5L398.2,247.2L396.9,250.4L390.4,252.3L389.1,257M404,244.6L405.3,253.6M531,110.4L541.4,106.5L551.7,101.3L562.1,96.1L569.9,90.9L573.7,89.6L577.6,86.4L586.7,83.2L595.8,81.2L603.5,80.8L608.7,82.5L613.9,81.9L621.7,80.8L629.5,80.6L638.5,79.9L633.3,81.9L630.1,84.5M608.7,82.5L601,88.3L590.6,94.2L582.8,98.7L576.3,103.2L585.4,100L593.2,95.5L603.5,89.6L613.9,84.5M531,116.8L538.8,112.3L550.4,105.8M630,85.7L639,84.8L647.9,83L652.4,83.9L659.6,79.4L665.8,78.5L669.4,76.7L676.6,78.5L683.8,79.4L688.2,78.5L691.8,74.9L697.2,72.7L704.4,70.9L712.4,69.6L716,72.3L721.4,75.8L726.8,76.7L733,75.4L740,76.7M669.4,76.7L676.6,75.8L681.1,72.3L683.8,68.7L680.2,66.9L674.8,68.7L671.2,66L675.7,62.4L673.9,59.7L678.4,57.9L680.2,55.2L672.1,55.2L665.8,56.1L663.1,55.7L670.3,53.4L676.6,52.5L678.4,49L676.6,47.2M690.9,52.5L700.8,50.3L701.7,52.5L698.1,54.8L692.7,53.9ZM690,66.4L696.7,66M630,81.7L638.5,79.4M676.6,78.5L678.4,82.1L682.9,83L680.2,84.8L674.8,85.7L669.4,86.6L665.8,88.4L660.5,90.6L658.7,92L662.3,93.8L661.4,96L667.6,97.3L670.3,99.1L664,100.9L656.9,101.8L649.7,103.2L642.5,104.5L650.6,102.7L659.6,100.9L668.5,99.1L673,96.4L678.4,93.8L683.8,92.4L687.3,93.8L691.8,97.3L696.3,100.9L697.2,104.5L695.8,109L694.5,114M689.1,110.8L691.8,114M729.9,76L736.3,75.4L742.8,78L746.7,81.9L753.2,81.9L761,80.6L767.4,83.2L771.3,80.6M742.8,72.8L748,67.6L755.8,68.3L761,72.8L758.4,78L750.6,76.7L744.1,76ZM755.8,62.4L763.5,59.8L771.3,59.2L773.9,63.7L768.7,67.6L761,67ZM773.9,59.8L781.7,56L789.5,53.4L798.5,51.4L801.1,54.7L797.2,59.8L792,65L786.9,67.6L780.4,66.3L775.2,65ZM781.7,56L786.9,58.5L790.7,56M763.5,68.9L771.3,70.2L779.1,68.9L784.3,74.1L789.5,76.7L793.3,72.8L789.5,67.6M768.7,75.4L776.5,76.7L781.7,80.6M802.4,54.7L807.6,50.8L814.1,49.5L820.5,51.4L825.7,52.7L828.3,56L833.5,59.8L840,65L845.2,70.2L848.4,75.4L846.4,79.3L842.6,80.6L841.3,85.7L836.1,89.6L837.4,94.8L838,99.3L833.5,98.7L828.3,96.1L824.4,90.9L820.5,85.7L817.9,80.6L815.4,75.4L811.5,70.2L807.6,66.3L802.4,65L798.5,61.1L799.8,57.2ZM792,78L798.5,79.3L803.7,83.2L807.6,87L805,90.9L802.4,94.8L806.3,98.7L805,102.6L799.8,97.4L797.2,92.2L793.3,87L789.5,81.9ZM771.3,80.6L773.9,84.5L775.2,88.3L771.3,92.2L766.1,94.8L761,98.7L759,102.6L761.6,106.5L766.1,108.4L771.3,110.4L775.2,113L776.5,118.1L779.1,120.7L781.7,118.1L781.7,113.6L784.3,110.4L786.9,105.2L787.5,100L785.6,96.1L789.5,94.8L794.6,96.1L798.5,100L801.1,103.9L805,100L808.9,105.2L812.8,110.4L817.9,114.2L821.8,118.1L824.4,122L820.5,120.7L815.4,122L807.6,123.3L801.1,125.9L794.6,132.4L801.1,128.5L807.6,127.2L811.5,131.1L807.6,133.7L814.1,132.4L817.9,131.1L811.5,135L805,137.6L801.1,141.5L797.2,145.3L792,146.6L788.2,150M819.2,125.9L825.7,124.6L830.9,128.5L829.6,132.4L823.1,131.1L818.6,128.5ZM691,94.8L694.9,98.7L696.8,105.2L693.6,110.4L691,113M691,119.4L696.2,120.7L697.5,125.9L693.6,131.1L691,132.4M844.5,53.4L851,55.3M854.9,85.1L860.1,83.2L866.5,84.5L870.4,87.7L867.8,90.9L861.4,90.9L856.8,88.3ZM851,56L855.5,57.2L860.1,59.2M853.6,48.8L858.8,49.5M884,52.1L892.5,57.2L902.8,61.1L915.8,63.7M898.9,48.2L908,53.4L918.4,57.2L928.7,61.1L941.7,64.4L951.4,67.6M922.2,63.7L928.7,68.9L923.5,71.5M889.9,68.9L891.2,74.1L895.7,79.9L900.9,83.8L901.5,88.3L905.4,93.5L911.2,98.1L915.8,99.3L917.7,96.1L921,97.4L923.5,102.6L927.4,107.8L932.6,109.1M909.3,79.9L911.9,80.6L915.8,85.7L921,90.3L926.1,92.9L931.3,92.9L936.5,90.9L940.4,93.5L944.3,100L944.9,103.9L940.4,105.2L935.2,107.8M889.9,68.9L897.6,69.6L906.7,70.9L915.8,70.5L923.5,72.8L928.7,76L932,80.6L927.4,79.9L921,77.3M899.8,100L904.1,100.6L906.7,103.9L908,106.5L911.9,107.8L915.8,110.4L919.7,113L923.5,114.9L925.5,117.5L922.2,119.4L918.4,119.7L915.1,121L913.2,119.4L915.8,117.5L911.9,116.2L911.2,113.6L908.6,111.7L906.7,108.4L903.5,106.5L900.9,103.9ZM902.2,110.4L905.4,109.7L907.7,112.3L907.3,115.5L904.1,116.8L901.5,114.2ZM932.6,177.9L930,183.7L928.1,191.5L928.7,195.3L932,201.8L932.6,207L930.7,212.2L933.9,217.4L936.5,221.2L941.7,225.1L945.6,230.3L950.7,235.5L955.9,239.4L961.1,240L967.6,238.1L974.1,238.7L980.5,236.1L987,234.8L992.2,238.1L1000,238.7L1003.2,243.3L1003.2,249.7L1001.3,257M851,252.3L857.5,253.6L864,256.2M864,258.3L871.7,259.6L879.5,262.2L886,265.4L889.2,270L888.6,275.1L884.7,280.3L880.8,284.9L877.6,288.1L876.9,294.6L875,301L871.7,307.5L867.8,312.1L862.7,313.3L856.2,315.3L851,318.5M1011,163L1018.8,163.6L1025.2,162.3L1030.4,163L1031.7,161L1028.5,155.2L1025.2,150M1029.1,166.2L1035.6,172L1042.1,178.5L1048.6,185L1055,191.5L1060.2,197.9L1066.7,204.4L1073.2,209.6L1078.4,214.8L1074.5,207L1069.3,200.5L1064.1,194L1057.6,187.6L1051.2,181.1L1043.4,175.3L1036.9,169.4L1035.6,166.2ZM1078.4,214.1L1084.8,210.9L1091.3,207L1095.2,201.8L1100.4,199.2L1103,194L1101.7,188.9L1100.4,182.4L1095.2,178.5L1088.7,175.9L1087.4,170.7L1083.5,170.1L1084.8,174.6L1082.2,179.1L1077.1,175.9L1071.9,172L1066.7,168.1L1062.8,164.2L1060.9,162.3L1065.4,163.6L1070.6,166.8L1077.1,169.4L1083.5,170.1M1088.7,175.3L1096.5,174L1104.3,173.3L1108.2,172.7L1112,175.9L1118.5,179.8L1123.7,184.3L1127.6,183.7L1130.2,187.6L1135.4,194L1140.5,201.8L1145.7,208.3L1150.9,216.1L1154.8,222.5L1157.4,225.8L1158.7,220L1158,213.5L1156.1,207L1153.5,200.5L1155.4,194L1156.1,187.6L1155.4,181.1L1158.7,175.9L1163.9,179.8L1171,184.3M1160,219.3L1163.9,221.9L1166.4,227.7L1165.2,232.3L1162.6,231L1160.6,225.1ZM1078.4,214.8L1079.7,218.7L1083.5,220.6L1090,217.4L1096.5,214.8L1097.8,222.5L1096.5,230.3L1093.9,238.1L1088.7,245.9L1083.5,252.3L1080.3,257M1016.2,118.1L1020.1,116.2L1025.2,118.1L1026.5,123.3L1031.7,127.2L1038.2,129.8L1043.4,133.7L1048.6,137.6L1053.7,141.5L1052.5,144L1047.3,143.4L1040.8,140.2L1036.9,136.3L1031.7,132.4L1025.2,128.5L1018.8,124.6ZM1154.9,180.4L1158.7,175L1162.6,177.5L1167.5,182.3L1172.3,186.2L1177.1,191L1179.1,195.9L1182,196.8L1183.9,193L1186.8,197.8L1189.7,202.6L1192.6,207.5L1194.6,210M1191.7,173.6L1191.7,178.4L1194.6,183.3L1199.4,188.1L1204.3,193L1208.1,196.8L1211,200.7L1213,206.5L1213.9,210M1198.5,180.4L1200.4,179.9L1201.8,183.3L1200.4,185.2ZM1187.8,200L1191.7,204.8L1194.6,208.7L1196.5,214.5L1197.5,220.3L1200.4,224.2L1203.3,228.1L1205.2,232.9L1207.2,238.7L1210.1,242.6L1213,246.5L1213.9,247.5L1212,242.6L1211,237.8L1209.1,232.9L1206.2,229.1L1203.3,225.2L1201.4,221.3L1199.4,217.4L1198.5,211.6L1197.5,205.8L1196.5,203.9M1197.5,205.8L1200.4,206.8L1203.3,210.7L1207.2,213.6L1210.1,216.5L1211,220.8L1213,214.5L1214.9,209.7M1194.6,232.9L1197.5,232.9L1201.4,235.8L1205.2,241.6L1209.1,247.5L1213,253.3L1215.9,259.1L1216.9,263.9L1215.9,269.7L1214.4,273.6L1213,271.7L1211,266.8L1208.1,261L1205.2,254.2L1202.3,247.5L1199.4,241.6L1196.5,236.8ZM1213,275.5L1216.9,274.6L1220.7,277.5M1223.1,245.5L1224.1,253.3M1002.1,257L1006,262.2L1009.2,270L1009.9,276.4L1009.2,282.9L1006,289.4L1002.1,295.9L1000.1,303.6L1000.8,312.7L998.9,321.8L997.6,330.8L996.3,339.9L993,346.4L994.3,349L1000.8,347.7L1008.6,347L1015,345.1L1022.8,341.2L1029.3,336L1035.8,329.5L1039.7,324.4L1046.1,321.8L1050,316.6L1050.7,310.1L1056.5,306.2L1063,302.3L1068.2,298.5L1071.4,292L1073.3,284.2L1072.7,276.4L1073.3,268.7L1075.9,262.2L1079.8,257M1092.1,288.1L1092.8,294.6L1090.2,301L1086.3,307.5L1081.1,314L1075.9,320.5L1070.7,325.7L1065.6,328.2L1063.6,325.7L1065.6,319.2L1070.7,312.7L1074.6,306.2L1077.2,301L1083.7,297.2L1088.9,292ZM684,91.9L690.5,95.2L694.4,99.1L697,103L695.7,109.4L694.4,114.6L691.8,119.8L694.4,127.6L690.5,132.7L685.3,139.2L682.7,145.7L682.7,152.2L684.7,158.7L688.6,165.1L689.9,171.6L691,172.9M691.8,119.1L697.6,121.1L698.3,127.6L695.1,128.2L692.5,123.7ZM688.6,110.7L691.2,115.3M483.6,330L489.4,335.8L495.2,342.6L500,349.4L503.9,355.2L508.7,362L512.6,365.8L515,368.3L513.6,371.6L508.7,372.6L502.9,371.6L498.1,369.7L493.2,366.8L488.4,364.9L484.5,362.9L480.7,360L475.8,358.1L470,357.1M517.9,377.5L523.3,377L528.1,379.4L532,382.8L533.4,385.2L530,385.7L525.2,383.3L520.4,379.9ZM545.5,352.8L550.4,355.2L555.2,358.1L559.1,361L563,360.5L565.9,362L567.8,365.8L566.9,368.7L562,366.8L560.1,363.4L557.2,361M562,368.7L564.9,370.7L567.8,373.6L570.7,377.5L573.6,380.4L576.5,384.2L577.5,386.7L572.7,386.7L568.8,384.2L566.9,380.4L565.4,375.5L563,371.6ZM442.3,363.9L447.1,367.8L451,370.7L455.9,372.1L458.3,371.2L456.8,367.8L460.7,365.8L458.8,362L459.2,358.6L462.6,355.7L467.5,356.2L472.3,357.6L477.2,359.5L481,362L484.9,363.4L489.8,365.4L494.6,368.3L499.4,370.7L504.3,372.1L510,371.6M400.2,173.9L407.9,171.5L415.7,169.1L423.4,165.2L431.2,160.4L438,155L444.7,149.7L449.6,144.9L454.4,139.1L458.3,133.7L464.1,131.3L468.9,128.4M468.9,128.4L471.9,122.6L477.7,119.7L484.4,117.3L488.3,117.7L486.4,121.1L481.5,124.5L477.7,128.4L473.8,131.3L469.9,129.4ZM418.6,174.9L423.4,169.1L429.2,165.2M495,122.6L489.3,123.6L484.4,126.9L479.6,130.8L473.8,134.2L468,137.6L472.8,137.1L479.6,135.2L485.4,134.2L491.2,133.2L495,132.3M461.2,149.2L466,144.9L471.9,142L478.6,141L481.5,142L475.7,143.9L469.9,146.8L465.1,148.7ZM920.7,101.9L925.5,100L933.2,101L939.1,101.9L944.9,103.9L943.9,106.3L939.1,106.8L935.2,108.7L929.4,109.2L925.5,105.8L921.6,104.4ZM927.4,109.7L925.5,112.6L927.4,115.5L926.5,118.4L922.6,120.8L919.7,123.2L924.5,125.2L929.4,128.1L933.2,131L935.2,134.9L929.4,136.3L922.6,136.3L920.7,137.8L923.6,141.6L925.5,146.5L929.4,150.4L933.2,152.8L937.1,152.8L939.1,155.2L942.9,152.8L946.8,150.4L947.3,146.5L944.9,142.6L944.9,138.7L946.8,135.8L951.6,134.4L954.6,132.4L957.5,129.1L962.3,132L967.1,134.9L972,136.8L976.8,139.7L979.7,142.6L981.7,146.5L977.8,147.5L976.8,144.6L973,140.7L968.1,137.8M958.4,128.1L964.2,130L970,132.9L975.9,134.9L979.7,137.8L983.6,141.6L986.5,144.6L990.4,147.5L994.3,149.4L997.2,150.4M957.5,135.8L960.4,139.7L964.2,144.6L965.2,146M987.5,139.7L991.4,138.7L995.2,141.6L996.2,146.5L998.1,150.4M986.5,122.3L992.3,123.2L995.2,119.4L998.1,119.4L1000.1,123.2L1006.9,126.2L1013.6,129.1L1019.4,132L1019.4,133.9L1014.6,135.4L1007.8,133.4L1003,133.9L1000.1,136.8L996.2,137.8L993.3,134.9L990.4,130L988.5,126.2ZM998.1,141.6L1003,145.5L1007.8,148.4L1011.7,149.4L1016.5,147.5L1021.4,147.5L1025.3,150.4L1028.2,156.2L1030,162M1018.5,150.8L1022.3,153.3M1000.1,152.8L1006.9,153.3M939.1,155.2L940,157.1L943.9,157.1L948.7,155.2L953.6,152.8L958.4,151.3L964.2,150.4L970,149.4L973,151.3L974.9,155.2L977.8,159.1L983.6,161L989.4,163L994.3,164.9L999.1,166.8L1002,165.9L1001,162L1003,160L1007.8,161L1012.7,162.5L1017.5,163.4L1022.3,163L1026.2,162L1030,163M939.1,155.2L938.1,159.1L935.7,163L935.7,167.8L937.6,171.7L935.2,175.5L932.3,177.5L931.8,180M776.9,90.8L781.4,89L785.8,92.6L783.1,96.2L778.7,95.3L776.9,90.8M796.6,85.5L801.1,84.6L804.6,88.1L807.3,92.6L803.8,97.1L800.2,94.4L797.5,89.9M789.4,63.1L793.9,60.4L798.4,56.8M792.1,76.5L796.6,78.3L800.2,81.9"/><path fill="none" stroke="#333" stroke-width="2.6" stroke-linejoin="round" stroke-linecap="round" d="M756.3,63.1L761.6,61.3L767.9,60.4L770.6,64L766.1,65.8L759.9,65.8L756.3,63.1M771.5,60.4L776.9,58.6L784,58.6L788.5,61.3L785.8,64.9L779.6,65.8L774.2,64L771.5,60.4M775.1,66.6L781.4,68.4L787.6,67.5L789.4,71.1L784,72.9L778.7,72L775.1,66.6M750.9,70.2L755.4,68.4L759.9,71.1L758.1,75.6L753.6,77.4M763.4,74.7L768.8,72.9L773.3,76.5L770.6,81L765.2,80.1M772.4,80.1L776.9,78.3L779.6,81.9L776.9,84.6L773.3,83.7M780.5,77.4L785.8,75.6L787.6,80.1L784.9,84.6L781.4,81.9M583.5,192.5L585,194L588,198"/>

</g>
<!-- colourbar -->
<rect x="540.75" y="520.75" width="514.5" height="26" fill="url(#cb)" stroke="#000" stroke-width="1.5"/>
<g transform="translate(0,505.7) scale(0.9767,1)"><text class="lib" font-size="24.7" font-weight="bold" fill="#fff"><tspan x="582.89">Difference</tspan> <tspan x="711.46">from</tspan> <tspan x="777.43">1981−2010</tspan> <tspan x="908.16">average</tspan> <tspan x="1009.44" font-weight="normal">(°F)</tspan></text></g>
<g transform="translate(0,575.8) scale(0.9794,1)"><text class="lib" font-size="22" fill="#fff"><tspan x="536.77">−5</tspan></text></g>
<g transform="translate(0,575.8) scale(1.0745,1)"><text class="lib" font-size="22" fill="#fff"><tspan x="737.44">0</tspan></text></g>
<g transform="translate(0,575.8) scale(0.9971,1)"><text class="lib" font-size="22" fill="#fff"><tspan x="1051.61">5</tspan></text></g>
<g transform="translate(0,159) scale(0.4950,1)" fill="#fff"><text id="hl" class="lib" font-size="95.6" x="44.7 78.5 148.1 179.5 189.5 277.1 354.8 419.3 483.2 514.0 588.0 622.3 698.9 762.2">IT’S OFFICIAL:</text><use href="#hl" x="-2.88"/><use href="#hl" x="2.88"/></g>
<!-- time-series axes -->
<g stroke="#8c8c8a" stroke-width="1.3" fill="none">
<path d="M72.4,654.9H82.3V751.8H1160.7M72.4,703.3H82.3M72.4,751.8H82.3"/>
<path d="M1160.7,655V761.7M1160.7,664.2H1171M1160.7,708.3H1171M1160.7,751.8H1171"/>
<path d="M197.2,752V761.5"/><path d="M312.3,752V761.5"/><path d="M427.5,752V761.5"/><path d="M542.6,752V761.5"/><path d="M657.8,752V761.5"/><path d="M772.9,752V761.5"/><path d="M888.1,752V761.5"/><path d="M1003.2,752V761.5"/><path d="M1118.4,752V761.5"/>
</g>
<g transform="translate(0,783.1) scale(0.8941,1)"><text class="lib" font-size="22.3" fill="#a6a6a2"><tspan x="94.49">1975</tspan></text></g>
<g transform="translate(0,783.1) scale(0.9056,1)"><text class="lib" font-size="22.3" fill="#a6a6a2"><tspan x="192.64">1980</tspan></text></g>
<g transform="translate(0,783.1) scale(0.9069,1)"><text class="lib" font-size="22.3" fill="#a6a6a2"><tspan x="319.34">1985</tspan></text></g>
<g transform="translate(0,783.1) scale(0.9056,1)"><text class="lib" font-size="22.3" fill="#a6a6a2"><tspan x="446.94">1990</tspan></text></g>
<g transform="translate(0,783.1) scale(0.9069,1)"><text class="lib" font-size="22.3" fill="#a6a6a2"><tspan x="573.29">1995</tspan></text></g>
<g transform="translate(0,783.1) scale(0.8947,1)"><text class="lib" font-size="22.3" fill="#a6a6a2"><tspan x="710.44">2000</tspan></text></g>
<g transform="translate(0,783.1) scale(0.8959,1)"><text class="lib" font-size="22.3" fill="#a6a6a2"><tspan x="837.99">2005</tspan></text></g>
<g transform="translate(0,783.1) scale(0.8947,1)"><text class="lib" font-size="22.3" fill="#a6a6a2"><tspan x="967.86">2010</tspan></text></g>
<g transform="translate(0,783.1) scale(0.8959,1)"><text class="lib" font-size="22.3" fill="#a6a6a2"><tspan x="1095.06">2015</tspan></text></g>
<g transform="translate(0,783.1) scale(0.8947,1)"><text class="lib" font-size="22.3" fill="#a6a6a2"><tspan x="1225.27">2020</tspan></text></g>
<g transform="translate(0,662.5) scale(1.0463,1)"><text class="lib" font-size="21.8" fill="#a6a6a2"><tspan x="13.05">2.0°F</tspan></text></g>
<g transform="translate(0,758.6) scale(1.0254,1)"><text class="lib" font-size="21.8" fill="#a6a6a2"><tspan x="14.75">0.0°F</tspan></text></g>
<g transform="translate(0,671) scale(0.9718,1)"><text class="lib" font-size="21.8" fill="#a6a6a2"><tspan x="1210.86">1.0°C</tspan></text></g>
<g transform="translate(0,758.6) scale(1.0022,1)"><text class="lib" font-size="21.8" fill="#a6a6a2"><tspan x="1171.29">0.0°C</tspan></text></g>
<g transform="translate(0,808.4) scale(1.0152,1)"><text class="lib" font-size="24" fill="#a6a6a2"><tspan x="337.73">yearly</tspan> <tspan x="412.33">temperature</tspan> <tspan x="550.25">compared</tspan> <tspan x="665.13">to</tspan> <tspan x="690.54">20</tspan><tspan x="717.60" font-size="14" dy="-8.5">th</tspan><tspan x="730.45" dy="8.5">-century</tspan> <tspan x="824.55">average</tspan></text></g>
<g transform="translate(0,819) scale(0.9923,1)"><text class="lib" font-size="21.6" fill="#a6a6a2"><tspan x="1004.83">NOAA</tspan> <tspan x="1071.05">Climate.gov/NCEI</tspan></text></g>
<g transform="translate(0,805.9) scale(0.9250,1)" fill="#fff"><text id="noaa" class="lib" font-size="88.4" font-weight="bold" x="14.6 73.2 134.2 197.7">NOAA</text></g>
</svg>
</body></html>
